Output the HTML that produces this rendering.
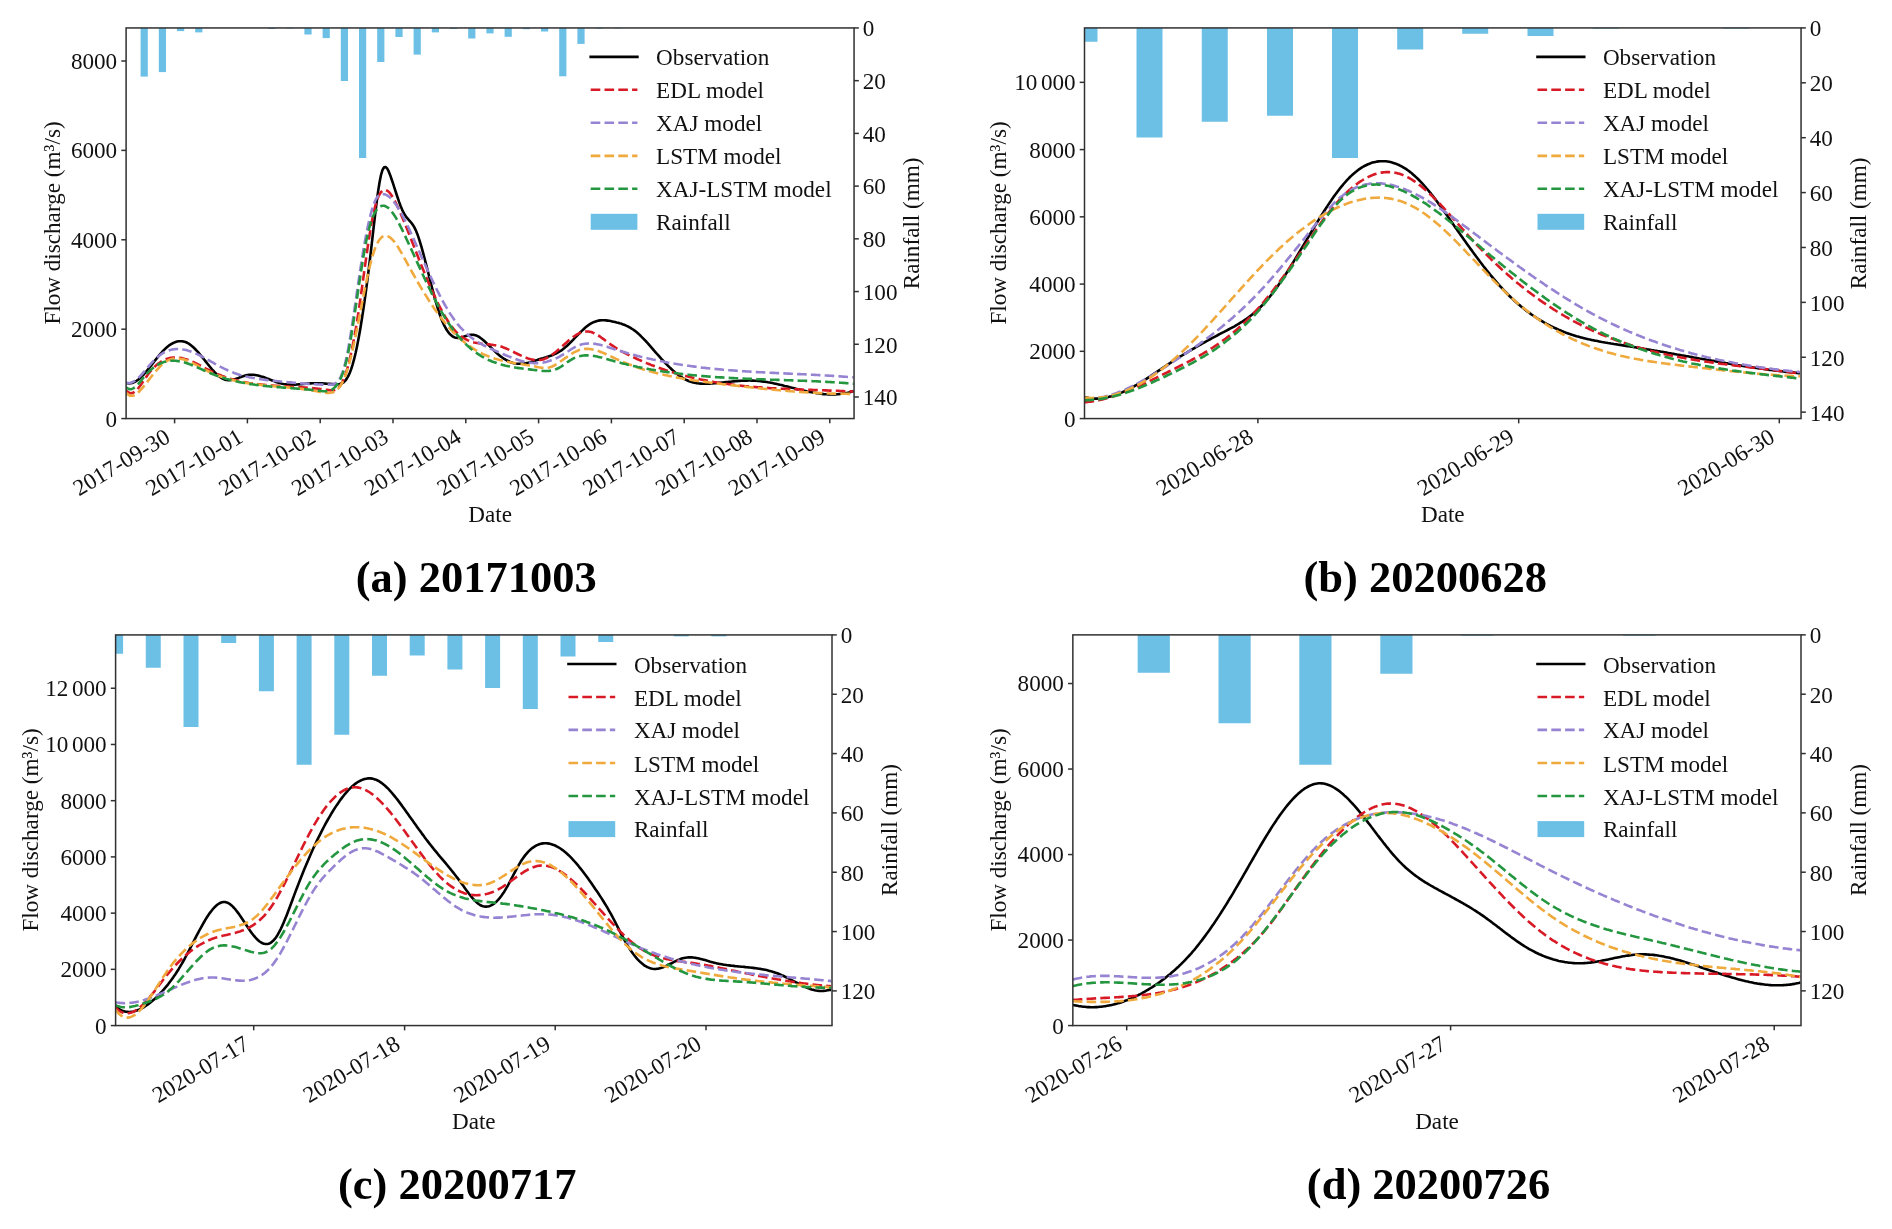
<!DOCTYPE html>
<html><head><meta charset="utf-8"><title>Flood event hydrographs</title>
<style>html,body{margin:0;padding:0;background:#fff;overflow:hidden}svg{display:block;will-change:transform;filter:blur(0.45px)}</style>
</head><body>
<svg width="1892" height="1229" viewBox="0 0 1892 1229" font-family='"Liberation Serif", serif' fill="#111">
<rect width="1892" height="1229" fill="#fff"/>
<clipPath id="cpa"><rect x="126.1" y="27.9" width="727.9" height="390.6"/></clipPath>
<g clip-path="url(#cpa)" fill="#6cc0e6">
<rect x="140.60" y="27.95" width="7.20" height="48.65"/>
<rect x="158.80" y="27.95" width="7.20" height="44.15"/>
<rect x="177.00" y="27.95" width="7.20" height="3.15"/>
<rect x="195.20" y="27.95" width="7.20" height="4.45"/>
<rect x="268.00" y="27.95" width="7.20" height="1.05"/>
<rect x="286.20" y="27.95" width="7.20" height="0.55"/>
<rect x="304.40" y="27.95" width="7.20" height="6.55"/>
<rect x="322.60" y="27.95" width="7.20" height="10.15"/>
<rect x="340.80" y="27.95" width="7.20" height="53.05"/>
<rect x="359.00" y="27.95" width="7.20" height="130.05"/>
<rect x="377.20" y="27.95" width="7.20" height="34.05"/>
<rect x="395.40" y="27.95" width="7.20" height="9.05"/>
<rect x="413.60" y="27.95" width="7.20" height="26.65"/>
<rect x="431.80" y="27.95" width="7.20" height="4.45"/>
<rect x="450.00" y="27.95" width="7.20" height="1.05"/>
<rect x="468.20" y="27.95" width="7.20" height="10.55"/>
<rect x="486.40" y="27.95" width="7.20" height="5.45"/>
<rect x="504.60" y="27.95" width="7.20" height="8.85"/>
<rect x="522.80" y="27.95" width="7.20" height="1.25"/>
<rect x="541.00" y="27.95" width="7.20" height="3.55"/>
<rect x="559.20" y="27.95" width="7.20" height="48.35"/>
<rect x="577.40" y="27.95" width="7.20" height="15.95"/>
<rect x="595.60" y="27.95" width="7.20" height="0.75"/>
<rect x="613.80" y="27.95" width="7.20" height="0.45"/>
</g>
<g clip-path="url(#cpa)" fill="none" stroke-width="2.60" stroke-linejoin="round">
<path d="M126.1 382.9 L127.6 383.2 L129.1 383.4 L130.6 383.3 L132.1 382.9 L133.6 382.4 L135.1 381.7 L136.6 380.8 L138.1 379.7 L139.6 378.4 L141.1 377.1 L142.6 375.6 L144.1 374.0 L145.6 372.3 L147.1 370.5 L148.6 368.7 L150.1 366.8 L151.6 364.9 L153.1 363.0 L154.6 361.0 L156.1 359.1 L157.6 357.3 L159.1 355.4 L160.6 353.7 L162.1 352.0 L163.6 350.4 L165.1 348.9 L166.6 347.5 L168.1 346.3 L169.6 345.1 L171.1 344.2 L172.6 343.3 L174.1 342.6 L175.6 342.0 L177.1 341.6 L178.6 341.3 L180.1 341.2 L181.6 341.3 L183.1 341.4 L184.6 341.8 L186.1 342.3 L187.6 343.0 L189.1 343.9 L190.6 345.0 L192.1 346.2 L193.6 347.5 L195.1 349.0 L196.6 350.6 L198.1 352.2 L199.6 354.0 L201.1 355.8 L202.6 357.6 L204.1 359.5 L205.6 361.4 L207.1 363.3 L208.6 365.2 L210.1 367.0 L211.6 368.8 L213.1 370.5 L214.6 372.1 L216.1 373.6 L217.6 375.0 L219.1 376.3 L220.6 377.4 L222.1 378.3 L223.6 379.1 L225.1 379.7 L226.6 380.0 L228.1 380.2 L229.6 380.2 L231.1 380.0 L232.6 379.8 L234.1 379.4 L235.6 378.9 L237.1 378.4 L238.6 377.9 L240.1 377.3 L241.6 376.7 L243.1 376.2 L244.6 375.7 L246.1 375.3 L247.6 375.0 L249.1 374.8 L250.6 374.7 L252.1 374.7 L253.6 374.8 L255.1 375.0 L256.6 375.2 L258.1 375.5 L259.6 375.9 L261.1 376.4 L262.6 376.8 L264.1 377.3 L265.6 377.9 L267.1 378.5 L268.6 379.0 L270.1 379.6 L271.6 380.2 L273.1 380.8 L274.6 381.4 L276.1 381.9 L277.6 382.4 L279.1 382.9 L280.6 383.3 L282.1 383.7 L283.6 384.0 L285.1 384.2 L286.6 384.4 L288.1 384.5 L289.6 384.6 L291.1 384.7 L292.6 384.7 L294.1 384.6 L295.6 384.6 L297.1 384.5 L298.6 384.4 L300.1 384.3 L301.6 384.2 L303.1 384.0 L304.6 383.9 L306.1 383.8 L307.6 383.6 L309.1 383.5 L310.6 383.4 L312.1 383.3 L313.6 383.3 L315.1 383.3 L316.6 383.3 L318.1 383.3 L319.6 383.3 L321.1 383.4 L322.6 383.4 L324.1 383.5 L325.6 383.6 L327.1 383.7 L328.6 383.8 L330.1 383.9 L331.6 384.0 L333.1 384.1 L334.6 384.2 L336.1 384.3 L337.6 384.3 L339.1 384.2 L340.6 383.8 L342.1 383.2 L343.6 382.3 L345.1 380.9 L346.6 378.9 L348.1 376.4 L349.6 373.3 L351.1 369.4 L352.6 364.7 L354.1 359.2 L355.6 353.0 L357.1 346.0 L358.6 338.3 L360.1 329.9 L361.6 320.8 L363.1 311.1 L364.6 300.8 L366.1 289.9 L367.6 278.4 L369.1 266.4 L370.6 253.9 L372.1 240.9 L373.6 227.7 L375.1 214.8 L376.6 202.5 L378.1 191.4 L379.6 182.0 L381.1 174.6 L382.6 169.7 L384.1 167.3 L385.6 167.0 L387.1 168.4 L388.6 171.2 L390.1 174.9 L391.6 179.2 L393.1 183.7 L394.6 188.3 L396.1 193.0 L397.6 197.5 L399.1 201.9 L400.6 206.0 L402.1 209.6 L403.6 212.7 L405.1 215.3 L406.6 217.4 L408.1 219.2 L409.6 220.8 L411.1 222.5 L412.6 224.5 L414.1 226.9 L415.6 229.8 L417.1 233.4 L418.6 237.6 L420.1 242.3 L421.6 247.4 L423.1 252.8 L424.6 258.5 L426.1 264.3 L427.6 270.3 L429.1 276.2 L430.6 282.2 L432.1 288.0 L433.6 293.7 L435.1 299.3 L436.6 304.5 L438.1 309.5 L439.6 314.0 L441.1 318.2 L442.6 321.9 L444.1 325.1 L445.6 328.0 L447.1 330.5 L448.6 332.6 L450.1 334.3 L451.6 335.6 L453.1 336.7 L454.6 337.4 L456.1 337.8 L457.6 337.9 L459.1 337.9 L460.6 337.6 L462.1 337.2 L463.6 336.7 L465.1 336.2 L466.6 335.7 L468.1 335.2 L469.6 334.9 L471.1 334.7 L472.6 334.7 L474.1 334.9 L475.6 335.3 L477.1 335.9 L478.6 336.7 L480.1 337.7 L481.6 338.8 L483.1 340.0 L484.6 341.3 L486.1 342.7 L487.6 344.1 L489.1 345.6 L490.6 347.1 L492.1 348.6 L493.6 350.1 L495.1 351.6 L496.6 353.0 L498.1 354.3 L499.6 355.6 L501.1 356.7 L502.6 357.8 L504.1 358.8 L505.6 359.7 L507.1 360.5 L508.6 361.2 L510.1 361.9 L511.6 362.4 L513.1 362.9 L514.6 363.2 L516.1 363.5 L517.6 363.7 L519.1 363.8 L520.6 363.8 L522.1 363.8 L523.6 363.6 L525.1 363.4 L526.6 363.1 L528.1 362.8 L529.6 362.4 L531.1 362.0 L532.6 361.5 L534.1 361.0 L535.6 360.5 L537.1 360.1 L538.6 359.6 L540.1 359.1 L541.6 358.6 L543.1 358.2 L544.6 357.7 L546.1 357.3 L547.6 356.8 L549.1 356.3 L550.6 355.8 L552.1 355.2 L553.6 354.6 L555.1 353.9 L556.6 353.2 L558.1 352.4 L559.6 351.5 L561.1 350.6 L562.6 349.5 L564.1 348.3 L565.6 347.0 L567.1 345.7 L568.6 344.3 L570.1 342.8 L571.6 341.3 L573.1 339.8 L574.6 338.2 L576.1 336.7 L577.6 335.1 L579.1 333.6 L580.6 332.0 L582.1 330.6 L583.6 329.2 L585.1 327.8 L586.6 326.6 L588.1 325.4 L589.6 324.3 L591.1 323.4 L592.6 322.6 L594.1 321.9 L595.6 321.4 L597.1 320.9 L598.6 320.6 L600.1 320.4 L601.6 320.3 L603.1 320.3 L604.6 320.3 L606.1 320.4 L607.6 320.6 L609.1 320.8 L610.6 321.1 L612.1 321.4 L613.6 321.7 L615.1 322.0 L616.6 322.4 L618.1 322.7 L619.6 323.2 L621.1 323.6 L622.6 324.2 L624.1 324.7 L625.6 325.4 L627.1 326.1 L628.6 326.8 L630.1 327.6 L631.6 328.6 L633.1 329.5 L634.6 330.6 L636.1 331.8 L637.6 333.0 L639.1 334.4 L640.6 335.8 L642.1 337.3 L643.6 338.8 L645.1 340.4 L646.6 342.0 L648.1 343.7 L649.6 345.4 L651.1 347.1 L652.6 348.8 L654.1 350.6 L655.6 352.3 L657.1 354.0 L658.6 355.7 L660.1 357.4 L661.6 359.1 L663.1 360.7 L664.6 362.3 L666.1 363.9 L667.6 365.4 L669.1 366.9 L670.6 368.3 L672.1 369.7 L673.6 371.1 L675.1 372.4 L676.6 373.6 L678.1 374.8 L679.6 375.9 L681.1 376.9 L682.6 377.9 L684.1 378.8 L685.6 379.6 L687.1 380.3 L688.6 381.0 L690.1 381.5 L691.6 382.0 L693.1 382.4 L694.6 382.8 L696.1 383.1 L697.6 383.3 L699.1 383.5 L700.6 383.6 L702.1 383.7 L703.6 383.7 L705.1 383.7 L706.6 383.7 L708.1 383.6 L709.6 383.6 L711.1 383.5 L712.6 383.4 L714.1 383.3 L715.6 383.2 L717.1 383.0 L718.6 382.9 L720.1 382.8 L721.6 382.6 L723.1 382.5 L724.6 382.3 L726.1 382.1 L727.6 382.0 L729.1 381.8 L730.6 381.7 L732.1 381.5 L733.6 381.4 L735.1 381.3 L736.6 381.1 L738.1 381.0 L739.6 380.9 L741.1 380.8 L742.6 380.7 L744.1 380.7 L745.6 380.6 L747.1 380.6 L748.6 380.5 L750.1 380.5 L751.6 380.6 L753.1 380.6 L754.6 380.7 L756.1 380.8 L757.6 380.9 L759.1 381.0 L760.6 381.2 L762.1 381.4 L763.6 381.6 L765.1 381.8 L766.6 382.0 L768.1 382.3 L769.6 382.5 L771.1 382.8 L772.6 383.1 L774.1 383.4 L775.6 383.7 L777.1 384.1 L778.6 384.4 L780.1 384.8 L781.6 385.1 L783.1 385.5 L784.6 385.9 L786.1 386.2 L787.6 386.6 L789.1 387.0 L790.6 387.4 L792.1 387.8 L793.6 388.1 L795.1 388.5 L796.6 388.9 L798.1 389.3 L799.6 389.6 L801.1 390.0 L802.6 390.4 L804.1 390.7 L805.6 391.0 L807.1 391.4 L808.6 391.7 L810.1 392.0 L811.6 392.3 L813.1 392.6 L814.6 392.8 L816.1 393.1 L817.6 393.3 L819.1 393.5 L820.6 393.7 L822.1 393.9 L823.6 394.1 L825.1 394.2 L826.6 394.3 L828.1 394.4 L829.6 394.4 L831.1 394.5 L832.6 394.5 L834.1 394.4 L835.6 394.4 L837.1 394.3 L838.6 394.2 L840.1 394.0 L841.6 393.8 L843.1 393.6 L844.6 393.4 L846.1 393.1 L847.6 392.8 L849.1 392.4 L850.6 392.0 L852.1 391.5 L853.6 391.1" stroke="#000000"/>
<path d="M126.1 390.5 L127.6 391.9 L129.1 392.8 L130.6 393.2 L132.1 393.1 L133.6 392.5 L135.1 391.5 L136.6 390.1 L138.1 388.4 L139.6 386.5 L141.1 384.5 L142.6 382.3 L144.1 380.1 L145.6 377.9 L147.1 375.7 L148.6 373.6 L150.1 371.7 L151.6 370.0 L153.1 368.3 L154.6 366.8 L156.1 365.4 L157.6 364.1 L159.1 363.0 L160.6 362.0 L162.1 361.0 L163.6 360.2 L165.1 359.5 L166.6 358.9 L168.1 358.5 L169.6 358.1 L171.1 357.8 L172.6 357.6 L174.1 357.5 L175.6 357.5 L177.1 357.5 L178.6 357.7 L180.1 357.9 L181.6 358.1 L183.1 358.5 L184.6 358.9 L186.1 359.3 L187.6 359.8 L189.1 360.4 L190.6 361.0 L192.1 361.6 L193.6 362.3 L195.1 363.0 L196.6 363.7 L198.1 364.5 L199.6 365.2 L201.1 366.0 L202.6 366.8 L204.1 367.6 L205.6 368.4 L207.1 369.1 L208.6 369.9 L210.1 370.7 L211.6 371.4 L213.1 372.1 L214.6 372.8 L216.1 373.5 L217.6 374.1 L219.1 374.7 L220.6 375.3 L222.1 375.9 L223.6 376.4 L225.1 377.0 L226.6 377.5 L228.1 378.0 L229.6 378.4 L231.1 378.9 L232.6 379.3 L234.1 379.7 L235.6 380.1 L237.1 380.5 L238.6 380.9 L240.1 381.2 L241.6 381.6 L243.1 381.9 L244.6 382.2 L246.1 382.4 L247.6 382.7 L249.1 383.0 L250.6 383.2 L252.1 383.4 L253.6 383.7 L255.1 383.9 L256.6 384.1 L258.1 384.3 L259.6 384.4 L261.1 384.6 L262.6 384.8 L264.1 384.9 L265.6 385.0 L267.1 385.2 L268.6 385.3 L270.1 385.4 L271.6 385.5 L273.1 385.6 L274.6 385.7 L276.1 385.8 L277.6 385.9 L279.1 386.0 L280.6 386.1 L282.1 386.2 L283.6 386.3 L285.1 386.4 L286.6 386.4 L288.1 386.5 L289.6 386.6 L291.1 386.7 L292.6 386.7 L294.1 386.8 L295.6 386.9 L297.1 387.0 L298.6 387.1 L300.1 387.2 L301.6 387.3 L303.1 387.4 L304.6 387.5 L306.1 387.6 L307.6 387.7 L309.1 387.8 L310.6 387.9 L312.1 388.1 L313.6 388.2 L315.1 388.4 L316.6 388.5 L318.1 388.7 L319.6 388.9 L321.1 389.0 L322.6 389.2 L324.1 389.4 L325.6 389.7 L327.1 389.9 L328.6 390.1 L330.1 390.3 L331.6 390.4 L333.1 390.4 L334.6 390.1 L336.1 389.4 L337.6 388.5 L339.1 387.0 L340.6 385.1 L342.1 382.6 L343.6 379.4 L345.1 375.6 L346.6 371.0 L348.1 365.8 L349.6 359.9 L351.1 353.3 L352.6 346.1 L354.1 338.3 L355.6 329.9 L357.1 320.9 L358.6 311.2 L360.1 301.1 L361.6 290.5 L363.1 279.7 L364.6 268.9 L366.1 258.2 L367.6 247.8 L369.1 237.9 L370.6 228.6 L372.1 220.2 L373.6 212.8 L375.1 206.5 L376.6 201.4 L378.1 197.3 L379.6 194.2 L381.1 192.0 L382.6 190.6 L384.1 189.9 L385.6 190.0 L387.1 190.6 L388.6 191.7 L390.1 193.3 L391.6 195.4 L393.1 197.8 L394.6 200.5 L396.1 203.5 L397.6 206.7 L399.1 210.0 L400.6 213.4 L402.1 216.9 L403.6 220.5 L405.1 224.1 L406.6 227.8 L408.1 231.6 L409.6 235.4 L411.1 239.2 L412.6 243.0 L414.1 246.9 L415.6 250.7 L417.1 254.5 L418.6 258.3 L420.1 262.1 L421.6 265.9 L423.1 269.6 L424.6 273.3 L426.1 276.9 L427.6 280.4 L429.1 284.0 L430.6 287.4 L432.1 290.8 L433.6 294.1 L435.1 297.3 L436.6 300.5 L438.1 303.6 L439.6 306.5 L441.1 309.4 L442.6 312.2 L444.1 314.8 L445.6 317.4 L447.1 319.8 L448.6 322.2 L450.1 324.4 L451.6 326.4 L453.1 328.3 L454.6 330.1 L456.1 331.8 L457.6 333.3 L459.1 334.6 L460.6 335.9 L462.1 337.0 L463.6 338.0 L465.1 338.9 L466.6 339.7 L468.1 340.4 L469.6 341.0 L471.1 341.5 L472.6 342.0 L474.1 342.4 L475.6 342.7 L477.1 343.0 L478.6 343.3 L480.1 343.5 L481.6 343.7 L483.1 343.8 L484.6 344.0 L486.1 344.1 L487.6 344.3 L489.1 344.4 L490.6 344.6 L492.1 344.7 L493.6 345.0 L495.1 345.2 L496.6 345.5 L498.1 345.8 L499.6 346.2 L501.1 346.6 L502.6 347.1 L504.1 347.7 L505.6 348.3 L507.1 348.9 L508.6 349.6 L510.1 350.3 L511.6 351.0 L513.1 351.8 L514.6 352.5 L516.1 353.3 L517.6 354.0 L519.1 354.7 L520.6 355.4 L522.1 356.1 L523.6 356.8 L525.1 357.4 L526.6 357.9 L528.1 358.5 L529.6 358.9 L531.1 359.3 L532.6 359.6 L534.1 359.9 L535.6 360.0 L537.1 360.1 L538.6 360.1 L540.1 360.0 L541.6 359.7 L543.1 359.4 L544.6 358.9 L546.1 358.3 L547.6 357.5 L549.1 356.7 L550.6 355.7 L552.1 354.7 L553.6 353.6 L555.1 352.4 L556.6 351.2 L558.1 349.9 L559.6 348.6 L561.1 347.3 L562.6 345.9 L564.1 344.6 L565.6 343.2 L567.1 341.9 L568.6 340.6 L570.1 339.4 L571.6 338.2 L573.1 337.1 L574.6 336.0 L576.1 335.0 L577.6 334.2 L579.1 333.4 L580.6 332.7 L582.1 332.2 L583.6 331.8 L585.1 331.6 L586.6 331.5 L588.1 331.5 L589.6 331.7 L591.1 332.1 L592.6 332.6 L594.1 333.2 L595.6 334.0 L597.1 334.8 L598.6 335.7 L600.1 336.7 L601.6 337.8 L603.1 338.8 L604.6 339.9 L606.1 341.1 L607.6 342.2 L609.1 343.3 L610.6 344.4 L612.1 345.4 L613.6 346.4 L615.1 347.4 L616.6 348.3 L618.1 349.2 L619.6 350.1 L621.1 351.0 L622.6 351.8 L624.1 352.6 L625.6 353.4 L627.1 354.2 L628.6 354.9 L630.1 355.7 L631.6 356.4 L633.1 357.1 L634.6 357.8 L636.1 358.5 L637.6 359.2 L639.1 359.9 L640.6 360.5 L642.1 361.2 L643.6 361.8 L645.1 362.4 L646.6 363.1 L648.1 363.7 L649.6 364.3 L651.1 364.9 L652.6 365.4 L654.1 366.0 L655.6 366.6 L657.1 367.1 L658.6 367.7 L660.1 368.2 L661.6 368.7 L663.1 369.2 L664.6 369.8 L666.1 370.3 L667.6 370.7 L669.1 371.2 L670.6 371.7 L672.1 372.2 L673.6 372.6 L675.1 373.1 L676.6 373.5 L678.1 373.9 L679.6 374.3 L681.1 374.8 L682.6 375.2 L684.1 375.6 L685.6 375.9 L687.1 376.3 L688.6 376.7 L690.1 377.1 L691.6 377.4 L693.1 377.8 L694.6 378.1 L696.1 378.5 L697.6 378.8 L699.1 379.1 L700.6 379.4 L702.1 379.7 L703.6 380.0 L705.1 380.3 L706.6 380.6 L708.1 380.9 L709.6 381.2 L711.1 381.5 L712.6 381.7 L714.1 382.0 L715.6 382.2 L717.1 382.5 L718.6 382.7 L720.1 383.0 L721.6 383.2 L723.1 383.4 L724.6 383.6 L726.1 383.8 L727.6 384.0 L729.1 384.3 L730.6 384.4 L732.1 384.6 L733.6 384.8 L735.1 385.0 L736.6 385.2 L738.1 385.4 L739.6 385.5 L741.1 385.7 L742.6 385.9 L744.1 386.0 L745.6 386.2 L747.1 386.3 L748.6 386.4 L750.1 386.6 L751.6 386.7 L753.1 386.8 L754.6 387.0 L756.1 387.1 L757.6 387.2 L759.1 387.3 L760.6 387.4 L762.1 387.6 L763.6 387.7 L765.1 387.8 L766.6 387.9 L768.1 388.0 L769.6 388.1 L771.1 388.2 L772.6 388.2 L774.1 388.3 L775.6 388.4 L777.1 388.5 L778.6 388.6 L780.1 388.7 L781.6 388.7 L783.1 388.8 L784.6 388.9 L786.1 388.9 L787.6 389.0 L789.1 389.1 L790.6 389.1 L792.1 389.2 L793.6 389.3 L795.1 389.3 L796.6 389.4 L798.1 389.4 L799.6 389.5 L801.1 389.6 L802.6 389.6 L804.1 389.7 L805.6 389.7 L807.1 389.8 L808.6 389.8 L810.1 389.9 L811.6 389.9 L813.1 390.0 L814.6 390.0 L816.1 390.1 L817.6 390.1 L819.1 390.2 L820.6 390.2 L822.1 390.3 L823.6 390.3 L825.1 390.4 L826.6 390.4 L828.1 390.5 L829.6 390.6 L831.1 390.6 L832.6 390.7 L834.1 390.7 L835.6 390.8 L837.1 390.8 L838.6 390.9 L840.1 391.0 L841.6 391.0 L843.1 391.1 L844.6 391.2 L846.1 391.2 L847.6 391.3 L849.1 391.4 L850.6 391.4 L852.1 391.5 L853.6 391.6" stroke="#d71a26" stroke-dasharray="9.6 4.2"/>
<path d="M126.1 382.8 L127.6 383.1 L129.1 383.1 L130.6 382.8 L132.1 382.3 L133.6 381.5 L135.1 380.6 L136.6 379.4 L138.1 378.1 L139.6 376.7 L141.1 375.1 L142.6 373.5 L144.1 371.7 L145.6 370.0 L147.1 368.2 L148.6 366.4 L150.1 364.6 L151.6 362.9 L153.1 361.3 L154.6 359.7 L156.1 358.3 L157.6 356.9 L159.1 355.7 L160.6 354.6 L162.1 353.6 L163.6 352.7 L165.1 351.9 L166.6 351.3 L168.1 350.7 L169.6 350.2 L171.1 349.8 L172.6 349.4 L174.1 349.2 L175.6 349.1 L177.1 349.0 L178.6 349.0 L180.1 349.1 L181.6 349.2 L183.1 349.5 L184.6 349.7 L186.1 350.1 L187.6 350.5 L189.1 350.9 L190.6 351.4 L192.1 352.0 L193.6 352.6 L195.1 353.2 L196.6 353.9 L198.1 354.6 L199.6 355.3 L201.1 356.1 L202.6 356.9 L204.1 357.7 L205.6 358.5 L207.1 359.3 L208.6 360.2 L210.1 361.0 L211.6 361.9 L213.1 362.7 L214.6 363.6 L216.1 364.4 L217.6 365.3 L219.1 366.1 L220.6 366.9 L222.1 367.6 L223.6 368.4 L225.1 369.1 L226.6 369.8 L228.1 370.5 L229.6 371.1 L231.1 371.7 L232.6 372.3 L234.1 372.9 L235.6 373.4 L237.1 373.9 L238.6 374.4 L240.1 374.9 L241.6 375.3 L243.1 375.7 L244.6 376.1 L246.1 376.5 L247.6 376.8 L249.1 377.2 L250.6 377.5 L252.1 377.8 L253.6 378.1 L255.1 378.4 L256.6 378.6 L258.1 378.9 L259.6 379.1 L261.1 379.3 L262.6 379.5 L264.1 379.7 L265.6 379.9 L267.1 380.1 L268.6 380.3 L270.1 380.4 L271.6 380.6 L273.1 380.7 L274.6 380.9 L276.1 381.0 L277.6 381.2 L279.1 381.3 L280.6 381.5 L282.1 381.6 L283.6 381.7 L285.1 381.9 L286.6 382.0 L288.1 382.2 L289.6 382.3 L291.1 382.4 L292.6 382.6 L294.1 382.7 L295.6 382.9 L297.1 383.0 L298.6 383.1 L300.1 383.3 L301.6 383.4 L303.1 383.5 L304.6 383.7 L306.1 383.8 L307.6 383.9 L309.1 384.0 L310.6 384.1 L312.1 384.2 L313.6 384.3 L315.1 384.3 L316.6 384.4 L318.1 384.5 L319.6 384.5 L321.1 384.6 L322.6 384.6 L324.1 384.6 L325.6 384.6 L327.1 384.6 L328.6 384.6 L330.1 384.6 L331.6 384.5 L333.1 384.3 L334.6 383.8 L336.1 383.0 L337.6 381.7 L339.1 379.8 L340.6 377.1 L342.1 373.6 L343.6 369.2 L345.1 363.7 L346.6 357.0 L348.1 349.4 L349.6 340.9 L351.1 331.7 L352.6 321.9 L354.1 311.8 L355.6 301.5 L357.1 291.0 L358.6 280.7 L360.1 270.7 L361.6 261.0 L363.1 251.8 L364.6 243.1 L366.1 235.0 L367.6 227.5 L369.1 220.6 L370.6 214.5 L372.1 209.1 L373.6 204.6 L375.1 200.9 L376.6 198.1 L378.1 196.1 L379.6 194.9 L381.1 194.2 L382.6 194.0 L384.1 194.2 L385.6 194.6 L387.1 195.4 L388.6 196.4 L390.1 197.6 L391.6 199.1 L393.1 200.8 L394.6 202.7 L396.1 204.8 L397.6 207.1 L399.1 209.5 L400.6 212.1 L402.1 214.8 L403.6 217.7 L405.1 220.6 L406.6 223.7 L408.1 226.8 L409.6 230.1 L411.1 233.3 L412.6 236.7 L414.1 240.0 L415.6 243.4 L417.1 246.7 L418.6 250.1 L420.1 253.5 L421.6 256.9 L423.1 260.2 L424.6 263.6 L426.1 266.9 L427.6 270.2 L429.1 273.4 L430.6 276.7 L432.1 279.9 L433.6 283.0 L435.1 286.1 L436.6 289.2 L438.1 292.2 L439.6 295.1 L441.1 298.0 L442.6 300.8 L444.1 303.5 L445.6 306.2 L447.1 308.7 L448.6 311.2 L450.1 313.6 L451.6 315.9 L453.1 318.1 L454.6 320.2 L456.1 322.2 L457.6 324.1 L459.1 325.9 L460.6 327.6 L462.1 329.2 L463.6 330.7 L465.1 332.2 L466.6 333.6 L468.1 334.9 L469.6 336.2 L471.1 337.4 L472.6 338.5 L474.1 339.6 L475.6 340.6 L477.1 341.6 L478.6 342.5 L480.1 343.4 L481.6 344.2 L483.1 345.0 L484.6 345.8 L486.1 346.5 L487.6 347.3 L489.1 348.0 L490.6 348.7 L492.1 349.3 L493.6 350.0 L495.1 350.6 L496.6 351.3 L498.1 351.9 L499.6 352.6 L501.1 353.2 L502.6 353.9 L504.1 354.5 L505.6 355.2 L507.1 355.8 L508.6 356.4 L510.1 357.0 L511.6 357.6 L513.1 358.2 L514.6 358.7 L516.1 359.2 L517.6 359.7 L519.1 360.2 L520.6 360.7 L522.1 361.1 L523.6 361.5 L525.1 361.8 L526.6 362.1 L528.1 362.4 L529.6 362.7 L531.1 362.8 L532.6 363.0 L534.1 363.1 L535.6 363.1 L537.1 363.1 L538.6 363.1 L540.1 363.0 L541.6 362.8 L543.1 362.6 L544.6 362.3 L546.1 362.0 L547.6 361.6 L549.1 361.1 L550.6 360.6 L552.1 360.1 L553.6 359.5 L555.1 358.8 L556.6 358.1 L558.1 357.4 L559.6 356.6 L561.1 355.7 L562.6 354.8 L564.1 353.9 L565.6 352.9 L567.1 351.9 L568.6 351.0 L570.1 350.0 L571.6 349.0 L573.1 348.1 L574.6 347.3 L576.1 346.5 L577.6 345.8 L579.1 345.2 L580.6 344.7 L582.1 344.3 L583.6 344.0 L585.1 343.7 L586.6 343.6 L588.1 343.5 L589.6 343.4 L591.1 343.5 L592.6 343.6 L594.1 343.7 L595.6 343.9 L597.1 344.2 L598.6 344.5 L600.1 344.8 L601.6 345.2 L603.1 345.6 L604.6 346.0 L606.1 346.4 L607.6 346.9 L609.1 347.4 L610.6 347.9 L612.1 348.4 L613.6 348.9 L615.1 349.4 L616.6 349.8 L618.1 350.3 L619.6 350.8 L621.1 351.2 L622.6 351.7 L624.1 352.1 L625.6 352.6 L627.1 353.0 L628.6 353.5 L630.1 353.9 L631.6 354.3 L633.1 354.7 L634.6 355.1 L636.1 355.5 L637.6 355.9 L639.1 356.3 L640.6 356.7 L642.1 357.0 L643.6 357.4 L645.1 357.7 L646.6 358.1 L648.1 358.4 L649.6 358.8 L651.1 359.1 L652.6 359.5 L654.1 359.8 L655.6 360.1 L657.1 360.4 L658.6 360.7 L660.1 361.0 L661.6 361.3 L663.1 361.6 L664.6 361.9 L666.1 362.2 L667.6 362.5 L669.1 362.7 L670.6 363.0 L672.1 363.3 L673.6 363.5 L675.1 363.8 L676.6 364.0 L678.1 364.3 L679.6 364.5 L681.1 364.7 L682.6 365.0 L684.1 365.2 L685.6 365.4 L687.1 365.6 L688.6 365.8 L690.1 366.0 L691.6 366.2 L693.1 366.4 L694.6 366.6 L696.1 366.8 L697.6 367.0 L699.1 367.2 L700.6 367.4 L702.1 367.6 L703.6 367.7 L705.1 367.9 L706.6 368.1 L708.1 368.2 L709.6 368.4 L711.1 368.5 L712.6 368.7 L714.1 368.8 L715.6 369.0 L717.1 369.1 L718.6 369.3 L720.1 369.4 L721.6 369.5 L723.1 369.7 L724.6 369.8 L726.1 369.9 L727.6 370.1 L729.1 370.2 L730.6 370.3 L732.1 370.4 L733.6 370.5 L735.1 370.6 L736.6 370.7 L738.1 370.9 L739.6 371.0 L741.1 371.1 L742.6 371.2 L744.1 371.3 L745.6 371.4 L747.1 371.5 L748.6 371.5 L750.1 371.6 L751.6 371.7 L753.1 371.8 L754.6 371.9 L756.1 372.0 L757.6 372.1 L759.1 372.2 L760.6 372.2 L762.1 372.3 L763.6 372.4 L765.1 372.5 L766.6 372.6 L768.1 372.6 L769.6 372.7 L771.1 372.8 L772.6 372.9 L774.1 372.9 L775.6 373.0 L777.1 373.1 L778.6 373.1 L780.1 373.2 L781.6 373.3 L783.1 373.4 L784.6 373.4 L786.1 373.5 L787.6 373.6 L789.1 373.6 L790.6 373.7 L792.1 373.8 L793.6 373.8 L795.1 373.9 L796.6 374.0 L798.1 374.1 L799.6 374.1 L801.1 374.2 L802.6 374.3 L804.1 374.3 L805.6 374.4 L807.1 374.5 L808.6 374.6 L810.1 374.6 L811.6 374.7 L813.1 374.8 L814.6 374.9 L816.1 375.0 L817.6 375.0 L819.1 375.1 L820.6 375.2 L822.1 375.3 L823.6 375.4 L825.1 375.5 L826.6 375.5 L828.1 375.6 L829.6 375.7 L831.1 375.8 L832.6 375.9 L834.1 376.0 L835.6 376.1 L837.1 376.2 L838.6 376.3 L840.1 376.4 L841.6 376.5 L843.1 376.6 L844.6 376.7 L846.1 376.8 L847.6 377.0 L849.1 377.1 L850.6 377.2 L852.1 377.3 L853.6 377.4" stroke="#9684d2" stroke-dasharray="9.6 4.2"/>
<path d="M126.1 392.8 L127.6 394.2 L129.1 395.2 L130.6 395.8 L132.1 395.8 L133.6 395.5 L135.1 394.8 L136.6 393.8 L138.1 392.5 L139.6 391.0 L141.1 389.4 L142.6 387.6 L144.1 385.8 L145.6 384.0 L147.1 382.1 L148.6 380.1 L150.1 378.2 L151.6 376.3 L153.1 374.4 L154.6 372.6 L156.1 370.8 L157.6 369.1 L159.1 367.5 L160.6 365.9 L162.1 364.5 L163.6 363.3 L165.1 362.1 L166.6 361.2 L168.1 360.4 L169.6 359.7 L171.1 359.2 L172.6 358.8 L174.1 358.6 L175.6 358.4 L177.1 358.4 L178.6 358.5 L180.1 358.7 L181.6 359.0 L183.1 359.3 L184.6 359.8 L186.1 360.3 L187.6 360.9 L189.1 361.5 L190.6 362.2 L192.1 362.9 L193.6 363.6 L195.1 364.4 L196.6 365.2 L198.1 366.0 L199.6 366.8 L201.1 367.7 L202.6 368.5 L204.1 369.3 L205.6 370.1 L207.1 370.8 L208.6 371.5 L210.1 372.2 L211.6 372.9 L213.1 373.5 L214.6 374.2 L216.1 374.8 L217.6 375.4 L219.1 375.9 L220.6 376.5 L222.1 377.0 L223.6 377.5 L225.1 378.0 L226.6 378.4 L228.1 378.9 L229.6 379.3 L231.1 379.7 L232.6 380.1 L234.1 380.4 L235.6 380.8 L237.1 381.1 L238.6 381.5 L240.1 381.8 L241.6 382.1 L243.1 382.3 L244.6 382.6 L246.1 382.9 L247.6 383.1 L249.1 383.4 L250.6 383.6 L252.1 383.8 L253.6 384.0 L255.1 384.2 L256.6 384.4 L258.1 384.6 L259.6 384.8 L261.1 384.9 L262.6 385.1 L264.1 385.2 L265.6 385.4 L267.1 385.5 L268.6 385.7 L270.1 385.8 L271.6 386.0 L273.1 386.1 L274.6 386.2 L276.1 386.4 L277.6 386.5 L279.1 386.6 L280.6 386.7 L282.1 386.9 L283.6 387.0 L285.1 387.1 L286.6 387.3 L288.1 387.4 L289.6 387.6 L291.1 387.7 L292.6 387.8 L294.1 388.0 L295.6 388.2 L297.1 388.3 L298.6 388.5 L300.1 388.7 L301.6 388.9 L303.1 389.1 L304.6 389.3 L306.1 389.5 L307.6 389.7 L309.1 390.0 L310.6 390.2 L312.1 390.5 L313.6 390.8 L315.1 391.0 L316.6 391.3 L318.1 391.6 L319.6 391.9 L321.1 392.2 L322.6 392.4 L324.1 392.6 L325.6 392.8 L327.1 392.9 L328.6 392.9 L330.1 392.8 L331.6 392.6 L333.1 392.2 L334.6 391.5 L336.1 390.5 L337.6 389.2 L339.1 387.5 L340.6 385.4 L342.1 382.8 L343.6 379.8 L345.1 376.2 L346.6 372.1 L348.1 367.4 L349.6 362.1 L351.1 356.2 L352.6 349.8 L354.1 343.0 L355.6 335.8 L357.1 328.3 L358.6 320.7 L360.1 313.0 L361.6 305.3 L363.1 297.6 L364.6 290.0 L366.1 282.7 L367.6 275.8 L369.1 269.1 L370.6 263.0 L372.1 257.4 L373.6 252.5 L375.1 248.3 L376.6 244.7 L378.1 241.8 L379.6 239.5 L381.1 237.8 L382.6 236.6 L384.1 236.0 L385.6 235.8 L387.1 236.0 L388.6 236.6 L390.1 237.5 L391.6 238.8 L393.1 240.3 L394.6 242.1 L396.1 244.2 L397.6 246.4 L399.1 248.8 L400.6 251.4 L402.1 254.0 L403.6 256.7 L405.1 259.4 L406.6 262.2 L408.1 264.9 L409.6 267.6 L411.1 270.3 L412.6 273.0 L414.1 275.7 L415.6 278.3 L417.1 280.9 L418.6 283.5 L420.1 286.1 L421.6 288.6 L423.1 291.1 L424.6 293.5 L426.1 295.9 L427.6 298.3 L429.1 300.7 L430.6 303.0 L432.1 305.3 L433.6 307.5 L435.1 309.7 L436.6 311.8 L438.1 313.9 L439.6 315.9 L441.1 317.9 L442.6 319.9 L444.1 321.7 L445.6 323.6 L447.1 325.4 L448.6 327.1 L450.1 328.8 L451.6 330.4 L453.1 332.0 L454.6 333.5 L456.1 335.0 L457.6 336.4 L459.1 337.8 L460.6 339.1 L462.1 340.4 L463.6 341.6 L465.1 342.8 L466.6 344.0 L468.1 345.1 L469.6 346.2 L471.1 347.2 L472.6 348.2 L474.1 349.1 L475.6 350.1 L477.1 350.9 L478.6 351.8 L480.1 352.6 L481.6 353.3 L483.1 354.1 L484.6 354.7 L486.1 355.4 L487.6 356.0 L489.1 356.6 L490.6 357.2 L492.1 357.7 L493.6 358.2 L495.1 358.7 L496.6 359.1 L498.1 359.6 L499.6 360.0 L501.1 360.3 L502.6 360.7 L504.1 361.0 L505.6 361.4 L507.1 361.7 L508.6 362.0 L510.1 362.2 L511.6 362.5 L513.1 362.8 L514.6 363.0 L516.1 363.3 L517.6 363.5 L519.1 363.8 L520.6 364.0 L522.1 364.2 L523.6 364.5 L525.1 364.7 L526.6 365.0 L528.1 365.2 L529.6 365.5 L531.1 365.8 L532.6 366.0 L534.1 366.3 L535.6 366.6 L537.1 367.0 L538.6 367.3 L540.1 367.5 L541.6 367.8 L543.1 367.9 L544.6 368.0 L546.1 368.0 L547.6 367.8 L549.1 367.5 L550.6 367.1 L552.1 366.5 L553.6 365.8 L555.1 365.0 L556.6 364.0 L558.1 363.1 L559.6 362.1 L561.1 361.0 L562.6 360.0 L564.1 358.9 L565.6 357.8 L567.1 356.8 L568.6 355.8 L570.1 354.8 L571.6 353.8 L573.1 352.9 L574.6 352.1 L576.1 351.4 L577.6 350.7 L579.1 350.1 L580.6 349.7 L582.1 349.3 L583.6 349.1 L585.1 348.9 L586.6 348.8 L588.1 348.9 L589.6 349.0 L591.1 349.2 L592.6 349.5 L594.1 349.8 L595.6 350.2 L597.1 350.6 L598.6 351.1 L600.1 351.7 L601.6 352.3 L603.1 352.9 L604.6 353.5 L606.1 354.2 L607.6 354.9 L609.1 355.6 L610.6 356.3 L612.1 357.0 L613.6 357.7 L615.1 358.4 L616.6 359.1 L618.1 359.8 L619.6 360.5 L621.1 361.1 L622.6 361.7 L624.1 362.4 L625.6 363.0 L627.1 363.6 L628.6 364.2 L630.1 364.7 L631.6 365.3 L633.1 365.8 L634.6 366.4 L636.1 366.9 L637.6 367.4 L639.1 367.9 L640.6 368.4 L642.1 368.9 L643.6 369.4 L645.1 369.8 L646.6 370.3 L648.1 370.7 L649.6 371.2 L651.1 371.6 L652.6 372.0 L654.1 372.4 L655.6 372.8 L657.1 373.2 L658.6 373.6 L660.1 373.9 L661.6 374.3 L663.1 374.6 L664.6 375.0 L666.1 375.3 L667.6 375.6 L669.1 376.0 L670.6 376.3 L672.1 376.6 L673.6 376.9 L675.1 377.2 L676.6 377.5 L678.1 377.8 L679.6 378.0 L681.1 378.3 L682.6 378.6 L684.1 378.8 L685.6 379.1 L687.1 379.3 L688.6 379.6 L690.1 379.8 L691.6 380.0 L693.1 380.3 L694.6 380.5 L696.1 380.7 L697.6 380.9 L699.1 381.1 L700.6 381.3 L702.1 381.5 L703.6 381.8 L705.1 381.9 L706.6 382.1 L708.1 382.3 L709.6 382.5 L711.1 382.7 L712.6 382.9 L714.1 383.1 L715.6 383.3 L717.1 383.5 L718.6 383.6 L720.1 383.8 L721.6 384.0 L723.1 384.2 L724.6 384.4 L726.1 384.5 L727.6 384.7 L729.1 384.9 L730.6 385.1 L732.1 385.2 L733.6 385.4 L735.1 385.6 L736.6 385.8 L738.1 385.9 L739.6 386.1 L741.1 386.3 L742.6 386.4 L744.1 386.6 L745.6 386.8 L747.1 387.0 L748.6 387.1 L750.1 387.3 L751.6 387.4 L753.1 387.6 L754.6 387.8 L756.1 387.9 L757.6 388.1 L759.1 388.3 L760.6 388.4 L762.1 388.6 L763.6 388.7 L765.1 388.9 L766.6 389.0 L768.1 389.2 L769.6 389.3 L771.1 389.5 L772.6 389.6 L774.1 389.8 L775.6 389.9 L777.1 390.0 L778.6 390.2 L780.1 390.3 L781.6 390.5 L783.1 390.6 L784.6 390.7 L786.1 390.8 L787.6 391.0 L789.1 391.1 L790.6 391.2 L792.1 391.3 L793.6 391.5 L795.1 391.6 L796.6 391.7 L798.1 391.8 L799.6 391.9 L801.1 392.0 L802.6 392.1 L804.1 392.2 L805.6 392.3 L807.1 392.4 L808.6 392.5 L810.1 392.6 L811.6 392.7 L813.1 392.8 L814.6 392.8 L816.1 392.9 L817.6 393.0 L819.1 393.1 L820.6 393.1 L822.1 393.2 L823.6 393.3 L825.1 393.3 L826.6 393.4 L828.1 393.5 L829.6 393.5 L831.1 393.6 L832.6 393.6 L834.1 393.6 L835.6 393.7 L837.1 393.7 L838.6 393.7 L840.1 393.8 L841.6 393.8 L843.1 393.8 L844.6 393.8 L846.1 393.8 L847.6 393.9 L849.1 393.9 L850.6 393.9 L852.1 393.9 L853.6 393.9" stroke="#efa93c" stroke-dasharray="9.6 4.2"/>
<path d="M126.1 387.4 L127.6 388.4 L129.1 389.1 L130.6 389.2 L132.1 388.9 L133.6 388.1 L135.1 387.1 L136.6 385.7 L138.1 384.1 L139.6 382.4 L141.1 380.6 L142.6 378.7 L144.1 376.9 L145.6 375.1 L147.1 373.4 L148.6 371.9 L150.1 370.5 L151.6 369.1 L153.1 367.9 L154.6 366.8 L156.1 365.8 L157.6 364.8 L159.1 364.0 L160.6 363.3 L162.1 362.7 L163.6 362.1 L165.1 361.7 L166.6 361.3 L168.1 361.0 L169.6 360.8 L171.1 360.7 L172.6 360.7 L174.1 360.7 L175.6 360.8 L177.1 360.9 L178.6 361.2 L180.1 361.4 L181.6 361.7 L183.1 362.1 L184.6 362.5 L186.1 363.0 L187.6 363.5 L189.1 364.0 L190.6 364.6 L192.1 365.2 L193.6 365.8 L195.1 366.4 L196.6 367.1 L198.1 367.8 L199.6 368.4 L201.1 369.1 L202.6 369.8 L204.1 370.5 L205.6 371.1 L207.1 371.8 L208.6 372.5 L210.1 373.1 L211.6 373.7 L213.1 374.3 L214.6 374.9 L216.1 375.5 L217.6 376.0 L219.1 376.5 L220.6 377.0 L222.1 377.5 L223.6 378.0 L225.1 378.4 L226.6 378.9 L228.1 379.3 L229.6 379.7 L231.1 380.1 L232.6 380.5 L234.1 380.9 L235.6 381.2 L237.1 381.6 L238.6 381.9 L240.1 382.2 L241.6 382.5 L243.1 382.8 L244.6 383.1 L246.1 383.4 L247.6 383.6 L249.1 383.9 L250.6 384.1 L252.1 384.3 L253.6 384.5 L255.1 384.8 L256.6 385.0 L258.1 385.1 L259.6 385.3 L261.1 385.5 L262.6 385.7 L264.1 385.9 L265.6 386.0 L267.1 386.2 L268.6 386.3 L270.1 386.5 L271.6 386.6 L273.1 386.7 L274.6 386.9 L276.1 387.0 L277.6 387.1 L279.1 387.2 L280.6 387.3 L282.1 387.5 L283.6 387.6 L285.1 387.7 L286.6 387.8 L288.1 387.9 L289.6 388.0 L291.1 388.1 L292.6 388.3 L294.1 388.4 L295.6 388.5 L297.1 388.6 L298.6 388.7 L300.1 388.8 L301.6 389.0 L303.1 389.1 L304.6 389.2 L306.1 389.4 L307.6 389.5 L309.1 389.6 L310.6 389.8 L312.1 389.9 L313.6 390.1 L315.1 390.3 L316.6 390.4 L318.1 390.6 L319.6 390.8 L321.1 391.0 L322.6 391.2 L324.1 391.3 L325.6 391.3 L327.1 391.2 L328.6 390.9 L330.1 390.5 L331.6 389.8 L333.1 388.8 L334.6 387.6 L336.1 385.9 L337.6 383.9 L339.1 381.5 L340.6 378.6 L342.1 375.1 L343.6 370.9 L345.1 365.9 L346.6 360.1 L348.1 353.2 L349.6 345.4 L351.1 336.8 L352.6 327.5 L354.1 317.8 L355.6 307.8 L357.1 297.7 L358.6 287.5 L360.1 277.5 L361.6 267.8 L363.1 258.5 L364.6 249.7 L366.1 241.7 L367.6 234.6 L369.1 228.4 L370.6 223.2 L372.1 218.8 L373.6 215.1 L375.1 212.2 L376.6 209.9 L378.1 208.1 L379.6 206.9 L381.1 206.1 L382.6 205.7 L384.1 205.8 L385.6 206.3 L387.1 207.1 L388.6 208.2 L390.1 209.7 L391.6 211.5 L393.1 213.5 L394.6 215.7 L396.1 218.2 L397.6 220.8 L399.1 223.6 L400.6 226.6 L402.1 229.6 L403.6 232.8 L405.1 235.9 L406.6 239.2 L408.1 242.4 L409.6 245.7 L411.1 248.9 L412.6 252.2 L414.1 255.5 L415.6 258.8 L417.1 262.1 L418.6 265.4 L420.1 268.7 L421.6 272.0 L423.1 275.2 L424.6 278.5 L426.1 281.7 L427.6 284.8 L429.1 288.0 L430.6 291.0 L432.1 294.1 L433.6 297.1 L435.1 300.0 L436.6 302.9 L438.1 305.7 L439.6 308.4 L441.1 311.1 L442.6 313.7 L444.1 316.2 L445.6 318.6 L447.1 321.0 L448.6 323.2 L450.1 325.4 L451.6 327.5 L453.1 329.6 L454.6 331.6 L456.1 333.5 L457.6 335.3 L459.1 337.0 L460.6 338.7 L462.1 340.4 L463.6 341.9 L465.1 343.4 L466.6 344.9 L468.1 346.3 L469.6 347.6 L471.1 348.9 L472.6 350.1 L474.1 351.2 L475.6 352.3 L477.1 353.4 L478.6 354.4 L480.1 355.4 L481.6 356.3 L483.1 357.1 L484.6 358.0 L486.1 358.7 L487.6 359.5 L489.1 360.2 L490.6 360.8 L492.1 361.5 L493.6 362.1 L495.1 362.6 L496.6 363.1 L498.1 363.6 L499.6 364.1 L501.1 364.5 L502.6 364.9 L504.1 365.3 L505.6 365.7 L507.1 366.0 L508.6 366.3 L510.1 366.6 L511.6 366.9 L513.1 367.2 L514.6 367.4 L516.1 367.7 L517.6 367.9 L519.1 368.1 L520.6 368.3 L522.1 368.5 L523.6 368.7 L525.1 368.9 L526.6 369.1 L528.1 369.2 L529.6 369.4 L531.1 369.6 L532.6 369.8 L534.1 370.0 L535.6 370.1 L537.1 370.3 L538.6 370.5 L540.1 370.7 L541.6 370.8 L543.1 371.0 L544.6 371.0 L546.1 371.0 L547.6 371.0 L549.1 370.9 L550.6 370.7 L552.1 370.4 L553.6 370.1 L555.1 369.6 L556.6 369.0 L558.1 368.3 L559.6 367.5 L561.1 366.6 L562.6 365.6 L564.1 364.5 L565.6 363.5 L567.1 362.4 L568.6 361.4 L570.1 360.4 L571.6 359.5 L573.1 358.7 L574.6 357.9 L576.1 357.3 L577.6 356.8 L579.1 356.3 L580.6 356.0 L582.1 355.7 L583.6 355.5 L585.1 355.4 L586.6 355.4 L588.1 355.4 L589.6 355.5 L591.1 355.6 L592.6 355.8 L594.1 356.0 L595.6 356.3 L597.1 356.6 L598.6 356.9 L600.1 357.3 L601.6 357.6 L603.1 358.1 L604.6 358.5 L606.1 358.9 L607.6 359.3 L609.1 359.8 L610.6 360.2 L612.1 360.6 L613.6 361.0 L615.1 361.5 L616.6 361.9 L618.1 362.3 L619.6 362.6 L621.1 363.0 L622.6 363.4 L624.1 363.8 L625.6 364.1 L627.1 364.5 L628.6 364.9 L630.1 365.2 L631.6 365.6 L633.1 365.9 L634.6 366.2 L636.1 366.5 L637.6 366.9 L639.1 367.2 L640.6 367.5 L642.1 367.8 L643.6 368.1 L645.1 368.4 L646.6 368.7 L648.1 368.9 L649.6 369.2 L651.1 369.5 L652.6 369.7 L654.1 370.0 L655.6 370.3 L657.1 370.5 L658.6 370.8 L660.1 371.0 L661.6 371.2 L663.1 371.5 L664.6 371.7 L666.1 371.9 L667.6 372.1 L669.1 372.3 L670.6 372.5 L672.1 372.8 L673.6 373.0 L675.1 373.1 L676.6 373.3 L678.1 373.5 L679.6 373.7 L681.1 373.9 L682.6 374.1 L684.1 374.2 L685.6 374.4 L687.1 374.6 L688.6 374.7 L690.1 374.9 L691.6 375.0 L693.1 375.2 L694.6 375.3 L696.1 375.5 L697.6 375.6 L699.1 375.8 L700.6 375.9 L702.1 376.0 L703.6 376.1 L705.1 376.3 L706.6 376.4 L708.1 376.5 L709.6 376.6 L711.1 376.7 L712.6 376.8 L714.1 377.0 L715.6 377.1 L717.1 377.2 L718.6 377.3 L720.1 377.4 L721.6 377.4 L723.1 377.5 L724.6 377.6 L726.1 377.7 L727.6 377.8 L729.1 377.9 L730.6 378.0 L732.1 378.1 L733.6 378.1 L735.1 378.2 L736.6 378.3 L738.1 378.4 L739.6 378.4 L741.1 378.5 L742.6 378.6 L744.1 378.6 L745.6 378.7 L747.1 378.8 L748.6 378.8 L750.1 378.9 L751.6 378.9 L753.1 379.0 L754.6 379.1 L756.1 379.1 L757.6 379.2 L759.1 379.2 L760.6 379.3 L762.1 379.3 L763.6 379.4 L765.1 379.5 L766.6 379.5 L768.1 379.6 L769.6 379.6 L771.1 379.7 L772.6 379.7 L774.1 379.8 L775.6 379.8 L777.1 379.9 L778.6 379.9 L780.1 380.0 L781.6 380.0 L783.1 380.1 L784.6 380.1 L786.1 380.2 L787.6 380.2 L789.1 380.3 L790.6 380.3 L792.1 380.4 L793.6 380.4 L795.1 380.5 L796.6 380.5 L798.1 380.6 L799.6 380.7 L801.1 380.7 L802.6 380.8 L804.1 380.8 L805.6 380.9 L807.1 380.9 L808.6 381.0 L810.1 381.1 L811.6 381.1 L813.1 381.2 L814.6 381.3 L816.1 381.3 L817.6 381.4 L819.1 381.5 L820.6 381.6 L822.1 381.6 L823.6 381.7 L825.1 381.8 L826.6 381.9 L828.1 382.0 L829.6 382.0 L831.1 382.1 L832.6 382.2 L834.1 382.3 L835.6 382.4 L837.1 382.5 L838.6 382.6 L840.1 382.7 L841.6 382.8 L843.1 382.9 L844.6 383.0 L846.1 383.1 L847.6 383.2 L849.1 383.3 L850.6 383.5 L852.1 383.6 L853.6 383.7" stroke="#23963f" stroke-dasharray="9.6 4.2"/>
</g>
<g stroke="#303030" stroke-width="1.5" fill="none">
<rect x="126.10" y="27.95" width="727.95" height="390.62"/>
<path d="M126.10 418.57H121.30"/>
<path d="M126.10 329.18H121.30"/>
<path d="M126.10 239.78H121.30"/>
<path d="M126.10 150.38H121.30"/>
<path d="M126.10 60.99H121.30"/>
<path d="M854.05 27.95H858.85"/>
<path d="M854.05 80.67H858.85"/>
<path d="M854.05 133.39H858.85"/>
<path d="M854.05 186.11H858.85"/>
<path d="M854.05 238.83H858.85"/>
<path d="M854.05 291.55H858.85"/>
<path d="M854.05 344.27H858.85"/>
<path d="M854.05 396.99H858.85"/>
<path d="M174.60 418.57V423.37"/>
<path d="M247.40 418.57V423.37"/>
<path d="M320.20 418.57V423.37"/>
<path d="M393.00 418.57V423.37"/>
<path d="M465.80 418.57V423.37"/>
<path d="M538.60 418.57V423.37"/>
<path d="M611.40 418.57V423.37"/>
<path d="M684.20 418.57V423.37"/>
<path d="M757.00 418.57V423.37"/>
<path d="M829.80 418.57V423.37"/>
</g>
<text x="117.2" y="426.5" font-size="23.15" text-anchor="end" font-weight="normal" >0</text>
<text x="117.2" y="337.1" font-size="23.15" text-anchor="end" font-weight="normal" >2000</text>
<text x="117.2" y="247.7" font-size="23.15" text-anchor="end" font-weight="normal" >4000</text>
<text x="117.2" y="158.3" font-size="23.15" text-anchor="end" font-weight="normal" >6000</text>
<text x="117.2" y="68.9" font-size="23.15" text-anchor="end" font-weight="normal" >8000</text>
<text x="862.8" y="36.2" font-size="23.15" text-anchor="start" font-weight="normal" >0</text>
<text x="862.8" y="89.0" font-size="23.15" text-anchor="start" font-weight="normal" >20</text>
<text x="862.8" y="141.7" font-size="23.15" text-anchor="start" font-weight="normal" >40</text>
<text x="862.8" y="194.4" font-size="23.15" text-anchor="start" font-weight="normal" >60</text>
<text x="862.8" y="247.1" font-size="23.15" text-anchor="start" font-weight="normal" >80</text>
<text x="862.8" y="299.9" font-size="23.15" text-anchor="start" font-weight="normal" >100</text>
<text x="862.8" y="352.6" font-size="23.15" text-anchor="start" font-weight="normal" >120</text>
<text x="862.8" y="405.3" font-size="23.15" text-anchor="start" font-weight="normal" >140</text>
<text transform="translate(171.6 441.0) rotate(-31)" font-size="23.15" text-anchor="end">2017-09-30</text>
<text transform="translate(244.4 441.0) rotate(-31)" font-size="23.15" text-anchor="end">2017-10-01</text>
<text transform="translate(317.2 441.0) rotate(-31)" font-size="23.15" text-anchor="end">2017-10-02</text>
<text transform="translate(390.0 441.0) rotate(-31)" font-size="23.15" text-anchor="end">2017-10-03</text>
<text transform="translate(462.8 441.0) rotate(-31)" font-size="23.15" text-anchor="end">2017-10-04</text>
<text transform="translate(535.6 441.0) rotate(-31)" font-size="23.15" text-anchor="end">2017-10-05</text>
<text transform="translate(608.4 441.0) rotate(-31)" font-size="23.15" text-anchor="end">2017-10-06</text>
<text transform="translate(681.2 441.0) rotate(-31)" font-size="23.15" text-anchor="end">2017-10-07</text>
<text transform="translate(754.0 441.0) rotate(-31)" font-size="23.15" text-anchor="end">2017-10-08</text>
<text transform="translate(826.8 441.0) rotate(-31)" font-size="23.15" text-anchor="end">2017-10-09</text>
<text transform="translate(60.3 223.0) rotate(-90)" font-size="23.15" text-anchor="middle">Flow discharge (m³/s)</text>
<text transform="translate(919.3 223.4) rotate(-90)" font-size="23.15" text-anchor="middle">Rainfall (mm)</text>
<text x="490.1" y="522.2" font-size="23.15" text-anchor="middle" font-weight="normal" >Date</text>
<text x="476.3" y="592.3" font-size="44.50" text-anchor="middle" font-weight="bold" fill="#000">(a) 20171003</text>
<path d="M590.7 56.9H637.4" stroke="#000000" stroke-width="2.60" fill="none" stroke-linecap="square"/>
<text x="656.1" y="65.4" font-size="23.15" text-anchor="start" font-weight="normal" >Observation</text>
<path d="M590.7 89.7H637.4" stroke="#d71a26" stroke-width="2.60" fill="none" stroke-dasharray="9.6 4.2"/>
<text x="656.1" y="98.2" font-size="23.15" text-anchor="start" font-weight="normal" >EDL model</text>
<path d="M590.7 122.8H637.4" stroke="#9684d2" stroke-width="2.60" fill="none" stroke-dasharray="9.6 4.2"/>
<text x="656.1" y="131.3" font-size="23.15" text-anchor="start" font-weight="normal" >XAJ model</text>
<path d="M590.7 155.9H637.4" stroke="#efa93c" stroke-width="2.60" fill="none" stroke-dasharray="9.6 4.2"/>
<text x="656.1" y="164.4" font-size="23.15" text-anchor="start" font-weight="normal" >LSTM model</text>
<path d="M590.7 188.8H637.4" stroke="#23963f" stroke-width="2.60" fill="none" stroke-dasharray="9.6 4.2"/>
<text x="656.1" y="197.3" font-size="23.15" text-anchor="start" font-weight="normal" >XAJ-LSTM model</text>
<rect x="590.7" y="213.8" width="46.7" height="16.0" fill="#6cc0e6"/>
<text x="656.1" y="230.1" font-size="23.15" text-anchor="start" font-weight="normal" >Rainfall</text>
<clipPath id="cpb"><rect x="1084.5" y="27.9" width="716.5" height="390.6"/></clipPath>
<g clip-path="url(#cpb)" fill="#6cc0e6">
<rect x="1071.50" y="27.92" width="26.00" height="13.83"/>
<rect x="1136.50" y="27.92" width="26.00" height="109.58"/>
<rect x="1201.75" y="27.92" width="26.00" height="93.83"/>
<rect x="1267.00" y="27.92" width="26.00" height="87.83"/>
<rect x="1332.00" y="27.92" width="26.00" height="130.08"/>
<rect x="1397.20" y="27.92" width="26.00" height="21.58"/>
<rect x="1462.20" y="27.92" width="26.00" height="5.83"/>
<rect x="1527.50" y="27.92" width="26.00" height="8.08"/>
<rect x="1592.70" y="27.92" width="26.00" height="0.78"/>
<rect x="1722.90" y="27.92" width="26.00" height="0.78"/>
</g>
<g clip-path="url(#cpb)" fill="none" stroke-width="2.60" stroke-linejoin="round">
<path d="M1084.5 397.2 L1086.0 397.5 L1087.5 397.8 L1089.0 398.1 L1090.5 398.3 L1092.0 398.4 L1093.5 398.5 L1095.0 398.6 L1096.5 398.6 L1098.0 398.5 L1099.5 398.4 L1101.0 398.3 L1102.5 398.1 L1104.0 397.9 L1105.5 397.6 L1107.0 397.3 L1108.5 397.0 L1110.0 396.6 L1111.5 396.2 L1113.0 395.7 L1114.5 395.3 L1116.0 394.7 L1117.5 394.2 L1119.0 393.6 L1120.5 393.0 L1122.0 392.4 L1123.5 391.7 L1125.0 391.0 L1126.5 390.3 L1128.0 389.5 L1129.5 388.8 L1131.0 388.0 L1132.5 387.2 L1134.0 386.3 L1135.5 385.5 L1137.0 384.6 L1138.5 383.7 L1140.0 382.8 L1141.5 381.9 L1143.0 381.0 L1144.5 380.0 L1146.0 379.1 L1147.5 378.1 L1149.0 377.1 L1150.5 376.2 L1152.0 375.2 L1153.5 374.2 L1155.0 373.2 L1156.5 372.2 L1158.0 371.2 L1159.5 370.2 L1161.0 369.1 L1162.5 368.1 L1164.0 367.1 L1165.5 366.1 L1167.0 365.1 L1168.5 364.1 L1170.0 363.2 L1171.5 362.2 L1173.0 361.2 L1174.5 360.2 L1176.0 359.3 L1177.5 358.3 L1179.0 357.4 L1180.5 356.4 L1182.0 355.5 L1183.5 354.6 L1185.0 353.7 L1186.5 352.8 L1188.0 351.8 L1189.5 350.9 L1191.0 350.1 L1192.5 349.2 L1194.0 348.3 L1195.5 347.4 L1197.0 346.5 L1198.5 345.7 L1200.0 344.8 L1201.5 344.0 L1203.0 343.1 L1204.5 342.3 L1206.0 341.5 L1207.5 340.6 L1209.0 339.8 L1210.5 339.0 L1212.0 338.2 L1213.5 337.4 L1215.0 336.6 L1216.5 335.8 L1218.0 335.0 L1219.5 334.2 L1221.0 333.4 L1222.5 332.6 L1224.0 331.9 L1225.5 331.1 L1227.0 330.3 L1228.5 329.5 L1230.0 328.7 L1231.5 327.9 L1233.0 327.1 L1234.5 326.3 L1236.0 325.4 L1237.5 324.5 L1239.0 323.6 L1240.5 322.7 L1242.0 321.8 L1243.5 320.8 L1245.0 319.8 L1246.5 318.8 L1248.0 317.7 L1249.5 316.6 L1251.0 315.4 L1252.5 314.2 L1254.0 313.0 L1255.5 311.7 L1257.0 310.4 L1258.5 309.0 L1260.0 307.5 L1261.5 306.0 L1263.0 304.5 L1264.5 302.9 L1266.0 301.2 L1267.5 299.5 L1269.0 297.7 L1270.5 295.8 L1272.0 293.9 L1273.5 291.9 L1275.0 289.9 L1276.5 287.8 L1278.0 285.7 L1279.5 283.6 L1281.0 281.4 L1282.5 279.1 L1284.0 276.9 L1285.5 274.6 L1287.0 272.2 L1288.5 269.9 L1290.0 267.5 L1291.5 265.0 L1293.0 262.6 L1294.5 260.1 L1296.0 257.7 L1297.5 255.2 L1299.0 252.7 L1300.5 250.2 L1302.0 247.6 L1303.5 245.1 L1305.0 242.6 L1306.5 240.1 L1308.0 237.5 L1309.5 235.0 L1311.0 232.5 L1312.5 230.0 L1314.0 227.5 L1315.5 225.0 L1317.0 222.5 L1318.5 220.1 L1320.0 217.6 L1321.5 215.2 L1323.0 212.9 L1324.5 210.5 L1326.0 208.2 L1327.5 205.9 L1329.0 203.6 L1330.5 201.4 L1332.0 199.2 L1333.5 197.1 L1335.0 195.0 L1336.5 193.0 L1338.0 191.0 L1339.5 189.0 L1341.0 187.1 L1342.5 185.3 L1344.0 183.5 L1345.5 181.8 L1347.0 180.2 L1348.5 178.6 L1350.0 177.0 L1351.5 175.6 L1353.0 174.2 L1354.5 172.9 L1356.0 171.7 L1357.5 170.5 L1359.0 169.4 L1360.5 168.4 L1362.0 167.4 L1363.5 166.5 L1365.0 165.7 L1366.5 165.0 L1368.0 164.3 L1369.5 163.7 L1371.0 163.1 L1372.5 162.6 L1374.0 162.2 L1375.5 161.9 L1377.0 161.6 L1378.5 161.4 L1380.0 161.3 L1381.5 161.2 L1383.0 161.2 L1384.5 161.2 L1386.0 161.3 L1387.5 161.5 L1389.0 161.8 L1390.5 162.1 L1392.0 162.4 L1393.5 162.9 L1395.0 163.4 L1396.5 164.0 L1398.0 164.6 L1399.5 165.3 L1401.0 166.1 L1402.5 166.9 L1404.0 167.8 L1405.5 168.7 L1407.0 169.7 L1408.5 170.8 L1410.0 171.9 L1411.5 173.1 L1413.0 174.4 L1414.5 175.7 L1416.0 177.1 L1417.5 178.5 L1419.0 180.0 L1420.5 181.6 L1422.0 183.2 L1423.5 184.8 L1425.0 186.5 L1426.5 188.3 L1428.0 190.0 L1429.5 191.9 L1431.0 193.7 L1432.5 195.6 L1434.0 197.6 L1435.5 199.5 L1437.0 201.5 L1438.5 203.6 L1440.0 205.6 L1441.5 207.7 L1443.0 209.8 L1444.5 211.9 L1446.0 214.0 L1447.5 216.1 L1449.0 218.3 L1450.5 220.4 L1452.0 222.6 L1453.5 224.7 L1455.0 226.9 L1456.5 229.0 L1458.0 231.2 L1459.5 233.3 L1461.0 235.4 L1462.5 237.6 L1464.0 239.7 L1465.5 241.8 L1467.0 243.9 L1468.5 246.0 L1470.0 248.1 L1471.5 250.1 L1473.0 252.2 L1474.5 254.2 L1476.0 256.3 L1477.5 258.3 L1479.0 260.3 L1480.5 262.3 L1482.0 264.2 L1483.5 266.2 L1485.0 268.1 L1486.5 270.0 L1488.0 271.9 L1489.5 273.7 L1491.0 275.6 L1492.5 277.4 L1494.0 279.2 L1495.5 280.9 L1497.0 282.7 L1498.5 284.4 L1500.0 286.1 L1501.5 287.7 L1503.0 289.3 L1504.5 290.9 L1506.0 292.5 L1507.5 294.0 L1509.0 295.5 L1510.5 297.0 L1512.0 298.4 L1513.5 299.8 L1515.0 301.2 L1516.5 302.5 L1518.0 303.9 L1519.5 305.1 L1521.0 306.4 L1522.5 307.6 L1524.0 308.8 L1525.5 310.0 L1527.0 311.2 L1528.5 312.3 L1530.0 313.4 L1531.5 314.5 L1533.0 315.5 L1534.5 316.5 L1536.0 317.5 L1537.5 318.5 L1539.0 319.4 L1540.5 320.3 L1542.0 321.2 L1543.5 322.1 L1545.0 323.0 L1546.5 323.8 L1548.0 324.6 L1549.5 325.4 L1551.0 326.2 L1552.5 326.9 L1554.0 327.6 L1555.5 328.3 L1557.0 329.0 L1558.5 329.7 L1560.0 330.3 L1561.5 330.9 L1563.0 331.5 L1564.5 332.1 L1566.0 332.7 L1567.5 333.2 L1569.0 333.8 L1570.5 334.3 L1572.0 334.8 L1573.5 335.2 L1575.0 335.7 L1576.5 336.2 L1578.0 336.6 L1579.5 337.0 L1581.0 337.4 L1582.5 337.8 L1584.0 338.2 L1585.5 338.6 L1587.0 338.9 L1588.5 339.3 L1590.0 339.6 L1591.5 339.9 L1593.0 340.2 L1594.5 340.6 L1596.0 340.8 L1597.5 341.1 L1599.0 341.4 L1600.5 341.7 L1602.0 342.0 L1603.5 342.2 L1605.0 342.5 L1606.5 342.7 L1608.0 343.0 L1609.5 343.2 L1611.0 343.5 L1612.5 343.7 L1614.0 344.0 L1615.5 344.2 L1617.0 344.4 L1618.5 344.7 L1620.0 344.9 L1621.5 345.1 L1623.0 345.4 L1624.5 345.6 L1626.0 345.9 L1627.5 346.1 L1629.0 346.3 L1630.5 346.6 L1632.0 346.8 L1633.5 347.1 L1635.0 347.3 L1636.5 347.6 L1638.0 347.8 L1639.5 348.0 L1641.0 348.3 L1642.5 348.5 L1644.0 348.8 L1645.5 349.0 L1647.0 349.3 L1648.5 349.5 L1650.0 349.8 L1651.5 350.1 L1653.0 350.3 L1654.5 350.6 L1656.0 350.8 L1657.5 351.1 L1659.0 351.3 L1660.5 351.6 L1662.0 351.8 L1663.5 352.1 L1665.0 352.4 L1666.5 352.6 L1668.0 352.9 L1669.5 353.2 L1671.0 353.4 L1672.5 353.7 L1674.0 353.9 L1675.5 354.2 L1677.0 354.5 L1678.5 354.7 L1680.0 355.0 L1681.5 355.3 L1683.0 355.5 L1684.5 355.8 L1686.0 356.1 L1687.5 356.3 L1689.0 356.6 L1690.5 356.9 L1692.0 357.1 L1693.5 357.4 L1695.0 357.7 L1696.5 357.9 L1698.0 358.2 L1699.5 358.5 L1701.0 358.7 L1702.5 359.0 L1704.0 359.2 L1705.5 359.5 L1707.0 359.8 L1708.5 360.0 L1710.0 360.3 L1711.5 360.6 L1713.0 360.8 L1714.5 361.1 L1716.0 361.4 L1717.5 361.6 L1719.0 361.9 L1720.5 362.1 L1722.0 362.4 L1723.5 362.7 L1725.0 362.9 L1726.5 363.2 L1728.0 363.4 L1729.5 363.7 L1731.0 363.9 L1732.5 364.2 L1734.0 364.4 L1735.5 364.7 L1737.0 364.9 L1738.5 365.2 L1740.0 365.4 L1741.5 365.7 L1743.0 365.9 L1744.5 366.1 L1746.0 366.4 L1747.5 366.6 L1749.0 366.8 L1750.5 367.1 L1752.0 367.3 L1753.5 367.5 L1755.0 367.7 L1756.5 368.0 L1758.0 368.2 L1759.5 368.4 L1761.0 368.6 L1762.5 368.8 L1764.0 369.0 L1765.5 369.2 L1767.0 369.4 L1768.5 369.7 L1770.0 369.9 L1771.5 370.0 L1773.0 370.2 L1774.5 370.4 L1776.0 370.6 L1777.5 370.8 L1779.0 371.0 L1780.5 371.2 L1782.0 371.3 L1783.5 371.5 L1785.0 371.7 L1786.5 371.9 L1788.0 372.0 L1789.5 372.2 L1791.0 372.3 L1792.5 372.5 L1794.0 372.6 L1795.5 372.8 L1797.0 372.9 L1798.5 373.1 L1800.0 373.2" stroke="#000000"/>
<path d="M1084.5 402.2 L1086.0 402.1 L1087.5 401.9 L1089.0 401.8 L1090.5 401.6 L1092.0 401.4 L1093.5 401.2 L1095.0 400.9 L1096.5 400.7 L1098.0 400.4 L1099.5 400.1 L1101.0 399.7 L1102.5 399.4 L1104.0 399.0 L1105.5 398.6 L1107.0 398.2 L1108.5 397.8 L1110.0 397.4 L1111.5 396.9 L1113.0 396.4 L1114.5 395.9 L1116.0 395.4 L1117.5 394.9 L1119.0 394.4 L1120.5 393.8 L1122.0 393.3 L1123.5 392.7 L1125.0 392.1 L1126.5 391.5 L1128.0 390.9 L1129.5 390.3 L1131.0 389.6 L1132.5 389.0 L1134.0 388.3 L1135.5 387.6 L1137.0 387.0 L1138.5 386.3 L1140.0 385.6 L1141.5 384.9 L1143.0 384.2 L1144.5 383.5 L1146.0 382.8 L1147.5 382.1 L1149.0 381.3 L1150.5 380.6 L1152.0 379.9 L1153.5 379.1 L1155.0 378.4 L1156.5 377.7 L1158.0 376.9 L1159.5 376.2 L1161.0 375.4 L1162.5 374.7 L1164.0 373.9 L1165.5 373.2 L1167.0 372.5 L1168.5 371.7 L1170.0 371.0 L1171.5 370.2 L1173.0 369.5 L1174.5 368.8 L1176.0 368.0 L1177.5 367.3 L1179.0 366.5 L1180.5 365.7 L1182.0 365.0 L1183.5 364.2 L1185.0 363.5 L1186.5 362.7 L1188.0 361.9 L1189.5 361.1 L1191.0 360.3 L1192.5 359.5 L1194.0 358.7 L1195.5 357.9 L1197.0 357.0 L1198.5 356.2 L1200.0 355.3 L1201.5 354.5 L1203.0 353.6 L1204.5 352.7 L1206.0 351.8 L1207.5 350.9 L1209.0 350.0 L1210.5 349.0 L1212.0 348.0 L1213.5 347.1 L1215.0 346.1 L1216.5 345.1 L1218.0 344.1 L1219.5 343.0 L1221.0 342.0 L1222.5 340.9 L1224.0 339.8 L1225.5 338.7 L1227.0 337.5 L1228.5 336.4 L1230.0 335.2 L1231.5 334.0 L1233.0 332.8 L1234.5 331.5 L1236.0 330.2 L1237.5 328.9 L1239.0 327.6 L1240.5 326.3 L1242.0 324.9 L1243.5 323.5 L1245.0 322.1 L1246.5 320.6 L1248.0 319.1 L1249.5 317.6 L1251.0 316.1 L1252.5 314.5 L1254.0 312.9 L1255.5 311.3 L1257.0 309.7 L1258.5 308.0 L1260.0 306.3 L1261.5 304.5 L1263.0 302.8 L1264.5 301.0 L1266.0 299.2 L1267.5 297.4 L1269.0 295.5 L1270.5 293.6 L1272.0 291.7 L1273.5 289.8 L1275.0 287.9 L1276.5 285.9 L1278.0 283.9 L1279.5 281.9 L1281.0 279.9 L1282.5 277.9 L1284.0 275.8 L1285.5 273.7 L1287.0 271.7 L1288.5 269.6 L1290.0 267.5 L1291.5 265.3 L1293.0 263.2 L1294.5 261.1 L1296.0 258.9 L1297.5 256.7 L1299.0 254.6 L1300.5 252.4 L1302.0 250.2 L1303.5 248.0 L1305.0 245.8 L1306.5 243.6 L1308.0 241.4 L1309.5 239.2 L1311.0 237.0 L1312.5 234.9 L1314.0 232.7 L1315.5 230.5 L1317.0 228.4 L1318.5 226.3 L1320.0 224.2 L1321.5 222.1 L1323.0 220.1 L1324.5 218.0 L1326.0 216.1 L1327.5 214.1 L1329.0 212.2 L1330.5 210.3 L1332.0 208.4 L1333.5 206.6 L1335.0 204.9 L1336.5 203.1 L1338.0 201.5 L1339.5 199.8 L1341.0 198.2 L1342.5 196.6 L1344.0 195.1 L1345.5 193.7 L1347.0 192.2 L1348.5 190.8 L1350.0 189.5 L1351.5 188.2 L1353.0 187.0 L1354.5 185.7 L1356.0 184.6 L1357.5 183.5 L1359.0 182.4 L1360.5 181.4 L1362.0 180.5 L1363.5 179.5 L1365.0 178.7 L1366.5 177.9 L1368.0 177.1 L1369.5 176.4 L1371.0 175.7 L1372.5 175.1 L1374.0 174.6 L1375.5 174.1 L1377.0 173.6 L1378.5 173.2 L1380.0 172.9 L1381.5 172.6 L1383.0 172.4 L1384.5 172.2 L1386.0 172.1 L1387.5 172.1 L1389.0 172.1 L1390.5 172.2 L1392.0 172.3 L1393.5 172.5 L1395.0 172.7 L1396.5 173.0 L1398.0 173.4 L1399.5 173.8 L1401.0 174.3 L1402.5 174.9 L1404.0 175.5 L1405.5 176.1 L1407.0 176.9 L1408.5 177.7 L1410.0 178.5 L1411.5 179.4 L1413.0 180.3 L1414.5 181.3 L1416.0 182.3 L1417.5 183.4 L1419.0 184.6 L1420.5 185.7 L1422.0 186.9 L1423.5 188.2 L1425.0 189.5 L1426.5 190.8 L1428.0 192.1 L1429.5 193.5 L1431.0 195.0 L1432.5 196.4 L1434.0 197.9 L1435.5 199.4 L1437.0 200.9 L1438.5 202.5 L1440.0 204.0 L1441.5 205.6 L1443.0 207.2 L1444.5 208.9 L1446.0 210.5 L1447.5 212.1 L1449.0 213.8 L1450.5 215.5 L1452.0 217.2 L1453.5 218.9 L1455.0 220.6 L1456.5 222.2 L1458.0 223.9 L1459.5 225.6 L1461.0 227.3 L1462.5 229.0 L1464.0 230.7 L1465.5 232.4 L1467.0 234.1 L1468.5 235.8 L1470.0 237.4 L1471.5 239.1 L1473.0 240.7 L1474.5 242.3 L1476.0 243.9 L1477.5 245.5 L1479.0 247.1 L1480.5 248.6 L1482.0 250.2 L1483.5 251.7 L1485.0 253.2 L1486.5 254.7 L1488.0 256.2 L1489.5 257.7 L1491.0 259.2 L1492.5 260.6 L1494.0 262.1 L1495.5 263.5 L1497.0 264.9 L1498.5 266.3 L1500.0 267.7 L1501.5 269.1 L1503.0 270.5 L1504.5 271.8 L1506.0 273.1 L1507.5 274.5 L1509.0 275.8 L1510.5 277.1 L1512.0 278.4 L1513.5 279.7 L1515.0 280.9 L1516.5 282.2 L1518.0 283.4 L1519.5 284.6 L1521.0 285.9 L1522.5 287.1 L1524.0 288.3 L1525.5 289.4 L1527.0 290.6 L1528.5 291.8 L1530.0 292.9 L1531.5 294.0 L1533.0 295.1 L1534.5 296.3 L1536.0 297.4 L1537.5 298.4 L1539.0 299.5 L1540.5 300.6 L1542.0 301.6 L1543.5 302.7 L1545.0 303.7 L1546.5 304.7 L1548.0 305.7 L1549.5 306.7 L1551.0 307.7 L1552.5 308.6 L1554.0 309.6 L1555.5 310.5 L1557.0 311.5 L1558.5 312.4 L1560.0 313.3 L1561.5 314.2 L1563.0 315.1 L1564.5 316.0 L1566.0 316.9 L1567.5 317.7 L1569.0 318.6 L1570.5 319.4 L1572.0 320.2 L1573.5 321.1 L1575.0 321.9 L1576.5 322.7 L1578.0 323.4 L1579.5 324.2 L1581.0 325.0 L1582.5 325.7 L1584.0 326.5 L1585.5 327.2 L1587.0 327.9 L1588.5 328.7 L1590.0 329.4 L1591.5 330.1 L1593.0 330.7 L1594.5 331.4 L1596.0 332.1 L1597.5 332.7 L1599.0 333.4 L1600.5 334.0 L1602.0 334.7 L1603.5 335.3 L1605.0 335.9 L1606.5 336.5 L1608.0 337.1 L1609.5 337.7 L1611.0 338.3 L1612.5 338.8 L1614.0 339.4 L1615.5 340.0 L1617.0 340.5 L1618.5 341.0 L1620.0 341.6 L1621.5 342.1 L1623.0 342.6 L1624.5 343.1 L1626.0 343.6 L1627.5 344.1 L1629.0 344.6 L1630.5 345.1 L1632.0 345.5 L1633.5 346.0 L1635.0 346.5 L1636.5 346.9 L1638.0 347.3 L1639.5 347.8 L1641.0 348.2 L1642.5 348.6 L1644.0 349.0 L1645.5 349.5 L1647.0 349.9 L1648.5 350.3 L1650.0 350.6 L1651.5 351.0 L1653.0 351.4 L1654.5 351.8 L1656.0 352.1 L1657.5 352.5 L1659.0 352.9 L1660.5 353.2 L1662.0 353.6 L1663.5 353.9 L1665.0 354.2 L1666.5 354.6 L1668.0 354.9 L1669.5 355.2 L1671.0 355.5 L1672.5 355.8 L1674.0 356.1 L1675.5 356.4 L1677.0 356.7 L1678.5 357.0 L1680.0 357.3 L1681.5 357.6 L1683.0 357.8 L1684.5 358.1 L1686.0 358.4 L1687.5 358.7 L1689.0 358.9 L1690.5 359.2 L1692.0 359.4 L1693.5 359.7 L1695.0 359.9 L1696.5 360.2 L1698.0 360.4 L1699.5 360.6 L1701.0 360.9 L1702.5 361.1 L1704.0 361.3 L1705.5 361.6 L1707.0 361.8 L1708.5 362.0 L1710.0 362.2 L1711.5 362.4 L1713.0 362.6 L1714.5 362.8 L1716.0 363.0 L1717.5 363.3 L1719.0 363.5 L1720.5 363.7 L1722.0 363.9 L1723.5 364.0 L1725.0 364.2 L1726.5 364.4 L1728.0 364.6 L1729.5 364.8 L1731.0 365.0 L1732.5 365.2 L1734.0 365.4 L1735.5 365.6 L1737.0 365.7 L1738.5 365.9 L1740.0 366.1 L1741.5 366.3 L1743.0 366.5 L1744.5 366.6 L1746.0 366.8 L1747.5 367.0 L1749.0 367.2 L1750.5 367.4 L1752.0 367.5 L1753.5 367.7 L1755.0 367.9 L1756.5 368.1 L1758.0 368.2 L1759.5 368.4 L1761.0 368.6 L1762.5 368.8 L1764.0 369.0 L1765.5 369.1 L1767.0 369.3 L1768.5 369.5 L1770.0 369.7 L1771.5 369.9 L1773.0 370.0 L1774.5 370.2 L1776.0 370.4 L1777.5 370.6 L1779.0 370.8 L1780.5 371.0 L1782.0 371.2 L1783.5 371.4 L1785.0 371.6 L1786.5 371.8 L1788.0 372.0 L1789.5 372.2 L1791.0 372.4 L1792.5 372.6 L1794.0 372.8 L1795.5 373.0 L1797.0 373.2 L1798.5 373.4 L1800.0 373.6" stroke="#d71a26" stroke-dasharray="9.6 4.2"/>
<path d="M1084.5 398.6 L1086.0 398.7 L1087.5 398.7 L1089.0 398.6 L1090.5 398.6 L1092.0 398.5 L1093.5 398.4 L1095.0 398.2 L1096.5 398.0 L1098.0 397.8 L1099.5 397.6 L1101.0 397.3 L1102.5 397.0 L1104.0 396.7 L1105.5 396.3 L1107.0 395.9 L1108.5 395.5 L1110.0 395.1 L1111.5 394.6 L1113.0 394.2 L1114.5 393.7 L1116.0 393.2 L1117.5 392.6 L1119.0 392.0 L1120.5 391.5 L1122.0 390.8 L1123.5 390.2 L1125.0 389.6 L1126.5 388.9 L1128.0 388.2 L1129.5 387.5 L1131.0 386.8 L1132.5 386.1 L1134.0 385.3 L1135.5 384.6 L1137.0 383.8 L1138.5 383.0 L1140.0 382.2 L1141.5 381.3 L1143.0 380.5 L1144.5 379.7 L1146.0 378.8 L1147.5 377.9 L1149.0 377.0 L1150.5 376.2 L1152.0 375.3 L1153.5 374.3 L1155.0 373.4 L1156.5 372.5 L1158.0 371.6 L1159.5 370.6 L1161.0 369.7 L1162.5 368.7 L1164.0 367.8 L1165.5 366.8 L1167.0 365.8 L1168.5 364.9 L1170.0 363.9 L1171.5 362.9 L1173.0 361.9 L1174.5 360.9 L1176.0 359.9 L1177.5 359.0 L1179.0 358.0 L1180.5 357.0 L1182.0 356.0 L1183.5 355.0 L1185.0 353.9 L1186.5 352.9 L1188.0 351.9 L1189.5 350.9 L1191.0 349.8 L1192.5 348.8 L1194.0 347.7 L1195.5 346.7 L1197.0 345.6 L1198.5 344.6 L1200.0 343.5 L1201.5 342.4 L1203.0 341.3 L1204.5 340.2 L1206.0 339.1 L1207.5 338.0 L1209.0 336.9 L1210.5 335.7 L1212.0 334.6 L1213.5 333.4 L1215.0 332.3 L1216.5 331.1 L1218.0 329.9 L1219.5 328.7 L1221.0 327.5 L1222.5 326.3 L1224.0 325.0 L1225.5 323.8 L1227.0 322.5 L1228.5 321.2 L1230.0 320.0 L1231.5 318.7 L1233.0 317.4 L1234.5 316.0 L1236.0 314.7 L1237.5 313.3 L1239.0 312.0 L1240.5 310.6 L1242.0 309.2 L1243.5 307.8 L1245.0 306.4 L1246.5 304.9 L1248.0 303.5 L1249.5 302.0 L1251.0 300.5 L1252.5 299.0 L1254.0 297.5 L1255.5 295.9 L1257.0 294.4 L1258.5 292.8 L1260.0 291.2 L1261.5 289.6 L1263.0 288.0 L1264.5 286.3 L1266.0 284.6 L1267.5 283.0 L1269.0 281.3 L1270.5 279.6 L1272.0 277.9 L1273.5 276.1 L1275.0 274.4 L1276.5 272.6 L1278.0 270.9 L1279.5 269.1 L1281.0 267.3 L1282.5 265.5 L1284.0 263.7 L1285.5 261.9 L1287.0 260.0 L1288.5 258.2 L1290.0 256.4 L1291.5 254.5 L1293.0 252.7 L1294.5 250.8 L1296.0 248.9 L1297.5 247.1 L1299.0 245.2 L1300.5 243.3 L1302.0 241.4 L1303.5 239.6 L1305.0 237.7 L1306.5 235.8 L1308.0 233.9 L1309.5 232.0 L1311.0 230.1 L1312.5 228.2 L1314.0 226.3 L1315.5 224.5 L1317.0 222.6 L1318.5 220.7 L1320.0 218.9 L1321.5 217.1 L1323.0 215.3 L1324.5 213.5 L1326.0 211.8 L1327.5 210.1 L1329.0 208.5 L1330.5 206.8 L1332.0 205.3 L1333.5 203.7 L1335.0 202.2 L1336.5 200.8 L1338.0 199.4 L1339.5 198.1 L1341.0 196.8 L1342.5 195.7 L1344.0 194.5 L1345.5 193.4 L1347.0 192.4 L1348.5 191.5 L1350.0 190.6 L1351.5 189.7 L1353.0 188.9 L1354.5 188.2 L1356.0 187.5 L1357.5 186.9 L1359.0 186.3 L1360.5 185.8 L1362.0 185.4 L1363.5 184.9 L1365.0 184.6 L1366.5 184.2 L1368.0 184.0 L1369.5 183.7 L1371.0 183.5 L1372.5 183.4 L1374.0 183.3 L1375.5 183.2 L1377.0 183.2 L1378.5 183.3 L1380.0 183.3 L1381.5 183.4 L1383.0 183.6 L1384.5 183.7 L1386.0 183.9 L1387.5 184.2 L1389.0 184.5 L1390.5 184.8 L1392.0 185.1 L1393.5 185.5 L1395.0 185.9 L1396.5 186.4 L1398.0 186.8 L1399.5 187.3 L1401.0 187.8 L1402.5 188.4 L1404.0 188.9 L1405.5 189.5 L1407.0 190.2 L1408.5 190.8 L1410.0 191.5 L1411.5 192.1 L1413.0 192.8 L1414.5 193.6 L1416.0 194.3 L1417.5 195.1 L1419.0 195.9 L1420.5 196.7 L1422.0 197.5 L1423.5 198.3 L1425.0 199.2 L1426.5 200.0 L1428.0 200.9 L1429.5 201.8 L1431.0 202.7 L1432.5 203.7 L1434.0 204.6 L1435.5 205.6 L1437.0 206.5 L1438.5 207.5 L1440.0 208.5 L1441.5 209.5 L1443.0 210.6 L1444.5 211.6 L1446.0 212.6 L1447.5 213.7 L1449.0 214.7 L1450.5 215.8 L1452.0 216.9 L1453.5 217.9 L1455.0 219.0 L1456.5 220.1 L1458.0 221.2 L1459.5 222.3 L1461.0 223.4 L1462.5 224.6 L1464.0 225.7 L1465.5 226.8 L1467.0 227.9 L1468.5 229.0 L1470.0 230.2 L1471.5 231.3 L1473.0 232.4 L1474.5 233.6 L1476.0 234.7 L1477.5 235.8 L1479.0 237.0 L1480.5 238.1 L1482.0 239.2 L1483.5 240.4 L1485.0 241.5 L1486.5 242.6 L1488.0 243.7 L1489.5 244.9 L1491.0 246.0 L1492.5 247.1 L1494.0 248.2 L1495.5 249.3 L1497.0 250.5 L1498.5 251.6 L1500.0 252.7 L1501.5 253.8 L1503.0 254.9 L1504.5 256.0 L1506.0 257.1 L1507.5 258.2 L1509.0 259.3 L1510.5 260.4 L1512.0 261.5 L1513.5 262.6 L1515.0 263.7 L1516.5 264.8 L1518.0 265.9 L1519.5 267.0 L1521.0 268.0 L1522.5 269.1 L1524.0 270.2 L1525.5 271.2 L1527.0 272.3 L1528.5 273.4 L1530.0 274.4 L1531.5 275.5 L1533.0 276.5 L1534.5 277.6 L1536.0 278.6 L1537.5 279.6 L1539.0 280.7 L1540.5 281.7 L1542.0 282.7 L1543.5 283.7 L1545.0 284.8 L1546.5 285.8 L1548.0 286.8 L1549.5 287.8 L1551.0 288.8 L1552.5 289.7 L1554.0 290.7 L1555.5 291.7 L1557.0 292.7 L1558.5 293.6 L1560.0 294.6 L1561.5 295.6 L1563.0 296.5 L1564.5 297.5 L1566.0 298.4 L1567.5 299.3 L1569.0 300.2 L1570.5 301.2 L1572.0 302.1 L1573.5 303.0 L1575.0 303.9 L1576.5 304.8 L1578.0 305.7 L1579.5 306.5 L1581.0 307.4 L1582.5 308.3 L1584.0 309.1 L1585.5 310.0 L1587.0 310.8 L1588.5 311.7 L1590.0 312.5 L1591.5 313.3 L1593.0 314.1 L1594.5 314.9 L1596.0 315.7 L1597.5 316.5 L1599.0 317.3 L1600.5 318.1 L1602.0 318.9 L1603.5 319.6 L1605.0 320.4 L1606.5 321.1 L1608.0 321.9 L1609.5 322.6 L1611.0 323.3 L1612.5 324.1 L1614.0 324.8 L1615.5 325.5 L1617.0 326.2 L1618.5 326.9 L1620.0 327.6 L1621.5 328.3 L1623.0 328.9 L1624.5 329.6 L1626.0 330.3 L1627.5 330.9 L1629.0 331.6 L1630.5 332.2 L1632.0 332.8 L1633.5 333.5 L1635.0 334.1 L1636.5 334.7 L1638.0 335.3 L1639.5 335.9 L1641.0 336.5 L1642.5 337.1 L1644.0 337.7 L1645.5 338.3 L1647.0 338.8 L1648.5 339.4 L1650.0 340.0 L1651.5 340.5 L1653.0 341.1 L1654.5 341.6 L1656.0 342.1 L1657.5 342.7 L1659.0 343.2 L1660.5 343.7 L1662.0 344.2 L1663.5 344.7 L1665.0 345.2 L1666.5 345.7 L1668.0 346.2 L1669.5 346.7 L1671.0 347.2 L1672.5 347.7 L1674.0 348.1 L1675.5 348.6 L1677.0 349.1 L1678.5 349.5 L1680.0 350.0 L1681.5 350.4 L1683.0 350.8 L1684.5 351.3 L1686.0 351.7 L1687.5 352.1 L1689.0 352.5 L1690.5 353.0 L1692.0 353.4 L1693.5 353.8 L1695.0 354.2 L1696.5 354.6 L1698.0 354.9 L1699.5 355.3 L1701.0 355.7 L1702.5 356.1 L1704.0 356.5 L1705.5 356.8 L1707.0 357.2 L1708.5 357.5 L1710.0 357.9 L1711.5 358.2 L1713.0 358.6 L1714.5 358.9 L1716.0 359.2 L1717.5 359.6 L1719.0 359.9 L1720.5 360.2 L1722.0 360.5 L1723.5 360.8 L1725.0 361.1 L1726.5 361.5 L1728.0 361.8 L1729.5 362.0 L1731.0 362.3 L1732.5 362.6 L1734.0 362.9 L1735.5 363.2 L1737.0 363.5 L1738.5 363.7 L1740.0 364.0 L1741.5 364.3 L1743.0 364.5 L1744.5 364.8 L1746.0 365.0 L1747.5 365.3 L1749.0 365.5 L1750.5 365.8 L1752.0 366.0 L1753.5 366.3 L1755.0 366.5 L1756.5 366.7 L1758.0 366.9 L1759.5 367.2 L1761.0 367.4 L1762.5 367.6 L1764.0 367.8 L1765.5 368.0 L1767.0 368.2 L1768.5 368.4 L1770.0 368.6 L1771.5 368.8 L1773.0 369.0 L1774.5 369.2 L1776.0 369.4 L1777.5 369.6 L1779.0 369.8 L1780.5 369.9 L1782.0 370.1 L1783.5 370.3 L1785.0 370.5 L1786.5 370.6 L1788.0 370.8 L1789.5 371.0 L1791.0 371.1 L1792.5 371.3 L1794.0 371.4 L1795.5 371.6 L1797.0 371.7 L1798.5 371.9 L1800.0 372.0" stroke="#9684d2" stroke-dasharray="9.6 4.2"/>
<path d="M1084.5 397.6 L1086.0 397.8 L1087.5 397.9 L1089.0 397.9 L1090.5 398.0 L1092.0 398.0 L1093.5 397.9 L1095.0 397.9 L1096.5 397.8 L1098.0 397.7 L1099.5 397.6 L1101.0 397.4 L1102.5 397.2 L1104.0 397.0 L1105.5 396.7 L1107.0 396.5 L1108.5 396.2 L1110.0 395.8 L1111.5 395.5 L1113.0 395.1 L1114.5 394.7 L1116.0 394.2 L1117.5 393.8 L1119.0 393.3 L1120.5 392.8 L1122.0 392.2 L1123.5 391.7 L1125.0 391.1 L1126.5 390.4 L1128.0 389.8 L1129.5 389.1 L1131.0 388.4 L1132.5 387.7 L1134.0 387.0 L1135.5 386.2 L1137.0 385.5 L1138.5 384.6 L1140.0 383.8 L1141.5 383.0 L1143.0 382.1 L1144.5 381.2 L1146.0 380.3 L1147.5 379.3 L1149.0 378.3 L1150.5 377.4 L1152.0 376.4 L1153.5 375.3 L1155.0 374.3 L1156.5 373.2 L1158.0 372.1 L1159.5 371.0 L1161.0 369.9 L1162.5 368.7 L1164.0 367.5 L1165.5 366.3 L1167.0 365.1 L1168.5 363.9 L1170.0 362.6 L1171.5 361.4 L1173.0 360.1 L1174.5 358.8 L1176.0 357.4 L1177.5 356.1 L1179.0 354.7 L1180.5 353.3 L1182.0 351.9 L1183.5 350.5 L1185.0 349.1 L1186.5 347.6 L1188.0 346.2 L1189.5 344.7 L1191.0 343.2 L1192.5 341.7 L1194.0 340.2 L1195.5 338.6 L1197.0 337.1 L1198.5 335.5 L1200.0 333.9 L1201.5 332.4 L1203.0 330.8 L1204.5 329.2 L1206.0 327.5 L1207.5 325.9 L1209.0 324.3 L1210.5 322.7 L1212.0 321.0 L1213.5 319.4 L1215.0 317.7 L1216.5 316.0 L1218.0 314.4 L1219.5 312.7 L1221.0 311.0 L1222.5 309.3 L1224.0 307.7 L1225.5 306.0 L1227.0 304.3 L1228.5 302.6 L1230.0 300.9 L1231.5 299.2 L1233.0 297.5 L1234.5 295.8 L1236.0 294.2 L1237.5 292.5 L1239.0 290.8 L1240.5 289.1 L1242.0 287.4 L1243.5 285.8 L1245.0 284.1 L1246.5 282.4 L1248.0 280.8 L1249.5 279.2 L1251.0 277.5 L1252.5 275.9 L1254.0 274.3 L1255.5 272.6 L1257.0 271.0 L1258.5 269.4 L1260.0 267.9 L1261.5 266.3 L1263.0 264.7 L1264.5 263.2 L1266.0 261.6 L1267.5 260.1 L1269.0 258.6 L1270.5 257.1 L1272.0 255.6 L1273.5 254.2 L1275.0 252.7 L1276.5 251.3 L1278.0 249.8 L1279.5 248.4 L1281.0 247.0 L1282.5 245.7 L1284.0 244.3 L1285.5 243.0 L1287.0 241.6 L1288.5 240.3 L1290.0 239.0 L1291.5 237.8 L1293.0 236.5 L1294.5 235.3 L1296.0 234.0 L1297.5 232.8 L1299.0 231.6 L1300.5 230.5 L1302.0 229.3 L1303.5 228.2 L1305.0 227.0 L1306.5 225.9 L1308.0 224.9 L1309.5 223.8 L1311.0 222.7 L1312.5 221.7 L1314.0 220.7 L1315.5 219.7 L1317.0 218.7 L1318.5 217.8 L1320.0 216.9 L1321.5 216.0 L1323.0 215.1 L1324.5 214.2 L1326.0 213.3 L1327.5 212.5 L1329.0 211.7 L1330.5 210.9 L1332.0 210.1 L1333.5 209.4 L1335.0 208.7 L1336.5 208.0 L1338.0 207.3 L1339.5 206.6 L1341.0 206.0 L1342.5 205.4 L1344.0 204.8 L1345.5 204.2 L1347.0 203.6 L1348.5 203.1 L1350.0 202.6 L1351.5 202.1 L1353.0 201.7 L1354.5 201.2 L1356.0 200.8 L1357.5 200.4 L1359.0 200.1 L1360.5 199.7 L1362.0 199.4 L1363.5 199.1 L1365.0 198.8 L1366.5 198.6 L1368.0 198.4 L1369.5 198.2 L1371.0 198.0 L1372.5 197.9 L1374.0 197.8 L1375.5 197.7 L1377.0 197.7 L1378.5 197.6 L1380.0 197.6 L1381.5 197.7 L1383.0 197.8 L1384.5 197.9 L1386.0 198.0 L1387.5 198.2 L1389.0 198.4 L1390.5 198.6 L1392.0 198.9 L1393.5 199.2 L1395.0 199.6 L1396.5 199.9 L1398.0 200.4 L1399.5 200.8 L1401.0 201.3 L1402.5 201.8 L1404.0 202.4 L1405.5 203.0 L1407.0 203.6 L1408.5 204.3 L1410.0 205.0 L1411.5 205.8 L1413.0 206.6 L1414.5 207.4 L1416.0 208.2 L1417.5 209.1 L1419.0 210.0 L1420.5 211.0 L1422.0 212.0 L1423.5 213.0 L1425.0 214.0 L1426.5 215.1 L1428.0 216.2 L1429.5 217.4 L1431.0 218.5 L1432.5 219.7 L1434.0 220.9 L1435.5 222.2 L1437.0 223.5 L1438.5 224.8 L1440.0 226.1 L1441.5 227.4 L1443.0 228.8 L1444.5 230.2 L1446.0 231.6 L1447.5 233.0 L1449.0 234.5 L1450.5 235.9 L1452.0 237.4 L1453.5 238.9 L1455.0 240.4 L1456.5 241.9 L1458.0 243.4 L1459.5 245.0 L1461.0 246.5 L1462.5 248.1 L1464.0 249.6 L1465.5 251.2 L1467.0 252.8 L1468.5 254.4 L1470.0 255.9 L1471.5 257.5 L1473.0 259.1 L1474.5 260.7 L1476.0 262.2 L1477.5 263.8 L1479.0 265.4 L1480.5 267.0 L1482.0 268.5 L1483.5 270.1 L1485.0 271.7 L1486.5 273.2 L1488.0 274.8 L1489.5 276.3 L1491.0 277.9 L1492.5 279.4 L1494.0 280.9 L1495.5 282.4 L1497.0 283.9 L1498.5 285.4 L1500.0 286.9 L1501.5 288.3 L1503.0 289.8 L1504.5 291.2 L1506.0 292.7 L1507.5 294.1 L1509.0 295.5 L1510.5 296.8 L1512.0 298.2 L1513.5 299.5 L1515.0 300.9 L1516.5 302.2 L1518.0 303.5 L1519.5 304.7 L1521.0 306.0 L1522.5 307.2 L1524.0 308.4 L1525.5 309.6 L1527.0 310.8 L1528.5 312.0 L1530.0 313.1 L1531.5 314.3 L1533.0 315.4 L1534.5 316.5 L1536.0 317.6 L1537.5 318.6 L1539.0 319.7 L1540.5 320.7 L1542.0 321.7 L1543.5 322.7 L1545.0 323.7 L1546.5 324.7 L1548.0 325.6 L1549.5 326.6 L1551.0 327.5 L1552.5 328.4 L1554.0 329.3 L1555.5 330.2 L1557.0 331.0 L1558.5 331.9 L1560.0 332.7 L1561.5 333.5 L1563.0 334.3 L1564.5 335.1 L1566.0 335.9 L1567.5 336.7 L1569.0 337.4 L1570.5 338.1 L1572.0 338.9 L1573.5 339.6 L1575.0 340.2 L1576.5 340.9 L1578.0 341.6 L1579.5 342.2 L1581.0 342.9 L1582.5 343.5 L1584.0 344.1 L1585.5 344.7 L1587.0 345.3 L1588.5 345.9 L1590.0 346.4 L1591.5 347.0 L1593.0 347.5 L1594.5 348.1 L1596.0 348.6 L1597.5 349.1 L1599.0 349.6 L1600.5 350.1 L1602.0 350.6 L1603.5 351.0 L1605.0 351.5 L1606.5 351.9 L1608.0 352.4 L1609.5 352.8 L1611.0 353.2 L1612.5 353.6 L1614.0 354.0 L1615.5 354.4 L1617.0 354.8 L1618.5 355.2 L1620.0 355.5 L1621.5 355.9 L1623.0 356.2 L1624.5 356.6 L1626.0 356.9 L1627.5 357.2 L1629.0 357.6 L1630.5 357.9 L1632.0 358.2 L1633.5 358.5 L1635.0 358.8 L1636.5 359.0 L1638.0 359.3 L1639.5 359.6 L1641.0 359.9 L1642.5 360.1 L1644.0 360.4 L1645.5 360.6 L1647.0 360.9 L1648.5 361.1 L1650.0 361.4 L1651.5 361.6 L1653.0 361.8 L1654.5 362.0 L1656.0 362.3 L1657.5 362.5 L1659.0 362.7 L1660.5 362.9 L1662.0 363.1 L1663.5 363.3 L1665.0 363.5 L1666.5 363.7 L1668.0 363.9 L1669.5 364.1 L1671.0 364.3 L1672.5 364.5 L1674.0 364.7 L1675.5 364.8 L1677.0 365.0 L1678.5 365.2 L1680.0 365.4 L1681.5 365.6 L1683.0 365.7 L1684.5 365.9 L1686.0 366.1 L1687.5 366.3 L1689.0 366.4 L1690.5 366.6 L1692.0 366.8 L1693.5 367.0 L1695.0 367.1 L1696.5 367.3 L1698.0 367.5 L1699.5 367.7 L1701.0 367.8 L1702.5 368.0 L1704.0 368.2 L1705.5 368.3 L1707.0 368.5 L1708.5 368.7 L1710.0 368.9 L1711.5 369.0 L1713.0 369.2 L1714.5 369.4 L1716.0 369.5 L1717.5 369.7 L1719.0 369.9 L1720.5 370.0 L1722.0 370.2 L1723.5 370.4 L1725.0 370.5 L1726.5 370.7 L1728.0 370.8 L1729.5 371.0 L1731.0 371.2 L1732.5 371.3 L1734.0 371.5 L1735.5 371.6 L1737.0 371.8 L1738.5 371.9 L1740.0 372.1 L1741.5 372.2 L1743.0 372.4 L1744.5 372.5 L1746.0 372.6 L1747.5 372.8 L1749.0 372.9 L1750.5 373.1 L1752.0 373.2 L1753.5 373.3 L1755.0 373.5 L1756.5 373.6 L1758.0 373.7 L1759.5 373.8 L1761.0 374.0 L1762.5 374.1 L1764.0 374.2 L1765.5 374.3 L1767.0 374.4 L1768.5 374.6 L1770.0 374.7 L1771.5 374.8 L1773.0 374.9 L1774.5 375.0 L1776.0 375.1 L1777.5 375.2 L1779.0 375.3 L1780.5 375.4 L1782.0 375.5 L1783.5 375.5 L1785.0 375.6 L1786.5 375.7 L1788.0 375.8 L1789.5 375.9 L1791.0 375.9 L1792.5 376.0 L1794.0 376.1 L1795.5 376.1 L1797.0 376.2 L1798.5 376.3 L1800.0 376.3" stroke="#efa93c" stroke-dasharray="9.6 4.2"/>
<path d="M1084.5 400.2 L1086.0 400.2 L1087.5 400.1 L1089.0 400.1 L1090.5 400.0 L1092.0 399.9 L1093.5 399.8 L1095.0 399.6 L1096.5 399.5 L1098.0 399.3 L1099.5 399.1 L1101.0 398.9 L1102.5 398.6 L1104.0 398.4 L1105.5 398.1 L1107.0 397.8 L1108.5 397.5 L1110.0 397.2 L1111.5 396.8 L1113.0 396.5 L1114.5 396.1 L1116.0 395.7 L1117.5 395.3 L1119.0 394.9 L1120.5 394.4 L1122.0 394.0 L1123.5 393.5 L1125.0 393.0 L1126.5 392.5 L1128.0 392.0 L1129.5 391.5 L1131.0 391.0 L1132.5 390.4 L1134.0 389.9 L1135.5 389.3 L1137.0 388.7 L1138.5 388.2 L1140.0 387.6 L1141.5 387.0 L1143.0 386.3 L1144.5 385.7 L1146.0 385.1 L1147.5 384.4 L1149.0 383.8 L1150.5 383.1 L1152.0 382.5 L1153.5 381.8 L1155.0 381.1 L1156.5 380.4 L1158.0 379.8 L1159.5 379.1 L1161.0 378.4 L1162.5 377.7 L1164.0 377.0 L1165.5 376.3 L1167.0 375.5 L1168.5 374.8 L1170.0 374.1 L1171.5 373.4 L1173.0 372.7 L1174.5 371.9 L1176.0 371.2 L1177.5 370.5 L1179.0 369.7 L1180.5 369.0 L1182.0 368.2 L1183.5 367.5 L1185.0 366.7 L1186.5 365.9 L1188.0 365.2 L1189.5 364.4 L1191.0 363.6 L1192.5 362.8 L1194.0 362.0 L1195.5 361.1 L1197.0 360.3 L1198.5 359.5 L1200.0 358.6 L1201.5 357.7 L1203.0 356.8 L1204.5 356.0 L1206.0 355.0 L1207.5 354.1 L1209.0 353.2 L1210.5 352.2 L1212.0 351.3 L1213.5 350.3 L1215.0 349.3 L1216.5 348.3 L1218.0 347.2 L1219.5 346.2 L1221.0 345.1 L1222.5 344.0 L1224.0 342.9 L1225.5 341.8 L1227.0 340.6 L1228.5 339.4 L1230.0 338.2 L1231.5 337.0 L1233.0 335.8 L1234.5 334.5 L1236.0 333.2 L1237.5 331.9 L1239.0 330.6 L1240.5 329.2 L1242.0 327.8 L1243.5 326.4 L1245.0 325.0 L1246.5 323.5 L1248.0 322.0 L1249.5 320.5 L1251.0 319.0 L1252.5 317.4 L1254.0 315.8 L1255.5 314.2 L1257.0 312.5 L1258.5 310.8 L1260.0 309.1 L1261.5 307.3 L1263.0 305.5 L1264.5 303.7 L1266.0 301.9 L1267.5 300.0 L1269.0 298.1 L1270.5 296.2 L1272.0 294.3 L1273.5 292.3 L1275.0 290.3 L1276.5 288.3 L1278.0 286.3 L1279.5 284.3 L1281.0 282.2 L1282.5 280.1 L1284.0 278.0 L1285.5 275.9 L1287.0 273.8 L1288.5 271.7 L1290.0 269.5 L1291.5 267.4 L1293.0 265.2 L1294.5 263.0 L1296.0 260.9 L1297.5 258.7 L1299.0 256.5 L1300.5 254.3 L1302.0 252.0 L1303.5 249.8 L1305.0 247.6 L1306.5 245.4 L1308.0 243.2 L1309.5 241.0 L1311.0 238.7 L1312.5 236.5 L1314.0 234.3 L1315.5 232.1 L1317.0 229.9 L1318.5 227.8 L1320.0 225.6 L1321.5 223.5 L1323.0 221.4 L1324.5 219.4 L1326.0 217.3 L1327.5 215.4 L1329.0 213.4 L1330.5 211.5 L1332.0 209.7 L1333.5 207.9 L1335.0 206.2 L1336.5 204.5 L1338.0 202.9 L1339.5 201.4 L1341.0 199.9 L1342.5 198.5 L1344.0 197.2 L1345.5 196.0 L1347.0 194.8 L1348.5 193.7 L1350.0 192.7 L1351.5 191.7 L1353.0 190.8 L1354.5 190.0 L1356.0 189.2 L1357.5 188.5 L1359.0 187.9 L1360.5 187.3 L1362.0 186.8 L1363.5 186.3 L1365.0 185.9 L1366.5 185.5 L1368.0 185.2 L1369.5 185.0 L1371.0 184.8 L1372.5 184.6 L1374.0 184.6 L1375.5 184.5 L1377.0 184.5 L1378.5 184.6 L1380.0 184.7 L1381.5 184.8 L1383.0 185.0 L1384.5 185.2 L1386.0 185.5 L1387.5 185.8 L1389.0 186.1 L1390.5 186.5 L1392.0 186.9 L1393.5 187.4 L1395.0 187.9 L1396.5 188.4 L1398.0 188.9 L1399.5 189.5 L1401.0 190.1 L1402.5 190.8 L1404.0 191.4 L1405.5 192.1 L1407.0 192.9 L1408.5 193.6 L1410.0 194.4 L1411.5 195.2 L1413.0 196.0 L1414.5 196.8 L1416.0 197.7 L1417.5 198.6 L1419.0 199.5 L1420.5 200.4 L1422.0 201.3 L1423.5 202.3 L1425.0 203.2 L1426.5 204.2 L1428.0 205.3 L1429.5 206.3 L1431.0 207.3 L1432.5 208.4 L1434.0 209.5 L1435.5 210.6 L1437.0 211.7 L1438.5 212.8 L1440.0 213.9 L1441.5 215.0 L1443.0 216.2 L1444.5 217.4 L1446.0 218.5 L1447.5 219.7 L1449.0 220.9 L1450.5 222.1 L1452.0 223.3 L1453.5 224.5 L1455.0 225.8 L1456.5 227.0 L1458.0 228.2 L1459.5 229.5 L1461.0 230.7 L1462.5 232.0 L1464.0 233.2 L1465.5 234.5 L1467.0 235.7 L1468.5 237.0 L1470.0 238.3 L1471.5 239.5 L1473.0 240.8 L1474.5 242.1 L1476.0 243.3 L1477.5 244.6 L1479.0 245.8 L1480.5 247.1 L1482.0 248.4 L1483.5 249.6 L1485.0 250.9 L1486.5 252.1 L1488.0 253.4 L1489.5 254.6 L1491.0 255.9 L1492.5 257.1 L1494.0 258.3 L1495.5 259.6 L1497.0 260.8 L1498.5 262.0 L1500.0 263.3 L1501.5 264.5 L1503.0 265.7 L1504.5 266.9 L1506.0 268.1 L1507.5 269.3 L1509.0 270.5 L1510.5 271.7 L1512.0 272.9 L1513.5 274.1 L1515.0 275.3 L1516.5 276.5 L1518.0 277.7 L1519.5 278.9 L1521.0 280.0 L1522.5 281.2 L1524.0 282.4 L1525.5 283.5 L1527.0 284.7 L1528.5 285.8 L1530.0 286.9 L1531.5 288.1 L1533.0 289.2 L1534.5 290.3 L1536.0 291.4 L1537.5 292.5 L1539.0 293.7 L1540.5 294.7 L1542.0 295.8 L1543.5 296.9 L1545.0 298.0 L1546.5 299.1 L1548.0 300.1 L1549.5 301.2 L1551.0 302.2 L1552.5 303.3 L1554.0 304.3 L1555.5 305.3 L1557.0 306.4 L1558.5 307.4 L1560.0 308.4 L1561.5 309.4 L1563.0 310.4 L1564.5 311.4 L1566.0 312.3 L1567.5 313.3 L1569.0 314.2 L1570.5 315.2 L1572.0 316.1 L1573.5 317.1 L1575.0 318.0 L1576.5 318.9 L1578.0 319.8 L1579.5 320.7 L1581.0 321.6 L1582.5 322.4 L1584.0 323.3 L1585.5 324.2 L1587.0 325.0 L1588.5 325.8 L1590.0 326.7 L1591.5 327.5 L1593.0 328.3 L1594.5 329.1 L1596.0 329.9 L1597.5 330.7 L1599.0 331.4 L1600.5 332.2 L1602.0 332.9 L1603.5 333.7 L1605.0 334.4 L1606.5 335.1 L1608.0 335.8 L1609.5 336.5 L1611.0 337.2 L1612.5 337.9 L1614.0 338.6 L1615.5 339.2 L1617.0 339.9 L1618.5 340.5 L1620.0 341.2 L1621.5 341.8 L1623.0 342.4 L1624.5 343.0 L1626.0 343.7 L1627.5 344.3 L1629.0 344.8 L1630.5 345.4 L1632.0 346.0 L1633.5 346.6 L1635.0 347.1 L1636.5 347.7 L1638.0 348.2 L1639.5 348.8 L1641.0 349.3 L1642.5 349.8 L1644.0 350.3 L1645.5 350.8 L1647.0 351.3 L1648.5 351.8 L1650.0 352.3 L1651.5 352.8 L1653.0 353.3 L1654.5 353.7 L1656.0 354.2 L1657.5 354.6 L1659.0 355.1 L1660.5 355.5 L1662.0 355.9 L1663.5 356.4 L1665.0 356.8 L1666.5 357.2 L1668.0 357.6 L1669.5 358.0 L1671.0 358.4 L1672.5 358.8 L1674.0 359.2 L1675.5 359.6 L1677.0 359.9 L1678.5 360.3 L1680.0 360.7 L1681.5 361.0 L1683.0 361.4 L1684.5 361.7 L1686.0 362.0 L1687.5 362.4 L1689.0 362.7 L1690.5 363.0 L1692.0 363.4 L1693.5 363.7 L1695.0 364.0 L1696.5 364.3 L1698.0 364.6 L1699.5 364.9 L1701.0 365.2 L1702.5 365.5 L1704.0 365.8 L1705.5 366.0 L1707.0 366.3 L1708.5 366.6 L1710.0 366.9 L1711.5 367.1 L1713.0 367.4 L1714.5 367.6 L1716.0 367.9 L1717.5 368.1 L1719.0 368.4 L1720.5 368.6 L1722.0 368.9 L1723.5 369.1 L1725.0 369.3 L1726.5 369.6 L1728.0 369.8 L1729.5 370.0 L1731.0 370.2 L1732.5 370.5 L1734.0 370.7 L1735.5 370.9 L1737.0 371.1 L1738.5 371.3 L1740.0 371.5 L1741.5 371.7 L1743.0 371.9 L1744.5 372.1 L1746.0 372.3 L1747.5 372.5 L1749.0 372.7 L1750.5 372.9 L1752.0 373.1 L1753.5 373.3 L1755.0 373.4 L1756.5 373.6 L1758.0 373.8 L1759.5 374.0 L1761.0 374.2 L1762.5 374.4 L1764.0 374.5 L1765.5 374.7 L1767.0 374.9 L1768.5 375.1 L1770.0 375.2 L1771.5 375.4 L1773.0 375.6 L1774.5 375.7 L1776.0 375.9 L1777.5 376.1 L1779.0 376.3 L1780.5 376.4 L1782.0 376.6 L1783.5 376.8 L1785.0 376.9 L1786.5 377.1 L1788.0 377.3 L1789.5 377.4 L1791.0 377.6 L1792.5 377.8 L1794.0 377.9 L1795.5 378.1 L1797.0 378.3 L1798.5 378.5 L1800.0 378.6" stroke="#23963f" stroke-dasharray="9.6 4.2"/>
</g>
<g stroke="#303030" stroke-width="1.5" fill="none">
<rect x="1084.50" y="27.92" width="716.55" height="390.65"/>
<path d="M1084.50 418.57H1079.70"/>
<path d="M1084.50 351.32H1079.70"/>
<path d="M1084.50 284.08H1079.70"/>
<path d="M1084.50 216.83H1079.70"/>
<path d="M1084.50 149.59H1079.70"/>
<path d="M1084.50 82.34H1079.70"/>
<path d="M1801.05 27.92H1805.85"/>
<path d="M1801.05 82.81H1805.85"/>
<path d="M1801.05 137.70H1805.85"/>
<path d="M1801.05 192.59H1805.85"/>
<path d="M1801.05 247.48H1805.85"/>
<path d="M1801.05 302.37H1805.85"/>
<path d="M1801.05 357.26H1805.85"/>
<path d="M1801.05 412.15H1805.85"/>
<path d="M1257.90 418.57V423.37"/>
<path d="M1518.70 418.57V423.37"/>
<path d="M1779.30 418.57V423.37"/>
</g>
<text x="1075.6" y="426.5" font-size="23.15" text-anchor="end" font-weight="normal" >0</text>
<text x="1075.6" y="359.2" font-size="23.15" text-anchor="end" font-weight="normal" >2000</text>
<text x="1075.6" y="292.0" font-size="23.15" text-anchor="end" font-weight="normal" >4000</text>
<text x="1075.6" y="224.7" font-size="23.15" text-anchor="end" font-weight="normal" >6000</text>
<text x="1075.6" y="157.5" font-size="23.15" text-anchor="end" font-weight="normal" >8000</text>
<text x="1075.6" y="90.2" font-size="23.15" text-anchor="end" font-weight="normal" >10<tspan dx="3.6">000</tspan></text>
<text x="1809.8" y="36.2" font-size="23.15" text-anchor="start" font-weight="normal" >0</text>
<text x="1809.8" y="91.1" font-size="23.15" text-anchor="start" font-weight="normal" >20</text>
<text x="1809.8" y="146.0" font-size="23.15" text-anchor="start" font-weight="normal" >40</text>
<text x="1809.8" y="200.9" font-size="23.15" text-anchor="start" font-weight="normal" >60</text>
<text x="1809.8" y="255.8" font-size="23.15" text-anchor="start" font-weight="normal" >80</text>
<text x="1809.8" y="310.7" font-size="23.15" text-anchor="start" font-weight="normal" >100</text>
<text x="1809.8" y="365.6" font-size="23.15" text-anchor="start" font-weight="normal" >120</text>
<text x="1809.8" y="420.5" font-size="23.15" text-anchor="start" font-weight="normal" >140</text>
<text transform="translate(1254.9 441.0) rotate(-31)" font-size="23.15" text-anchor="end">2020-06-28</text>
<text transform="translate(1515.7 441.0) rotate(-31)" font-size="23.15" text-anchor="end">2020-06-29</text>
<text transform="translate(1776.3 441.0) rotate(-31)" font-size="23.15" text-anchor="end">2020-06-30</text>
<text transform="translate(1006.3 223.0) rotate(-90)" font-size="23.15" text-anchor="middle">Flow discharge (m³/s)</text>
<text transform="translate(1865.5 223.4) rotate(-90)" font-size="23.15" text-anchor="middle">Rainfall (mm)</text>
<text x="1442.8" y="522.2" font-size="23.15" text-anchor="middle" font-weight="normal" >Date</text>
<text x="1425.2" y="592.3" font-size="44.50" text-anchor="middle" font-weight="bold" fill="#000">(b) 20200628</text>
<path d="M1537.5 56.9H1584.2" stroke="#000000" stroke-width="2.60" fill="none" stroke-linecap="square"/>
<text x="1602.9" y="65.4" font-size="23.15" text-anchor="start" font-weight="normal" >Observation</text>
<path d="M1537.5 89.7H1584.2" stroke="#d71a26" stroke-width="2.60" fill="none" stroke-dasharray="9.6 4.2"/>
<text x="1602.9" y="98.2" font-size="23.15" text-anchor="start" font-weight="normal" >EDL model</text>
<path d="M1537.5 122.8H1584.2" stroke="#9684d2" stroke-width="2.60" fill="none" stroke-dasharray="9.6 4.2"/>
<text x="1602.9" y="131.3" font-size="23.15" text-anchor="start" font-weight="normal" >XAJ model</text>
<path d="M1537.5 155.9H1584.2" stroke="#efa93c" stroke-width="2.60" fill="none" stroke-dasharray="9.6 4.2"/>
<text x="1602.9" y="164.4" font-size="23.15" text-anchor="start" font-weight="normal" >LSTM model</text>
<path d="M1537.5 188.8H1584.2" stroke="#23963f" stroke-width="2.60" fill="none" stroke-dasharray="9.6 4.2"/>
<text x="1602.9" y="197.3" font-size="23.15" text-anchor="start" font-weight="normal" >XAJ-LSTM model</text>
<rect x="1537.5" y="213.8" width="46.7" height="16.0" fill="#6cc0e6"/>
<text x="1602.9" y="230.1" font-size="23.15" text-anchor="start" font-weight="normal" >Rainfall</text>
<clipPath id="cpc"><rect x="115.6" y="634.9" width="716.4" height="390.6"/></clipPath>
<g clip-path="url(#cpc)" fill="#6cc0e6">
<rect x="108.10" y="634.92" width="15.00" height="18.83"/>
<rect x="145.75" y="634.92" width="15.00" height="32.83"/>
<rect x="183.50" y="634.92" width="15.00" height="92.08"/>
<rect x="221.20" y="634.92" width="15.00" height="8.08"/>
<rect x="258.90" y="634.92" width="15.00" height="56.33"/>
<rect x="296.60" y="634.92" width="15.00" height="129.83"/>
<rect x="334.30" y="634.92" width="15.00" height="99.83"/>
<rect x="372.00" y="634.92" width="15.00" height="40.83"/>
<rect x="409.70" y="634.92" width="15.00" height="20.58"/>
<rect x="447.40" y="634.92" width="15.00" height="34.58"/>
<rect x="485.10" y="634.92" width="15.00" height="53.08"/>
<rect x="522.80" y="634.92" width="15.00" height="74.08"/>
<rect x="560.50" y="634.92" width="15.00" height="21.58"/>
<rect x="598.25" y="634.92" width="15.00" height="7.08"/>
<rect x="673.70" y="634.92" width="15.00" height="1.48"/>
<rect x="711.40" y="634.92" width="15.00" height="1.48"/>
</g>
<g clip-path="url(#cpc)" fill="none" stroke-width="2.60" stroke-linejoin="round">
<path d="M115.6 1006.4 L117.1 1007.6 L118.6 1008.7 L120.1 1009.6 L121.6 1010.4 L123.1 1011.0 L124.6 1011.4 L126.1 1011.8 L127.6 1011.9 L129.1 1012.0 L130.6 1011.9 L132.1 1011.7 L133.6 1011.4 L135.1 1011.0 L136.6 1010.6 L138.1 1010.0 L139.6 1009.4 L141.1 1008.6 L142.6 1007.8 L144.1 1007.0 L145.6 1006.0 L147.1 1005.0 L148.6 1003.9 L150.1 1002.8 L151.6 1001.6 L153.1 1000.3 L154.6 999.0 L156.1 997.6 L157.6 996.1 L159.1 994.6 L160.6 993.0 L162.1 991.4 L163.6 989.7 L165.1 987.9 L166.6 986.1 L168.1 984.3 L169.6 982.3 L171.1 980.3 L172.6 978.2 L174.1 976.1 L175.6 973.9 L177.1 971.5 L178.6 969.2 L180.1 966.7 L181.6 964.2 L183.1 961.5 L184.6 958.8 L186.1 956.0 L187.6 953.2 L189.1 950.3 L190.6 947.4 L192.1 944.5 L193.6 941.5 L195.1 938.6 L196.6 935.7 L198.1 932.8 L199.6 930.0 L201.1 927.3 L202.6 924.6 L204.1 922.0 L205.6 919.4 L207.1 917.0 L208.6 914.8 L210.1 912.6 L211.6 910.7 L213.1 908.8 L214.6 907.2 L216.1 905.8 L217.6 904.5 L219.1 903.5 L220.6 902.8 L222.1 902.3 L223.6 902.0 L225.1 902.0 L226.6 902.4 L228.1 903.0 L229.6 903.9 L231.1 905.0 L232.6 906.4 L234.1 908.0 L235.6 909.7 L237.1 911.6 L238.6 913.6 L240.1 915.7 L241.6 917.9 L243.1 920.2 L244.6 922.5 L246.1 924.8 L247.6 927.0 L249.1 929.3 L250.6 931.4 L252.1 933.5 L253.6 935.4 L255.1 937.2 L256.6 938.8 L258.1 940.2 L259.6 941.5 L261.1 942.5 L262.6 943.2 L264.1 943.8 L265.6 944.0 L267.1 944.0 L268.6 943.7 L270.1 943.1 L271.6 942.1 L273.1 940.8 L274.6 939.2 L276.1 937.2 L277.6 934.9 L279.1 932.2 L280.6 929.3 L282.1 926.1 L283.6 922.7 L285.1 919.1 L286.6 915.4 L288.1 911.5 L289.6 907.5 L291.1 903.5 L292.6 899.5 L294.1 895.4 L295.6 891.4 L297.1 887.5 L298.6 883.6 L300.1 879.7 L301.6 875.9 L303.1 872.2 L304.6 868.6 L306.1 864.9 L307.6 861.4 L309.1 857.9 L310.6 854.5 L312.1 851.1 L313.6 847.8 L315.1 844.6 L316.6 841.4 L318.1 838.3 L319.6 835.3 L321.1 832.3 L322.6 829.3 L324.1 826.5 L325.6 823.7 L327.1 821.0 L328.6 818.3 L330.1 815.8 L331.6 813.2 L333.1 810.8 L334.6 808.4 L336.1 806.1 L337.6 803.9 L339.1 801.7 L340.6 799.6 L342.1 797.6 L343.6 795.7 L345.1 793.8 L346.6 792.1 L348.1 790.4 L349.6 788.9 L351.1 787.4 L352.6 786.0 L354.1 784.8 L355.6 783.6 L357.1 782.5 L358.6 781.6 L360.1 780.8 L361.6 780.1 L363.1 779.5 L364.6 779.0 L366.1 778.7 L367.6 778.4 L369.1 778.4 L370.6 778.4 L372.1 778.6 L373.6 778.9 L375.1 779.4 L376.6 780.0 L378.1 780.7 L379.6 781.6 L381.1 782.6 L382.6 783.7 L384.1 784.9 L385.6 786.3 L387.1 787.7 L388.6 789.2 L390.1 790.8 L391.6 792.5 L393.1 794.3 L394.6 796.1 L396.1 798.0 L397.6 799.9 L399.1 801.9 L400.6 803.9 L402.1 805.9 L403.6 808.0 L405.1 810.1 L406.6 812.2 L408.1 814.3 L409.6 816.4 L411.1 818.5 L412.6 820.6 L414.1 822.7 L415.6 824.8 L417.1 826.9 L418.6 829.0 L420.1 831.0 L421.6 833.1 L423.1 835.1 L424.6 837.2 L426.1 839.2 L427.6 841.1 L429.1 843.1 L430.6 845.0 L432.1 846.9 L433.6 848.8 L435.1 850.6 L436.6 852.4 L438.1 854.3 L439.6 856.1 L441.1 857.8 L442.6 859.6 L444.1 861.4 L445.6 863.2 L447.1 865.0 L448.6 866.8 L450.1 868.7 L451.6 870.5 L453.1 872.4 L454.6 874.3 L456.1 876.2 L457.6 878.1 L459.1 880.1 L460.6 882.2 L462.1 884.2 L463.6 886.3 L465.1 888.4 L466.6 890.5 L468.1 892.5 L469.6 894.5 L471.1 896.4 L472.6 898.2 L474.1 899.9 L475.6 901.4 L477.1 902.8 L478.6 904.0 L480.1 905.0 L481.6 905.7 L483.1 906.3 L484.6 906.6 L486.1 906.6 L487.6 906.5 L489.1 906.2 L490.6 905.6 L492.1 904.9 L493.6 903.9 L495.1 902.7 L496.6 901.4 L498.1 899.8 L499.6 898.1 L501.1 896.2 L502.6 894.1 L504.1 891.9 L505.6 889.4 L507.1 886.8 L508.6 884.1 L510.1 881.3 L511.6 878.4 L513.1 875.5 L514.6 872.6 L516.1 869.8 L517.6 867.0 L519.1 864.3 L520.6 861.8 L522.1 859.5 L523.6 857.4 L525.1 855.4 L526.6 853.6 L528.1 851.9 L529.6 850.4 L531.1 849.0 L532.6 847.8 L534.1 846.8 L535.6 845.9 L537.1 845.1 L538.6 844.5 L540.1 844.0 L541.6 843.6 L543.1 843.4 L544.6 843.3 L546.1 843.3 L547.6 843.4 L549.1 843.6 L550.6 843.9 L552.1 844.4 L553.6 844.9 L555.1 845.5 L556.6 846.3 L558.1 847.1 L559.6 848.0 L561.1 849.0 L562.6 850.1 L564.1 851.3 L565.6 852.5 L567.1 853.8 L568.6 855.2 L570.1 856.7 L571.6 858.2 L573.1 859.8 L574.6 861.5 L576.1 863.2 L577.6 864.9 L579.1 866.8 L580.6 868.6 L582.1 870.5 L583.6 872.5 L585.1 874.5 L586.6 876.5 L588.1 878.6 L589.6 880.7 L591.1 882.8 L592.6 885.0 L594.1 887.2 L595.6 889.4 L597.1 891.6 L598.6 893.8 L600.1 896.1 L601.6 898.4 L603.1 900.8 L604.6 903.2 L606.1 905.7 L607.6 908.2 L609.1 910.8 L610.6 913.4 L612.1 916.2 L613.6 919.0 L615.1 921.9 L616.6 924.8 L618.1 927.8 L619.6 930.8 L621.1 933.8 L622.6 936.6 L624.1 939.4 L625.6 942.1 L627.1 944.7 L628.6 947.1 L630.1 949.5 L631.6 951.7 L633.1 953.8 L634.6 955.7 L636.1 957.6 L637.6 959.3 L639.1 960.8 L640.6 962.3 L642.1 963.6 L643.6 964.8 L645.1 965.8 L646.6 966.7 L648.1 967.4 L649.6 968.0 L651.1 968.5 L652.6 968.8 L654.1 969.0 L655.6 969.0 L657.1 968.8 L658.6 968.6 L660.1 968.2 L661.6 967.8 L663.1 967.2 L664.6 966.6 L666.1 966.0 L667.6 965.3 L669.1 964.5 L670.6 963.7 L672.1 963.0 L673.6 962.2 L675.1 961.4 L676.6 960.7 L678.1 960.0 L679.6 959.4 L681.1 958.8 L682.6 958.3 L684.1 958.0 L685.6 957.7 L687.1 957.5 L688.6 957.4 L690.1 957.3 L691.6 957.4 L693.1 957.5 L694.6 957.7 L696.1 957.9 L697.6 958.2 L699.1 958.5 L700.6 958.9 L702.1 959.3 L703.6 959.7 L705.1 960.1 L706.6 960.6 L708.1 961.0 L709.6 961.5 L711.1 961.9 L712.6 962.3 L714.1 962.7 L715.6 963.1 L717.1 963.4 L718.6 963.7 L720.1 964.0 L721.6 964.3 L723.1 964.6 L724.6 964.8 L726.1 965.0 L727.6 965.2 L729.1 965.4 L730.6 965.6 L732.1 965.8 L733.6 965.9 L735.1 966.1 L736.6 966.2 L738.1 966.4 L739.6 966.5 L741.1 966.7 L742.6 966.8 L744.1 966.9 L745.6 967.1 L747.1 967.2 L748.6 967.4 L750.1 967.5 L751.6 967.7 L753.1 967.9 L754.6 968.1 L756.1 968.3 L757.6 968.5 L759.1 968.7 L760.6 968.9 L762.1 969.2 L763.6 969.5 L765.1 969.8 L766.6 970.1 L768.1 970.5 L769.6 970.9 L771.1 971.3 L772.6 971.7 L774.1 972.2 L775.6 972.7 L777.1 973.2 L778.6 973.8 L780.1 974.4 L781.6 975.1 L783.1 975.7 L784.6 976.5 L786.1 977.2 L787.6 977.9 L789.1 978.7 L790.6 979.5 L792.1 980.3 L793.6 981.1 L795.1 981.9 L796.6 982.7 L798.1 983.5 L799.6 984.3 L801.1 985.0 L802.6 985.7 L804.1 986.4 L805.6 987.1 L807.1 987.7 L808.6 988.3 L810.1 988.9 L811.6 989.4 L813.1 989.8 L814.6 990.2 L816.1 990.5 L817.6 990.7 L819.1 990.9 L820.6 991.0 L822.1 991.0 L823.6 990.9 L825.1 990.8 L826.6 990.5 L828.1 990.1 L829.6 989.9 L831.1 989.9" stroke="#000000"/>
<path d="M115.6 1007.6 L117.1 1009.1 L118.6 1010.3 L120.1 1011.3 L121.6 1012.1 L123.1 1012.7 L124.6 1013.1 L126.1 1013.3 L127.6 1013.3 L129.1 1013.1 L130.6 1012.8 L132.1 1012.3 L133.6 1011.6 L135.1 1010.8 L136.6 1009.9 L138.1 1008.8 L139.6 1007.6 L141.1 1006.3 L142.6 1004.9 L144.1 1003.4 L145.6 1001.9 L147.1 1000.2 L148.6 998.5 L150.1 996.7 L151.6 994.9 L153.1 993.0 L154.6 991.1 L156.1 989.1 L157.6 987.2 L159.1 985.2 L160.6 983.3 L162.1 981.3 L163.6 979.3 L165.1 977.4 L166.6 975.5 L168.1 973.7 L169.6 971.9 L171.1 970.1 L172.6 968.4 L174.1 966.7 L175.6 965.1 L177.1 963.5 L178.6 962.0 L180.1 960.5 L181.6 959.0 L183.1 957.6 L184.6 956.3 L186.1 954.9 L187.6 953.7 L189.1 952.4 L190.6 951.2 L192.1 950.1 L193.6 949.0 L195.1 947.9 L196.6 946.9 L198.1 945.9 L199.6 945.0 L201.1 944.1 L202.6 943.3 L204.1 942.5 L205.6 941.7 L207.1 941.0 L208.6 940.3 L210.1 939.7 L211.6 939.1 L213.1 938.6 L214.6 938.0 L216.1 937.6 L217.6 937.1 L219.1 936.7 L220.6 936.3 L222.1 935.9 L223.6 935.6 L225.1 935.2 L226.6 934.9 L228.1 934.6 L229.6 934.2 L231.1 933.9 L232.6 933.5 L234.1 933.1 L235.6 932.7 L237.1 932.3 L238.6 931.8 L240.1 931.4 L241.6 930.8 L243.1 930.3 L244.6 929.7 L246.1 929.0 L247.6 928.3 L249.1 927.6 L250.6 926.7 L252.1 925.8 L253.6 924.9 L255.1 923.8 L256.6 922.7 L258.1 921.5 L259.6 920.2 L261.1 918.8 L262.6 917.4 L264.1 915.8 L265.6 914.1 L267.1 912.3 L268.6 910.4 L270.1 908.4 L271.6 906.2 L273.1 904.0 L274.6 901.6 L276.1 899.1 L277.6 896.6 L279.1 893.9 L280.6 891.2 L282.1 888.4 L283.6 885.6 L285.1 882.6 L286.6 879.7 L288.1 876.7 L289.6 873.6 L291.1 870.6 L292.6 867.5 L294.1 864.4 L295.6 861.2 L297.1 858.1 L298.6 855.0 L300.1 851.9 L301.6 848.9 L303.1 845.8 L304.6 842.8 L306.1 839.9 L307.6 837.0 L309.1 834.1 L310.6 831.3 L312.1 828.6 L313.6 825.9 L315.1 823.4 L316.6 820.9 L318.1 818.4 L319.6 816.1 L321.1 813.8 L322.6 811.7 L324.1 809.6 L325.6 807.5 L327.1 805.6 L328.6 803.8 L330.1 802.0 L331.6 800.3 L333.1 798.8 L334.6 797.3 L336.1 795.9 L337.6 794.6 L339.1 793.4 L340.6 792.3 L342.1 791.3 L343.6 790.5 L345.1 789.7 L346.6 789.0 L348.1 788.4 L349.6 788.0 L351.1 787.6 L352.6 787.4 L354.1 787.3 L355.6 787.3 L357.1 787.4 L358.6 787.6 L360.1 787.9 L361.6 788.4 L363.1 788.9 L364.6 789.6 L366.1 790.3 L367.6 791.1 L369.1 792.0 L370.6 793.0 L372.1 794.1 L373.6 795.3 L375.1 796.5 L376.6 797.8 L378.1 799.2 L379.6 800.6 L381.1 802.1 L382.6 803.7 L384.1 805.3 L385.6 806.9 L387.1 808.6 L388.6 810.4 L390.1 812.2 L391.6 814.0 L393.1 815.9 L394.6 817.8 L396.1 819.7 L397.6 821.7 L399.1 823.7 L400.6 825.7 L402.1 827.7 L403.6 829.8 L405.1 831.8 L406.6 833.9 L408.1 836.0 L409.6 838.1 L411.1 840.1 L412.6 842.2 L414.1 844.3 L415.6 846.4 L417.1 848.4 L418.6 850.5 L420.1 852.5 L421.6 854.5 L423.1 856.5 L424.6 858.5 L426.1 860.4 L427.6 862.4 L429.1 864.2 L430.6 866.1 L432.1 867.9 L433.6 869.7 L435.1 871.4 L436.6 873.1 L438.1 874.7 L439.6 876.3 L441.1 877.8 L442.6 879.2 L444.1 880.6 L445.6 882.0 L447.1 883.2 L448.6 884.4 L450.1 885.6 L451.6 886.6 L453.1 887.6 L454.6 888.6 L456.1 889.5 L457.6 890.3 L459.1 891.0 L460.6 891.7 L462.1 892.3 L463.6 892.9 L465.1 893.4 L466.6 893.8 L468.1 894.2 L469.6 894.5 L471.1 894.8 L472.6 895.0 L474.1 895.1 L475.6 895.2 L477.1 895.2 L478.6 895.1 L480.1 895.0 L481.6 894.9 L483.1 894.7 L484.6 894.4 L486.1 894.1 L487.6 893.7 L489.1 893.2 L490.6 892.8 L492.1 892.2 L493.6 891.6 L495.1 890.9 L496.6 890.2 L498.1 889.5 L499.6 888.7 L501.1 887.8 L502.6 886.9 L504.1 885.9 L505.6 884.9 L507.1 883.9 L508.6 882.8 L510.1 881.7 L511.6 880.6 L513.1 879.5 L514.6 878.4 L516.1 877.3 L517.6 876.3 L519.1 875.2 L520.6 874.1 L522.1 873.1 L523.6 872.2 L525.1 871.2 L526.6 870.3 L528.1 869.5 L529.6 868.7 L531.1 868.0 L532.6 867.4 L534.1 866.9 L535.6 866.4 L537.1 866.0 L538.6 865.7 L540.1 865.6 L541.6 865.5 L543.1 865.5 L544.6 865.6 L546.1 865.8 L547.6 866.0 L549.1 866.4 L550.6 866.8 L552.1 867.3 L553.6 867.9 L555.1 868.6 L556.6 869.3 L558.1 870.1 L559.6 871.0 L561.1 871.9 L562.6 872.9 L564.1 873.9 L565.6 875.0 L567.1 876.1 L568.6 877.3 L570.1 878.6 L571.6 879.9 L573.1 881.2 L574.6 882.6 L576.1 884.0 L577.6 885.4 L579.1 886.9 L580.6 888.4 L582.1 890.0 L583.6 891.5 L585.1 893.1 L586.6 894.7 L588.1 896.4 L589.6 898.0 L591.1 899.7 L592.6 901.3 L594.1 903.0 L595.6 904.7 L597.1 906.4 L598.6 908.1 L600.1 909.8 L601.6 911.4 L603.1 913.1 L604.6 914.8 L606.1 916.5 L607.6 918.1 L609.1 919.8 L610.6 921.4 L612.1 923.1 L613.6 924.7 L615.1 926.2 L616.6 927.8 L618.1 929.4 L619.6 930.9 L621.1 932.4 L622.6 933.8 L624.1 935.3 L625.6 936.7 L627.1 938.1 L628.6 939.4 L630.1 940.7 L631.6 942.0 L633.1 943.2 L634.6 944.3 L636.1 945.5 L637.6 946.6 L639.1 947.6 L640.6 948.6 L642.1 949.5 L643.6 950.4 L645.1 951.2 L646.6 952.0 L648.1 952.8 L649.6 953.5 L651.1 954.1 L652.6 954.8 L654.1 955.4 L655.6 955.9 L657.1 956.4 L658.6 956.9 L660.1 957.4 L661.6 957.8 L663.1 958.2 L664.6 958.6 L666.1 958.9 L667.6 959.3 L669.1 959.6 L670.6 959.8 L672.1 960.1 L673.6 960.4 L675.1 960.6 L676.6 960.9 L678.1 961.1 L679.6 961.3 L681.1 961.5 L682.6 961.7 L684.1 961.9 L685.6 962.1 L687.1 962.3 L688.6 962.5 L690.1 962.7 L691.6 962.9 L693.1 963.1 L694.6 963.3 L696.1 963.5 L697.6 963.8 L699.1 964.0 L700.6 964.2 L702.1 964.5 L703.6 964.8 L705.1 965.0 L706.6 965.3 L708.1 965.6 L709.6 965.8 L711.1 966.1 L712.6 966.4 L714.1 966.7 L715.6 967.0 L717.1 967.3 L718.6 967.6 L720.1 967.9 L721.6 968.2 L723.1 968.5 L724.6 968.8 L726.1 969.1 L727.6 969.4 L729.1 969.8 L730.6 970.1 L732.1 970.4 L733.6 970.7 L735.1 971.0 L736.6 971.3 L738.1 971.7 L739.6 972.0 L741.1 972.3 L742.6 972.6 L744.1 972.9 L745.6 973.2 L747.1 973.5 L748.6 973.8 L750.1 974.1 L751.6 974.4 L753.1 974.7 L754.6 975.0 L756.1 975.3 L757.6 975.6 L759.1 975.9 L760.6 976.2 L762.1 976.5 L763.6 976.8 L765.1 977.1 L766.6 977.4 L768.1 977.6 L769.6 977.9 L771.1 978.2 L772.6 978.5 L774.1 978.7 L775.6 979.0 L777.1 979.3 L778.6 979.5 L780.1 979.8 L781.6 980.1 L783.1 980.3 L784.6 980.6 L786.1 980.8 L787.6 981.0 L789.1 981.3 L790.6 981.5 L792.1 981.7 L793.6 982.0 L795.1 982.2 L796.6 982.4 L798.1 982.6 L799.6 982.8 L801.1 983.1 L802.6 983.3 L804.1 983.5 L805.6 983.6 L807.1 983.8 L808.6 984.0 L810.1 984.2 L811.6 984.4 L813.1 984.5 L814.6 984.7 L816.1 984.9 L817.6 985.0 L819.1 985.2 L820.6 985.3 L822.1 985.5 L823.6 985.6 L825.1 985.7 L826.6 985.8 L828.1 986.0 L829.6 986.1 L831.1 986.2" stroke="#d71a26" stroke-dasharray="9.6 4.2"/>
<path d="M115.6 1002.2 L117.1 1002.5 L118.6 1002.7 L120.1 1002.9 L121.6 1003.0 L123.1 1003.1 L124.6 1003.2 L126.1 1003.1 L127.6 1003.1 L129.1 1003.0 L130.6 1002.8 L132.1 1002.7 L133.6 1002.4 L135.1 1002.2 L136.6 1001.9 L138.1 1001.6 L139.6 1001.2 L141.1 1000.8 L142.6 1000.4 L144.1 1000.0 L145.6 999.5 L147.1 999.0 L148.6 998.5 L150.1 998.0 L151.6 997.4 L153.1 996.8 L154.6 996.3 L156.1 995.6 L157.6 995.0 L159.1 994.4 L160.6 993.8 L162.1 993.1 L163.6 992.5 L165.1 991.8 L166.6 991.2 L168.1 990.5 L169.6 989.8 L171.1 989.2 L172.6 988.5 L174.1 987.9 L175.6 987.2 L177.1 986.6 L178.6 985.9 L180.1 985.3 L181.6 984.7 L183.1 984.1 L184.6 983.5 L186.1 983.0 L187.6 982.4 L189.1 981.9 L190.6 981.4 L192.1 980.9 L193.6 980.4 L195.1 980.0 L196.6 979.6 L198.1 979.2 L199.6 978.9 L201.1 978.6 L202.6 978.3 L204.1 978.1 L205.6 977.9 L207.1 977.7 L208.6 977.6 L210.1 977.5 L211.6 977.5 L213.1 977.5 L214.6 977.5 L216.1 977.6 L217.6 977.7 L219.1 977.9 L220.6 978.1 L222.1 978.3 L223.6 978.5 L225.1 978.7 L226.6 979.0 L228.1 979.2 L229.6 979.4 L231.1 979.7 L232.6 979.9 L234.1 980.1 L235.6 980.3 L237.1 980.4 L238.6 980.6 L240.1 980.6 L241.6 980.7 L243.1 980.7 L244.6 980.6 L246.1 980.5 L247.6 980.4 L249.1 980.2 L250.6 979.9 L252.1 979.5 L253.6 979.1 L255.1 978.5 L256.6 977.9 L258.1 977.2 L259.6 976.4 L261.1 975.5 L262.6 974.5 L264.1 973.4 L265.6 972.2 L267.1 970.8 L268.6 969.3 L270.1 967.7 L271.6 966.0 L273.1 964.1 L274.6 962.1 L276.1 959.9 L277.6 957.7 L279.1 955.3 L280.6 952.8 L282.1 950.2 L283.6 947.5 L285.1 944.7 L286.6 941.9 L288.1 939.0 L289.6 936.0 L291.1 933.1 L292.6 930.1 L294.1 927.0 L295.6 924.0 L297.1 921.0 L298.6 917.9 L300.1 914.9 L301.6 911.9 L303.1 909.0 L304.6 906.1 L306.1 903.3 L307.6 900.5 L309.1 897.9 L310.6 895.3 L312.1 892.8 L313.6 890.4 L315.1 888.1 L316.6 886.0 L318.1 883.9 L319.6 881.9 L321.1 880.0 L322.6 878.2 L324.1 876.5 L325.6 874.8 L327.1 873.2 L328.6 871.7 L330.1 870.1 L331.6 868.7 L333.1 867.2 L334.6 865.7 L336.1 864.3 L337.6 862.9 L339.1 861.5 L340.6 860.1 L342.1 858.8 L343.6 857.5 L345.1 856.3 L346.6 855.2 L348.1 854.1 L349.6 853.1 L351.1 852.2 L352.6 851.3 L354.1 850.6 L355.6 849.9 L357.1 849.4 L358.6 848.9 L360.1 848.6 L361.6 848.4 L363.1 848.2 L364.6 848.2 L366.1 848.3 L367.6 848.5 L369.1 848.8 L370.6 849.1 L372.1 849.5 L373.6 850.0 L375.1 850.6 L376.6 851.2 L378.1 851.8 L379.6 852.5 L381.1 853.3 L382.6 854.1 L384.1 854.9 L385.6 855.7 L387.1 856.6 L388.6 857.4 L390.1 858.3 L391.6 859.2 L393.1 860.1 L394.6 860.9 L396.1 861.8 L397.6 862.7 L399.1 863.6 L400.6 864.5 L402.1 865.4 L403.6 866.3 L405.1 867.3 L406.6 868.2 L408.1 869.2 L409.6 870.2 L411.1 871.2 L412.6 872.2 L414.1 873.2 L415.6 874.3 L417.1 875.4 L418.6 876.5 L420.1 877.7 L421.6 878.8 L423.1 880.0 L424.6 881.2 L426.1 882.5 L427.6 883.7 L429.1 885.0 L430.6 886.3 L432.1 887.6 L433.6 888.9 L435.1 890.1 L436.6 891.4 L438.1 892.7 L439.6 894.0 L441.1 895.3 L442.6 896.5 L444.1 897.8 L445.6 899.0 L447.1 900.2 L448.6 901.4 L450.1 902.5 L451.6 903.6 L453.1 904.7 L454.6 905.8 L456.1 906.8 L457.6 907.7 L459.1 908.6 L460.6 909.5 L462.1 910.3 L463.6 911.1 L465.1 911.8 L466.6 912.4 L468.1 913.1 L469.6 913.6 L471.1 914.1 L472.6 914.6 L474.1 915.1 L475.6 915.5 L477.1 915.8 L478.6 916.2 L480.1 916.4 L481.6 916.7 L483.1 916.9 L484.6 917.1 L486.1 917.3 L487.6 917.4 L489.1 917.5 L490.6 917.6 L492.1 917.6 L493.6 917.7 L495.1 917.7 L496.6 917.6 L498.1 917.6 L499.6 917.6 L501.1 917.5 L502.6 917.4 L504.1 917.3 L505.6 917.2 L507.1 917.1 L508.6 916.9 L510.1 916.8 L511.6 916.6 L513.1 916.5 L514.6 916.3 L516.1 916.1 L517.6 916.0 L519.1 915.8 L520.6 915.6 L522.1 915.5 L523.6 915.3 L525.1 915.2 L526.6 915.0 L528.1 914.9 L529.6 914.7 L531.1 914.6 L532.6 914.5 L534.1 914.4 L535.6 914.3 L537.1 914.3 L538.6 914.2 L540.1 914.2 L541.6 914.2 L543.1 914.2 L544.6 914.2 L546.1 914.3 L547.6 914.4 L549.1 914.5 L550.6 914.6 L552.1 914.8 L553.6 915.0 L555.1 915.2 L556.6 915.4 L558.1 915.7 L559.6 915.9 L561.1 916.2 L562.6 916.6 L564.1 916.9 L565.6 917.3 L567.1 917.6 L568.6 918.0 L570.1 918.5 L571.6 918.9 L573.1 919.3 L574.6 919.8 L576.1 920.3 L577.6 920.8 L579.1 921.3 L580.6 921.8 L582.1 922.4 L583.6 922.9 L585.1 923.5 L586.6 924.1 L588.1 924.7 L589.6 925.3 L591.1 925.9 L592.6 926.5 L594.1 927.2 L595.6 927.8 L597.1 928.4 L598.6 929.1 L600.1 929.8 L601.6 930.4 L603.1 931.1 L604.6 931.8 L606.1 932.5 L607.6 933.1 L609.1 933.8 L610.6 934.5 L612.1 935.2 L613.6 935.9 L615.1 936.6 L616.6 937.3 L618.1 938.0 L619.6 938.7 L621.1 939.4 L622.6 940.1 L624.1 940.7 L625.6 941.4 L627.1 942.1 L628.6 942.8 L630.1 943.5 L631.6 944.1 L633.1 944.8 L634.6 945.4 L636.1 946.1 L637.6 946.7 L639.1 947.3 L640.6 948.0 L642.1 948.6 L643.6 949.2 L645.1 949.8 L646.6 950.3 L648.1 950.9 L649.6 951.5 L651.1 952.0 L652.6 952.6 L654.1 953.1 L655.6 953.6 L657.1 954.2 L658.6 954.7 L660.1 955.2 L661.6 955.7 L663.1 956.1 L664.6 956.6 L666.1 957.1 L667.6 957.6 L669.1 958.0 L670.6 958.5 L672.1 958.9 L673.6 959.3 L675.1 959.7 L676.6 960.2 L678.1 960.6 L679.6 961.0 L681.1 961.4 L682.6 961.8 L684.1 962.1 L685.6 962.5 L687.1 962.9 L688.6 963.2 L690.1 963.6 L691.6 963.9 L693.1 964.3 L694.6 964.6 L696.1 965.0 L697.6 965.3 L699.1 965.6 L700.6 965.9 L702.1 966.2 L703.6 966.5 L705.1 966.8 L706.6 967.1 L708.1 967.4 L709.6 967.7 L711.1 967.9 L712.6 968.2 L714.1 968.5 L715.6 968.7 L717.1 969.0 L718.6 969.2 L720.1 969.5 L721.6 969.7 L723.1 969.9 L724.6 970.2 L726.1 970.4 L727.6 970.6 L729.1 970.8 L730.6 971.1 L732.1 971.3 L733.6 971.5 L735.1 971.7 L736.6 971.9 L738.1 972.1 L739.6 972.3 L741.1 972.4 L742.6 972.6 L744.1 972.8 L745.6 973.0 L747.1 973.2 L748.6 973.3 L750.1 973.5 L751.6 973.7 L753.1 973.8 L754.6 974.0 L756.1 974.2 L757.6 974.3 L759.1 974.5 L760.6 974.6 L762.1 974.8 L763.6 974.9 L765.1 975.1 L766.6 975.2 L768.1 975.4 L769.6 975.5 L771.1 975.6 L772.6 975.8 L774.1 975.9 L775.6 976.1 L777.1 976.2 L778.6 976.3 L780.1 976.5 L781.6 976.6 L783.1 976.7 L784.6 976.9 L786.1 977.0 L787.6 977.1 L789.1 977.2 L790.6 977.4 L792.1 977.5 L793.6 977.6 L795.1 977.8 L796.6 977.9 L798.1 978.0 L799.6 978.1 L801.1 978.3 L802.6 978.4 L804.1 978.5 L805.6 978.7 L807.1 978.8 L808.6 978.9 L810.1 979.1 L811.6 979.2 L813.1 979.3 L814.6 979.5 L816.1 979.6 L817.6 979.7 L819.1 979.9 L820.6 980.0 L822.1 980.2 L823.6 980.3 L825.1 980.5 L826.6 980.6 L828.1 980.8 L829.6 980.9 L831.1 981.1" stroke="#9684d2" stroke-dasharray="9.6 4.2"/>
<path d="M115.6 1009.9 L117.1 1011.8 L118.6 1013.5 L120.1 1014.8 L121.6 1015.9 L123.1 1016.7 L124.6 1017.3 L126.1 1017.5 L127.6 1017.6 L129.1 1017.4 L130.6 1017.0 L132.1 1016.4 L133.6 1015.6 L135.1 1014.6 L136.6 1013.5 L138.1 1012.2 L139.6 1010.7 L141.1 1009.1 L142.6 1007.4 L144.1 1005.6 L145.6 1003.6 L147.1 1001.6 L148.6 999.5 L150.1 997.3 L151.6 995.1 L153.1 992.8 L154.6 990.5 L156.1 988.1 L157.6 985.7 L159.1 983.4 L160.6 981.0 L162.1 978.7 L163.6 976.4 L165.1 974.2 L166.6 972.0 L168.1 969.8 L169.6 967.7 L171.1 965.7 L172.6 963.8 L174.1 961.9 L175.6 960.1 L177.1 958.3 L178.6 956.6 L180.1 955.0 L181.6 953.4 L183.1 951.8 L184.6 950.3 L186.1 948.9 L187.6 947.6 L189.1 946.2 L190.6 945.0 L192.1 943.8 L193.6 942.6 L195.1 941.5 L196.6 940.4 L198.1 939.4 L199.6 938.4 L201.1 937.5 L202.6 936.7 L204.1 935.8 L205.6 935.0 L207.1 934.3 L208.6 933.6 L210.1 933.0 L211.6 932.4 L213.1 931.8 L214.6 931.3 L216.1 930.8 L217.6 930.3 L219.1 929.9 L220.6 929.6 L222.1 929.2 L223.6 928.9 L225.1 928.6 L226.6 928.3 L228.1 928.0 L229.6 927.8 L231.1 927.5 L232.6 927.2 L234.1 926.9 L235.6 926.5 L237.1 926.2 L238.6 925.8 L240.1 925.3 L241.6 924.8 L243.1 924.3 L244.6 923.7 L246.1 923.0 L247.6 922.3 L249.1 921.5 L250.6 920.6 L252.1 919.6 L253.6 918.5 L255.1 917.3 L256.6 916.0 L258.1 914.6 L259.6 913.1 L261.1 911.5 L262.6 909.8 L264.1 908.0 L265.6 906.2 L267.1 904.3 L268.6 902.3 L270.1 900.3 L271.6 898.3 L273.1 896.3 L274.6 894.2 L276.1 892.1 L277.6 890.0 L279.1 887.9 L280.6 885.9 L282.1 883.8 L283.6 881.8 L285.1 879.7 L286.6 877.7 L288.1 875.7 L289.6 873.7 L291.1 871.7 L292.6 869.8 L294.1 867.9 L295.6 866.0 L297.1 864.1 L298.6 862.3 L300.1 860.5 L301.6 858.7 L303.1 857.0 L304.6 855.3 L306.1 853.6 L307.6 852.0 L309.1 850.5 L310.6 848.9 L312.1 847.5 L313.6 846.1 L315.1 844.7 L316.6 843.4 L318.1 842.1 L319.6 840.9 L321.1 839.8 L322.6 838.7 L324.1 837.6 L325.6 836.6 L327.1 835.7 L328.6 834.8 L330.1 834.0 L331.6 833.2 L333.1 832.5 L334.6 831.8 L336.1 831.1 L337.6 830.6 L339.1 830.0 L340.6 829.5 L342.1 829.1 L343.6 828.7 L345.1 828.4 L346.6 828.1 L348.1 827.8 L349.6 827.6 L351.1 827.4 L352.6 827.3 L354.1 827.2 L355.6 827.2 L357.1 827.2 L358.6 827.2 L360.1 827.3 L361.6 827.4 L363.1 827.6 L364.6 827.8 L366.1 828.1 L367.6 828.3 L369.1 828.7 L370.6 829.0 L372.1 829.4 L373.6 829.8 L375.1 830.3 L376.6 830.8 L378.1 831.3 L379.6 831.9 L381.1 832.5 L382.6 833.1 L384.1 833.8 L385.6 834.5 L387.1 835.2 L388.6 835.9 L390.1 836.7 L391.6 837.5 L393.1 838.4 L394.6 839.3 L396.1 840.2 L397.6 841.1 L399.1 842.0 L400.6 843.0 L402.1 844.0 L403.6 845.0 L405.1 846.0 L406.6 847.0 L408.1 848.0 L409.6 849.1 L411.1 850.2 L412.6 851.2 L414.1 852.3 L415.6 853.4 L417.1 854.5 L418.6 855.6 L420.1 856.7 L421.6 857.8 L423.1 858.9 L424.6 860.0 L426.1 861.1 L427.6 862.1 L429.1 863.2 L430.6 864.3 L432.1 865.3 L433.6 866.4 L435.1 867.4 L436.6 868.4 L438.1 869.4 L439.6 870.4 L441.1 871.4 L442.6 872.4 L444.1 873.3 L445.6 874.2 L447.1 875.1 L448.6 875.9 L450.1 876.7 L451.6 877.5 L453.1 878.3 L454.6 879.1 L456.1 879.8 L457.6 880.4 L459.1 881.1 L460.6 881.6 L462.1 882.2 L463.6 882.7 L465.1 883.2 L466.6 883.6 L468.1 884.0 L469.6 884.3 L471.1 884.6 L472.6 884.8 L474.1 885.0 L475.6 885.1 L477.1 885.2 L478.6 885.2 L480.1 885.1 L481.6 885.0 L483.1 884.8 L484.6 884.6 L486.1 884.3 L487.6 883.9 L489.1 883.4 L490.6 882.9 L492.1 882.3 L493.6 881.6 L495.1 880.9 L496.6 880.1 L498.1 879.3 L499.6 878.4 L501.1 877.5 L502.6 876.5 L504.1 875.6 L505.6 874.6 L507.1 873.6 L508.6 872.6 L510.1 871.6 L511.6 870.6 L513.1 869.6 L514.6 868.7 L516.1 867.7 L517.6 866.9 L519.1 866.0 L520.6 865.2 L522.1 864.4 L523.6 863.7 L525.1 863.1 L526.6 862.6 L528.1 862.1 L529.6 861.7 L531.1 861.4 L532.6 861.2 L534.1 861.0 L535.6 861.0 L537.1 861.1 L538.6 861.2 L540.1 861.5 L541.6 861.8 L543.1 862.2 L544.6 862.6 L546.1 863.2 L547.6 863.8 L549.1 864.5 L550.6 865.2 L552.1 866.1 L553.6 867.0 L555.1 867.9 L556.6 868.9 L558.1 870.0 L559.6 871.1 L561.1 872.3 L562.6 873.6 L564.1 874.9 L565.6 876.2 L567.1 877.6 L568.6 879.0 L570.1 880.5 L571.6 882.0 L573.1 883.5 L574.6 885.1 L576.1 886.8 L577.6 888.4 L579.1 890.1 L580.6 891.8 L582.1 893.5 L583.6 895.3 L585.1 897.1 L586.6 898.9 L588.1 900.7 L589.6 902.5 L591.1 904.3 L592.6 906.2 L594.1 908.0 L595.6 909.9 L597.1 911.8 L598.6 913.6 L600.1 915.5 L601.6 917.4 L603.1 919.2 L604.6 921.1 L606.1 922.9 L607.6 924.7 L609.1 926.5 L610.6 928.3 L612.1 930.1 L613.6 931.8 L615.1 933.5 L616.6 935.2 L618.1 936.8 L619.6 938.5 L621.1 940.0 L622.6 941.6 L624.1 943.1 L625.6 944.6 L627.1 946.0 L628.6 947.3 L630.1 948.7 L631.6 949.9 L633.1 951.1 L634.6 952.3 L636.1 953.4 L637.6 954.4 L639.1 955.4 L640.6 956.4 L642.1 957.3 L643.6 958.1 L645.1 958.9 L646.6 959.7 L648.1 960.4 L649.6 961.1 L651.1 961.7 L652.6 962.4 L654.1 962.9 L655.6 963.5 L657.1 964.0 L658.6 964.5 L660.1 964.9 L661.6 965.4 L663.1 965.8 L664.6 966.2 L666.1 966.5 L667.6 966.9 L669.1 967.2 L670.6 967.5 L672.1 967.8 L673.6 968.1 L675.1 968.4 L676.6 968.6 L678.1 968.9 L679.6 969.1 L681.1 969.4 L682.6 969.6 L684.1 969.9 L685.6 970.1 L687.1 970.4 L688.6 970.6 L690.1 970.9 L691.6 971.1 L693.1 971.4 L694.6 971.6 L696.1 971.9 L697.6 972.1 L699.1 972.4 L700.6 972.6 L702.1 972.9 L703.6 973.1 L705.1 973.4 L706.6 973.6 L708.1 973.9 L709.6 974.1 L711.1 974.4 L712.6 974.6 L714.1 974.9 L715.6 975.1 L717.1 975.4 L718.6 975.6 L720.1 975.9 L721.6 976.1 L723.1 976.3 L724.6 976.6 L726.1 976.8 L727.6 977.0 L729.1 977.3 L730.6 977.5 L732.1 977.7 L733.6 977.9 L735.1 978.1 L736.6 978.4 L738.1 978.6 L739.6 978.8 L741.1 979.0 L742.6 979.2 L744.1 979.4 L745.6 979.6 L747.1 979.7 L748.6 979.9 L750.1 980.1 L751.6 980.3 L753.1 980.5 L754.6 980.7 L756.1 980.8 L757.6 981.0 L759.1 981.2 L760.6 981.3 L762.1 981.5 L763.6 981.7 L765.1 981.8 L766.6 982.0 L768.1 982.1 L769.6 982.3 L771.1 982.4 L772.6 982.6 L774.1 982.7 L775.6 982.9 L777.1 983.0 L778.6 983.2 L780.1 983.3 L781.6 983.4 L783.1 983.6 L784.6 983.7 L786.1 983.8 L787.6 984.0 L789.1 984.1 L790.6 984.2 L792.1 984.4 L793.6 984.5 L795.1 984.6 L796.6 984.7 L798.1 984.9 L799.6 985.0 L801.1 985.1 L802.6 985.2 L804.1 985.3 L805.6 985.4 L807.1 985.6 L808.6 985.7 L810.1 985.8 L811.6 985.9 L813.1 986.0 L814.6 986.1 L816.1 986.2 L817.6 986.3 L819.1 986.4 L820.6 986.6 L822.1 986.7 L823.6 986.8 L825.1 986.9 L826.6 987.0 L828.1 987.1 L829.6 987.2 L831.1 987.3" stroke="#efa93c" stroke-dasharray="9.6 4.2"/>
<path d="M115.6 1005.3 L117.1 1005.9 L118.6 1006.3 L120.1 1006.7 L121.6 1007.0 L123.1 1007.2 L124.6 1007.3 L126.1 1007.3 L127.6 1007.2 L129.1 1007.1 L130.6 1006.9 L132.1 1006.6 L133.6 1006.3 L135.1 1006.0 L136.6 1005.6 L138.1 1005.2 L139.6 1004.7 L141.1 1004.2 L142.6 1003.7 L144.1 1003.2 L145.6 1002.7 L147.1 1002.2 L148.6 1001.7 L150.1 1001.1 L151.6 1000.6 L153.1 1000.0 L154.6 999.3 L156.1 998.7 L157.6 998.0 L159.1 997.2 L160.6 996.4 L162.1 995.5 L163.6 994.6 L165.1 993.6 L166.6 992.5 L168.1 991.4 L169.6 990.1 L171.1 988.8 L172.6 987.4 L174.1 985.9 L175.6 984.4 L177.1 982.9 L178.6 981.3 L180.1 979.6 L181.6 977.9 L183.1 976.2 L184.6 974.5 L186.1 972.8 L187.6 971.1 L189.1 969.4 L190.6 967.6 L192.1 966.0 L193.6 964.3 L195.1 962.6 L196.6 961.0 L198.1 959.5 L199.6 958.0 L201.1 956.5 L202.6 955.1 L204.1 953.8 L205.6 952.6 L207.1 951.4 L208.6 950.4 L210.1 949.4 L211.6 948.6 L213.1 947.8 L214.6 947.2 L216.1 946.6 L217.6 946.2 L219.1 945.9 L220.6 945.6 L222.1 945.5 L223.6 945.4 L225.1 945.4 L226.6 945.5 L228.1 945.6 L229.6 945.8 L231.1 946.1 L232.6 946.4 L234.1 946.7 L235.6 947.1 L237.1 947.5 L238.6 947.9 L240.1 948.4 L241.6 948.8 L243.1 949.3 L244.6 949.8 L246.1 950.3 L247.6 950.7 L249.1 951.2 L250.6 951.7 L252.1 952.1 L253.6 952.4 L255.1 952.8 L256.6 953.0 L258.1 953.2 L259.6 953.2 L261.1 953.2 L262.6 953.0 L264.1 952.7 L265.6 952.2 L267.1 951.5 L268.6 950.7 L270.1 949.6 L271.6 948.4 L273.1 946.9 L274.6 945.3 L276.1 943.4 L277.6 941.4 L279.1 939.3 L280.6 937.0 L282.1 934.5 L283.6 932.0 L285.1 929.4 L286.6 926.6 L288.1 923.8 L289.6 921.0 L291.1 918.0 L292.6 915.1 L294.1 912.1 L295.6 909.1 L297.1 906.1 L298.6 903.1 L300.1 900.2 L301.6 897.3 L303.1 894.4 L304.6 891.6 L306.1 888.9 L307.6 886.2 L309.1 883.7 L310.6 881.3 L312.1 879.0 L313.6 876.8 L315.1 874.7 L316.6 872.8 L318.1 870.9 L319.6 869.1 L321.1 867.4 L322.6 865.8 L324.1 864.2 L325.6 862.7 L327.1 861.2 L328.6 859.8 L330.1 858.5 L331.6 857.1 L333.1 855.9 L334.6 854.6 L336.1 853.4 L337.6 852.2 L339.1 851.0 L340.6 849.9 L342.1 848.8 L343.6 847.7 L345.1 846.7 L346.6 845.7 L348.1 844.8 L349.6 843.9 L351.1 843.1 L352.6 842.4 L354.1 841.7 L355.6 841.1 L357.1 840.6 L358.6 840.2 L360.1 839.8 L361.6 839.5 L363.1 839.3 L364.6 839.2 L366.1 839.1 L367.6 839.1 L369.1 839.2 L370.6 839.4 L372.1 839.6 L373.6 839.9 L375.1 840.2 L376.6 840.6 L378.1 841.1 L379.6 841.6 L381.1 842.2 L382.6 842.9 L384.1 843.6 L385.6 844.3 L387.1 845.1 L388.6 846.0 L390.1 846.9 L391.6 847.8 L393.1 848.8 L394.6 849.8 L396.1 850.9 L397.6 852.0 L399.1 853.1 L400.6 854.3 L402.1 855.5 L403.6 856.7 L405.1 857.9 L406.6 859.2 L408.1 860.4 L409.6 861.7 L411.1 863.0 L412.6 864.3 L414.1 865.6 L415.6 867.0 L417.1 868.3 L418.6 869.6 L420.1 870.9 L421.6 872.2 L423.1 873.5 L424.6 874.8 L426.1 876.1 L427.6 877.4 L429.1 878.6 L430.6 879.9 L432.1 881.1 L433.6 882.3 L435.1 883.4 L436.6 884.5 L438.1 885.6 L439.6 886.7 L441.1 887.7 L442.6 888.7 L444.1 889.6 L445.6 890.5 L447.1 891.3 L448.6 892.1 L450.1 892.9 L451.6 893.6 L453.1 894.3 L454.6 894.9 L456.1 895.5 L457.6 896.1 L459.1 896.6 L460.6 897.1 L462.1 897.5 L463.6 898.0 L465.1 898.4 L466.6 898.7 L468.1 899.1 L469.6 899.4 L471.1 899.7 L472.6 900.0 L474.1 900.2 L475.6 900.5 L477.1 900.7 L478.6 900.9 L480.1 901.1 L481.6 901.3 L483.1 901.5 L484.6 901.6 L486.1 901.8 L487.6 902.0 L489.1 902.1 L490.6 902.3 L492.1 902.4 L493.6 902.6 L495.1 902.7 L496.6 902.9 L498.1 903.0 L499.6 903.2 L501.1 903.4 L502.6 903.6 L504.1 903.7 L505.6 903.9 L507.1 904.1 L508.6 904.3 L510.1 904.5 L511.6 904.8 L513.1 905.0 L514.6 905.2 L516.1 905.4 L517.6 905.7 L519.1 905.9 L520.6 906.1 L522.1 906.4 L523.6 906.6 L525.1 906.9 L526.6 907.2 L528.1 907.4 L529.6 907.7 L531.1 908.0 L532.6 908.2 L534.1 908.5 L535.6 908.8 L537.1 909.1 L538.6 909.4 L540.1 909.7 L541.6 910.0 L543.1 910.3 L544.6 910.6 L546.1 910.9 L547.6 911.2 L549.1 911.5 L550.6 911.8 L552.1 912.2 L553.6 912.5 L555.1 912.9 L556.6 913.2 L558.1 913.6 L559.6 913.9 L561.1 914.3 L562.6 914.7 L564.1 915.0 L565.6 915.4 L567.1 915.8 L568.6 916.2 L570.1 916.7 L571.6 917.1 L573.1 917.5 L574.6 918.0 L576.1 918.4 L577.6 918.9 L579.1 919.4 L580.6 919.8 L582.1 920.3 L583.6 920.8 L585.1 921.3 L586.6 921.9 L588.1 922.4 L589.6 923.0 L591.1 923.5 L592.6 924.1 L594.1 924.7 L595.6 925.3 L597.1 925.9 L598.6 926.5 L600.1 927.2 L601.6 927.8 L603.1 928.5 L604.6 929.1 L606.1 929.8 L607.6 930.5 L609.1 931.2 L610.6 931.9 L612.1 932.7 L613.6 933.4 L615.1 934.2 L616.6 934.9 L618.1 935.7 L619.6 936.5 L621.1 937.3 L622.6 938.1 L624.1 938.9 L625.6 939.7 L627.1 940.5 L628.6 941.3 L630.1 942.2 L631.6 943.0 L633.1 943.9 L634.6 944.7 L636.1 945.6 L637.6 946.5 L639.1 947.4 L640.6 948.3 L642.1 949.2 L643.6 950.1 L645.1 951.0 L646.6 951.9 L648.1 952.8 L649.6 953.7 L651.1 954.6 L652.6 955.5 L654.1 956.4 L655.6 957.3 L657.1 958.2 L658.6 959.1 L660.1 960.0 L661.6 960.9 L663.1 961.8 L664.6 962.6 L666.1 963.5 L667.6 964.3 L669.1 965.1 L670.6 966.0 L672.1 966.8 L673.6 967.5 L675.1 968.3 L676.6 969.0 L678.1 969.8 L679.6 970.5 L681.1 971.2 L682.6 971.8 L684.1 972.5 L685.6 973.1 L687.1 973.7 L688.6 974.3 L690.1 974.8 L691.6 975.3 L693.1 975.8 L694.6 976.2 L696.1 976.7 L697.6 977.0 L699.1 977.4 L700.6 977.8 L702.1 978.1 L703.6 978.4 L705.1 978.7 L706.6 978.9 L708.1 979.1 L709.6 979.4 L711.1 979.6 L712.6 979.7 L714.1 979.9 L715.6 980.1 L717.1 980.2 L718.6 980.3 L720.1 980.5 L721.6 980.6 L723.1 980.7 L724.6 980.8 L726.1 980.9 L727.6 981.0 L729.1 981.0 L730.6 981.1 L732.1 981.2 L733.6 981.3 L735.1 981.4 L736.6 981.5 L738.1 981.6 L739.6 981.6 L741.1 981.7 L742.6 981.8 L744.1 981.9 L745.6 982.1 L747.1 982.2 L748.6 982.3 L750.1 982.4 L751.6 982.5 L753.1 982.6 L754.6 982.8 L756.1 982.9 L757.6 983.0 L759.1 983.1 L760.6 983.3 L762.1 983.4 L763.6 983.5 L765.1 983.7 L766.6 983.8 L768.1 984.0 L769.6 984.1 L771.1 984.2 L772.6 984.4 L774.1 984.5 L775.6 984.6 L777.1 984.8 L778.6 984.9 L780.1 985.0 L781.6 985.2 L783.1 985.3 L784.6 985.4 L786.1 985.6 L787.6 985.7 L789.1 985.8 L790.6 985.9 L792.1 986.1 L793.6 986.2 L795.1 986.3 L796.6 986.4 L798.1 986.5 L799.6 986.6 L801.1 986.7 L802.6 986.8 L804.1 986.9 L805.6 987.0 L807.1 987.1 L808.6 987.1 L810.1 987.2 L811.6 987.3 L813.1 987.4 L814.6 987.4 L816.1 987.5 L817.6 987.5 L819.1 987.6 L820.6 987.6 L822.1 987.6 L823.6 987.7 L825.1 987.7 L826.6 987.7 L828.1 987.7 L829.6 987.7 L831.1 987.7" stroke="#23963f" stroke-dasharray="9.6 4.2"/>
</g>
<g stroke="#303030" stroke-width="1.5" fill="none">
<rect x="115.60" y="634.92" width="716.40" height="390.65"/>
<path d="M115.60 1025.57H110.80"/>
<path d="M115.60 969.35H110.80"/>
<path d="M115.60 913.13H110.80"/>
<path d="M115.60 856.90H110.80"/>
<path d="M115.60 800.68H110.80"/>
<path d="M115.60 744.46H110.80"/>
<path d="M115.60 688.24H110.80"/>
<path d="M832.00 634.92H836.80"/>
<path d="M832.00 694.25H836.80"/>
<path d="M832.00 753.58H836.80"/>
<path d="M832.00 812.91H836.80"/>
<path d="M832.00 872.24H836.80"/>
<path d="M832.00 931.57H836.80"/>
<path d="M832.00 990.90H836.80"/>
<path d="M253.70 1025.57V1030.37"/>
<path d="M404.60 1025.57V1030.37"/>
<path d="M555.20 1025.57V1030.37"/>
<path d="M706.00 1025.57V1030.37"/>
</g>
<text x="106.7" y="1033.5" font-size="23.15" text-anchor="end" font-weight="normal" >0</text>
<text x="106.7" y="977.2" font-size="23.15" text-anchor="end" font-weight="normal" >2000</text>
<text x="106.7" y="921.0" font-size="23.15" text-anchor="end" font-weight="normal" >4000</text>
<text x="106.7" y="864.8" font-size="23.15" text-anchor="end" font-weight="normal" >6000</text>
<text x="106.7" y="808.6" font-size="23.15" text-anchor="end" font-weight="normal" >8000</text>
<text x="106.7" y="752.4" font-size="23.15" text-anchor="end" font-weight="normal" >10<tspan dx="3.6">000</tspan></text>
<text x="106.7" y="696.1" font-size="23.15" text-anchor="end" font-weight="normal" >12<tspan dx="3.6">000</tspan></text>
<text x="840.7" y="643.2" font-size="23.15" text-anchor="start" font-weight="normal" >0</text>
<text x="840.7" y="702.5" font-size="23.15" text-anchor="start" font-weight="normal" >20</text>
<text x="840.7" y="761.9" font-size="23.15" text-anchor="start" font-weight="normal" >40</text>
<text x="840.7" y="821.2" font-size="23.15" text-anchor="start" font-weight="normal" >60</text>
<text x="840.7" y="880.5" font-size="23.15" text-anchor="start" font-weight="normal" >80</text>
<text x="840.7" y="939.9" font-size="23.15" text-anchor="start" font-weight="normal" >100</text>
<text x="840.7" y="999.2" font-size="23.15" text-anchor="start" font-weight="normal" >120</text>
<text transform="translate(250.7 1048.0) rotate(-31)" font-size="23.15" text-anchor="end">2020-07-17</text>
<text transform="translate(401.6 1048.0) rotate(-31)" font-size="23.15" text-anchor="end">2020-07-18</text>
<text transform="translate(552.2 1048.0) rotate(-31)" font-size="23.15" text-anchor="end">2020-07-19</text>
<text transform="translate(703.0 1048.0) rotate(-31)" font-size="23.15" text-anchor="end">2020-07-20</text>
<text transform="translate(38.0 830.0) rotate(-90)" font-size="23.15" text-anchor="middle">Flow discharge (m³/s)</text>
<text transform="translate(897.0 830.0) rotate(-90)" font-size="23.15" text-anchor="middle">Rainfall (mm)</text>
<text x="473.8" y="1129.0" font-size="23.15" text-anchor="middle" font-weight="normal" >Date</text>
<text x="457.3" y="1199.1" font-size="44.50" text-anchor="middle" font-weight="bold" fill="#000">(c) 20200717</text>
<path d="M568.5 664.0H615.2" stroke="#000000" stroke-width="2.60" fill="none" stroke-linecap="square"/>
<text x="633.9" y="672.5" font-size="23.15" text-anchor="start" font-weight="normal" >Observation</text>
<path d="M568.5 697.0H615.2" stroke="#d71a26" stroke-width="2.60" fill="none" stroke-dasharray="9.6 4.2"/>
<text x="633.9" y="705.5" font-size="23.15" text-anchor="start" font-weight="normal" >EDL model</text>
<path d="M568.5 729.9H615.2" stroke="#9684d2" stroke-width="2.60" fill="none" stroke-dasharray="9.6 4.2"/>
<text x="633.9" y="738.4" font-size="23.15" text-anchor="start" font-weight="normal" >XAJ model</text>
<path d="M568.5 763.0H615.2" stroke="#efa93c" stroke-width="2.60" fill="none" stroke-dasharray="9.6 4.2"/>
<text x="633.9" y="771.5" font-size="23.15" text-anchor="start" font-weight="normal" >LSTM model</text>
<path d="M568.5 796.0H615.2" stroke="#23963f" stroke-width="2.60" fill="none" stroke-dasharray="9.6 4.2"/>
<text x="633.9" y="804.5" font-size="23.15" text-anchor="start" font-weight="normal" >XAJ-LSTM model</text>
<rect x="568.5" y="821.1" width="46.7" height="16.0" fill="#6cc0e6"/>
<text x="633.9" y="837.4" font-size="23.15" text-anchor="start" font-weight="normal" >Rainfall</text>
<clipPath id="cpd"><rect x="1072.8" y="634.9" width="728.2" height="390.7"/></clipPath>
<g clip-path="url(#cpd)" fill="#6cc0e6">
<rect x="1137.65" y="634.88" width="32.20" height="37.87"/>
<rect x="1218.50" y="634.88" width="32.20" height="88.37"/>
<rect x="1299.30" y="634.88" width="32.20" height="129.87"/>
<rect x="1380.30" y="634.88" width="32.20" height="38.87"/>
<rect x="1461.30" y="634.88" width="32.20" height="0.82"/>
<rect x="1623.10" y="634.88" width="32.20" height="0.82"/>
</g>
<g clip-path="url(#cpd)" fill="none" stroke-width="2.60" stroke-linejoin="round">
<path d="M1072.8 1004.9 L1074.3 1005.2 L1075.8 1005.5 L1077.3 1005.8 L1078.8 1006.1 L1080.3 1006.3 L1081.8 1006.5 L1083.3 1006.7 L1084.8 1006.8 L1086.3 1007.0 L1087.8 1007.1 L1089.3 1007.1 L1090.8 1007.2 L1092.3 1007.2 L1093.8 1007.2 L1095.3 1007.1 L1096.8 1007.1 L1098.3 1007.0 L1099.8 1006.8 L1101.3 1006.7 L1102.8 1006.5 L1104.3 1006.3 L1105.8 1006.1 L1107.3 1005.8 L1108.8 1005.5 L1110.3 1005.2 L1111.8 1004.9 L1113.3 1004.6 L1114.8 1004.2 L1116.3 1003.8 L1117.8 1003.3 L1119.3 1002.9 L1120.8 1002.4 L1122.3 1001.9 L1123.8 1001.4 L1125.3 1000.8 L1126.8 1000.3 L1128.3 999.7 L1129.8 999.0 L1131.3 998.4 L1132.8 997.7 L1134.3 997.0 L1135.8 996.3 L1137.3 995.6 L1138.8 994.8 L1140.3 994.1 L1141.8 993.3 L1143.3 992.4 L1144.8 991.6 L1146.3 990.7 L1147.8 989.9 L1149.3 988.9 L1150.8 988.0 L1152.3 987.1 L1153.8 986.1 L1155.3 985.1 L1156.8 984.1 L1158.3 983.1 L1159.8 982.0 L1161.3 980.9 L1162.8 979.8 L1164.3 978.7 L1165.8 977.5 L1167.3 976.3 L1168.8 975.1 L1170.3 973.9 L1171.8 972.6 L1173.3 971.3 L1174.8 970.0 L1176.3 968.6 L1177.8 967.3 L1179.3 965.8 L1180.8 964.4 L1182.3 962.9 L1183.8 961.4 L1185.3 959.8 L1186.8 958.2 L1188.3 956.6 L1189.8 955.0 L1191.3 953.3 L1192.8 951.5 L1194.3 949.8 L1195.8 948.0 L1197.3 946.1 L1198.8 944.2 L1200.3 942.3 L1201.8 940.4 L1203.3 938.4 L1204.8 936.4 L1206.3 934.3 L1207.8 932.3 L1209.3 930.2 L1210.8 928.0 L1212.3 925.8 L1213.8 923.7 L1215.3 921.4 L1216.8 919.2 L1218.3 916.9 L1219.8 914.6 L1221.3 912.3 L1222.8 909.9 L1224.3 907.5 L1225.8 905.1 L1227.3 902.7 L1228.8 900.2 L1230.3 897.8 L1231.8 895.3 L1233.3 892.8 L1234.8 890.2 L1236.3 887.7 L1237.8 885.1 L1239.3 882.5 L1240.8 879.9 L1242.3 877.3 L1243.8 874.7 L1245.3 872.1 L1246.8 869.5 L1248.3 866.8 L1249.8 864.2 L1251.3 861.6 L1252.8 859.0 L1254.3 856.4 L1255.8 853.8 L1257.3 851.2 L1258.8 848.6 L1260.3 846.0 L1261.8 843.5 L1263.3 841.0 L1264.8 838.5 L1266.3 836.0 L1267.8 833.6 L1269.3 831.2 L1270.8 828.8 L1272.3 826.4 L1273.8 824.1 L1275.3 821.9 L1276.8 819.6 L1278.3 817.5 L1279.8 815.3 L1281.3 813.2 L1282.8 811.2 L1284.3 809.2 L1285.8 807.3 L1287.3 805.4 L1288.8 803.6 L1290.3 801.8 L1291.8 800.2 L1293.3 798.5 L1294.8 797.0 L1296.3 795.5 L1297.8 794.1 L1299.3 792.8 L1300.8 791.5 L1302.3 790.3 L1303.8 789.2 L1305.3 788.2 L1306.8 787.3 L1308.3 786.5 L1309.8 785.7 L1311.3 785.1 L1312.8 784.5 L1314.3 784.1 L1315.8 783.7 L1317.3 783.5 L1318.8 783.3 L1320.3 783.3 L1321.8 783.4 L1323.3 783.5 L1324.8 783.8 L1326.3 784.2 L1327.8 784.7 L1329.3 785.2 L1330.8 785.9 L1332.3 786.6 L1333.8 787.5 L1335.3 788.4 L1336.8 789.4 L1338.3 790.4 L1339.8 791.5 L1341.3 792.8 L1342.8 794.0 L1344.3 795.4 L1345.8 796.7 L1347.3 798.2 L1348.8 799.7 L1350.3 801.3 L1351.8 802.9 L1353.3 804.5 L1354.8 806.2 L1356.3 807.9 L1357.8 809.7 L1359.3 811.5 L1360.8 813.3 L1362.3 815.2 L1363.8 817.1 L1365.3 819.0 L1366.8 820.9 L1368.3 822.9 L1369.8 824.8 L1371.3 826.8 L1372.8 828.7 L1374.3 830.7 L1375.8 832.7 L1377.3 834.7 L1378.8 836.6 L1380.3 838.6 L1381.8 840.5 L1383.3 842.5 L1384.8 844.4 L1386.3 846.3 L1387.8 848.1 L1389.3 850.0 L1390.8 851.8 L1392.3 853.6 L1393.8 855.3 L1395.3 857.0 L1396.8 858.7 L1398.3 860.3 L1399.8 861.9 L1401.3 863.4 L1402.8 864.9 L1404.3 866.3 L1405.8 867.7 L1407.3 869.0 L1408.8 870.3 L1410.3 871.6 L1411.8 872.8 L1413.3 874.0 L1414.8 875.1 L1416.3 876.2 L1417.8 877.3 L1419.3 878.4 L1420.8 879.4 L1422.3 880.4 L1423.8 881.3 L1425.3 882.3 L1426.8 883.2 L1428.3 884.1 L1429.8 885.0 L1431.3 885.9 L1432.8 886.7 L1434.3 887.6 L1435.8 888.4 L1437.3 889.2 L1438.8 890.1 L1440.3 890.9 L1441.8 891.7 L1443.3 892.5 L1444.8 893.3 L1446.3 894.1 L1447.8 894.9 L1449.3 895.7 L1450.8 896.5 L1452.3 897.4 L1453.8 898.2 L1455.3 899.0 L1456.8 899.8 L1458.3 900.7 L1459.8 901.5 L1461.3 902.3 L1462.8 903.2 L1464.3 904.1 L1465.8 904.9 L1467.3 905.8 L1468.8 906.7 L1470.3 907.6 L1471.8 908.5 L1473.3 909.5 L1474.8 910.4 L1476.3 911.4 L1477.8 912.4 L1479.3 913.3 L1480.8 914.4 L1482.3 915.4 L1483.8 916.4 L1485.3 917.5 L1486.8 918.6 L1488.3 919.7 L1489.8 920.8 L1491.3 921.9 L1492.8 923.1 L1494.3 924.2 L1495.8 925.3 L1497.3 926.5 L1498.8 927.6 L1500.3 928.8 L1501.8 929.9 L1503.3 931.1 L1504.8 932.2 L1506.3 933.4 L1507.8 934.5 L1509.3 935.6 L1510.8 936.8 L1512.3 937.9 L1513.8 938.9 L1515.3 940.0 L1516.8 941.1 L1518.3 942.1 L1519.8 943.1 L1521.3 944.1 L1522.8 945.1 L1524.3 946.1 L1525.8 947.0 L1527.3 947.9 L1528.8 948.8 L1530.3 949.6 L1531.8 950.4 L1533.3 951.2 L1534.8 952.0 L1536.3 952.8 L1537.8 953.5 L1539.3 954.2 L1540.8 954.8 L1542.3 955.5 L1543.8 956.1 L1545.3 956.7 L1546.8 957.3 L1548.3 957.8 L1549.8 958.3 L1551.3 958.8 L1552.8 959.3 L1554.3 959.7 L1555.8 960.1 L1557.3 960.5 L1558.8 960.9 L1560.3 961.2 L1561.8 961.5 L1563.3 961.8 L1564.8 962.1 L1566.3 962.3 L1567.8 962.5 L1569.3 962.7 L1570.8 962.8 L1572.3 963.0 L1573.8 963.1 L1575.3 963.2 L1576.8 963.2 L1578.3 963.2 L1579.8 963.2 L1581.3 963.2 L1582.8 963.2 L1584.3 963.1 L1585.8 963.0 L1587.3 962.9 L1588.8 962.7 L1590.3 962.6 L1591.8 962.4 L1593.3 962.2 L1594.8 961.9 L1596.3 961.7 L1597.8 961.4 L1599.3 961.2 L1600.8 960.9 L1602.3 960.6 L1603.8 960.3 L1605.3 960.0 L1606.8 959.7 L1608.3 959.4 L1609.8 959.1 L1611.3 958.7 L1612.8 958.4 L1614.3 958.1 L1615.8 957.8 L1617.3 957.5 L1618.8 957.2 L1620.3 956.9 L1621.8 956.6 L1623.3 956.3 L1624.8 956.1 L1626.3 955.8 L1627.8 955.6 L1629.3 955.4 L1630.8 955.2 L1632.3 955.0 L1633.8 954.8 L1635.3 954.7 L1636.8 954.6 L1638.3 954.5 L1639.8 954.4 L1641.3 954.4 L1642.8 954.4 L1644.3 954.4 L1645.8 954.4 L1647.3 954.5 L1648.8 954.6 L1650.3 954.7 L1651.8 954.8 L1653.3 954.9 L1654.8 955.1 L1656.3 955.3 L1657.8 955.5 L1659.3 955.8 L1660.8 956.0 L1662.3 956.3 L1663.8 956.6 L1665.3 956.9 L1666.8 957.2 L1668.3 957.5 L1669.8 957.8 L1671.3 958.2 L1672.8 958.6 L1674.3 959.0 L1675.8 959.4 L1677.3 959.8 L1678.8 960.2 L1680.3 960.6 L1681.8 961.1 L1683.3 961.5 L1684.8 962.0 L1686.3 962.4 L1687.8 962.9 L1689.3 963.4 L1690.8 963.9 L1692.3 964.4 L1693.8 964.8 L1695.3 965.3 L1696.8 965.8 L1698.3 966.3 L1699.8 966.9 L1701.3 967.4 L1702.8 967.9 L1704.3 968.4 L1705.8 968.9 L1707.3 969.4 L1708.8 969.9 L1710.3 970.4 L1711.8 970.9 L1713.3 971.4 L1714.8 972.0 L1716.3 972.5 L1717.8 973.0 L1719.3 973.5 L1720.8 973.9 L1722.3 974.4 L1723.8 974.9 L1725.3 975.4 L1726.8 975.9 L1728.3 976.3 L1729.8 976.8 L1731.3 977.3 L1732.8 977.7 L1734.3 978.1 L1735.8 978.6 L1737.3 979.0 L1738.8 979.4 L1740.3 979.8 L1741.8 980.2 L1743.3 980.6 L1744.8 980.9 L1746.3 981.3 L1747.8 981.6 L1749.3 982.0 L1750.8 982.3 L1752.3 982.6 L1753.8 982.9 L1755.3 983.2 L1756.8 983.4 L1758.3 983.7 L1759.8 983.9 L1761.3 984.1 L1762.8 984.3 L1764.3 984.5 L1765.8 984.7 L1767.3 984.8 L1768.8 985.0 L1770.3 985.1 L1771.8 985.2 L1773.3 985.2 L1774.8 985.3 L1776.3 985.3 L1777.8 985.3 L1779.3 985.3 L1780.8 985.3 L1782.3 985.2 L1783.8 985.1 L1785.3 985.0 L1786.8 984.9 L1788.3 984.8 L1789.8 984.6 L1791.3 984.4 L1792.8 984.1 L1794.3 983.9 L1795.8 983.6 L1797.3 983.3 L1798.8 983.0 L1800.3 982.6" stroke="#000000"/>
<path d="M1072.8 1000.0 L1074.3 999.9 L1075.8 999.8 L1077.3 999.7 L1078.8 999.5 L1080.3 999.4 L1081.8 999.3 L1083.3 999.2 L1084.8 999.1 L1086.3 999.0 L1087.8 998.9 L1089.3 998.8 L1090.8 998.7 L1092.3 998.6 L1093.8 998.5 L1095.3 998.4 L1096.8 998.3 L1098.3 998.3 L1099.8 998.2 L1101.3 998.1 L1102.8 998.0 L1104.3 997.9 L1105.8 997.9 L1107.3 997.8 L1108.8 997.7 L1110.3 997.6 L1111.8 997.5 L1113.3 997.5 L1114.8 997.4 L1116.3 997.3 L1117.8 997.2 L1119.3 997.1 L1120.8 997.0 L1122.3 996.9 L1123.8 996.8 L1125.3 996.7 L1126.8 996.6 L1128.3 996.5 L1129.8 996.4 L1131.3 996.3 L1132.8 996.1 L1134.3 996.0 L1135.8 995.9 L1137.3 995.7 L1138.8 995.6 L1140.3 995.4 L1141.8 995.3 L1143.3 995.1 L1144.8 994.9 L1146.3 994.7 L1147.8 994.5 L1149.3 994.3 L1150.8 994.1 L1152.3 993.9 L1153.8 993.7 L1155.3 993.4 L1156.8 993.2 L1158.3 992.9 L1159.8 992.7 L1161.3 992.4 L1162.8 992.1 L1164.3 991.8 L1165.8 991.5 L1167.3 991.2 L1168.8 990.8 L1170.3 990.5 L1171.8 990.1 L1173.3 989.7 L1174.8 989.4 L1176.3 989.0 L1177.8 988.5 L1179.3 988.1 L1180.8 987.7 L1182.3 987.2 L1183.8 986.7 L1185.3 986.2 L1186.8 985.7 L1188.3 985.2 L1189.8 984.7 L1191.3 984.1 L1192.8 983.6 L1194.3 983.0 L1195.8 982.4 L1197.3 981.8 L1198.8 981.1 L1200.3 980.5 L1201.8 979.8 L1203.3 979.1 L1204.8 978.4 L1206.3 977.6 L1207.8 976.9 L1209.3 976.1 L1210.8 975.3 L1212.3 974.5 L1213.8 973.7 L1215.3 972.8 L1216.8 971.9 L1218.3 971.0 L1219.8 970.1 L1221.3 969.2 L1222.8 968.2 L1224.3 967.2 L1225.8 966.2 L1227.3 965.2 L1228.8 964.1 L1230.3 963.0 L1231.8 961.9 L1233.3 960.8 L1234.8 959.6 L1236.3 958.5 L1237.8 957.3 L1239.3 956.0 L1240.8 954.8 L1242.3 953.5 L1243.8 952.2 L1245.3 950.8 L1246.8 949.4 L1248.3 948.0 L1249.8 946.6 L1251.3 945.1 L1252.8 943.6 L1254.3 942.1 L1255.8 940.6 L1257.3 939.0 L1258.8 937.3 L1260.3 935.7 L1261.8 934.0 L1263.3 932.3 L1264.8 930.5 L1266.3 928.7 L1267.8 926.9 L1269.3 925.1 L1270.8 923.2 L1272.3 921.2 L1273.8 919.3 L1275.3 917.2 L1276.8 915.2 L1278.3 913.2 L1279.8 911.1 L1281.3 909.0 L1282.8 906.9 L1284.3 904.7 L1285.8 902.6 L1287.3 900.5 L1288.8 898.3 L1290.3 896.2 L1291.8 894.0 L1293.3 891.9 L1294.8 889.8 L1296.3 887.7 L1297.8 885.6 L1299.3 883.5 L1300.8 881.4 L1302.3 879.3 L1303.8 877.2 L1305.3 875.2 L1306.8 873.1 L1308.3 871.1 L1309.8 869.1 L1311.3 867.1 L1312.8 865.1 L1314.3 863.1 L1315.8 861.1 L1317.3 859.2 L1318.8 857.3 L1320.3 855.4 L1321.8 853.5 L1323.3 851.6 L1324.8 849.8 L1326.3 848.0 L1327.8 846.2 L1329.3 844.4 L1330.8 842.7 L1332.3 841.0 L1333.8 839.3 L1335.3 837.6 L1336.8 836.0 L1338.3 834.4 L1339.8 832.8 L1341.3 831.3 L1342.8 829.8 L1344.3 828.3 L1345.8 826.8 L1347.3 825.4 L1348.8 824.1 L1350.3 822.7 L1351.8 821.4 L1353.3 820.2 L1354.8 818.9 L1356.3 817.8 L1357.8 816.6 L1359.3 815.5 L1360.8 814.5 L1362.3 813.4 L1363.8 812.5 L1365.3 811.6 L1366.8 810.7 L1368.3 809.8 L1369.8 809.1 L1371.3 808.3 L1372.8 807.6 L1374.3 807.0 L1375.8 806.4 L1377.3 805.9 L1378.8 805.4 L1380.3 805.0 L1381.8 804.6 L1383.3 804.3 L1384.8 804.0 L1386.3 803.8 L1387.8 803.6 L1389.3 803.6 L1390.8 803.5 L1392.3 803.5 L1393.8 803.6 L1395.3 803.8 L1396.8 804.0 L1398.3 804.2 L1399.8 804.5 L1401.3 804.9 L1402.8 805.3 L1404.3 805.8 L1405.8 806.3 L1407.3 806.9 L1408.8 807.5 L1410.3 808.1 L1411.8 808.8 L1413.3 809.6 L1414.8 810.4 L1416.3 811.2 L1417.8 812.1 L1419.3 813.0 L1420.8 814.0 L1422.3 815.0 L1423.8 816.0 L1425.3 817.1 L1426.8 818.2 L1428.3 819.3 L1429.8 820.5 L1431.3 821.7 L1432.8 822.9 L1434.3 824.2 L1435.8 825.5 L1437.3 826.8 L1438.8 828.1 L1440.3 829.5 L1441.8 830.9 L1443.3 832.3 L1444.8 833.8 L1446.3 835.2 L1447.8 836.7 L1449.3 838.2 L1450.8 839.7 L1452.3 841.3 L1453.8 842.8 L1455.3 844.4 L1456.8 846.0 L1458.3 847.6 L1459.8 849.2 L1461.3 850.8 L1462.8 852.4 L1464.3 854.1 L1465.8 855.7 L1467.3 857.4 L1468.8 859.0 L1470.3 860.7 L1471.8 862.3 L1473.3 864.0 L1474.8 865.7 L1476.3 867.3 L1477.8 869.0 L1479.3 870.7 L1480.8 872.3 L1482.3 874.0 L1483.8 875.6 L1485.3 877.3 L1486.8 879.0 L1488.3 880.6 L1489.8 882.3 L1491.3 883.9 L1492.8 885.5 L1494.3 887.2 L1495.8 888.8 L1497.3 890.4 L1498.8 892.0 L1500.3 893.6 L1501.8 895.2 L1503.3 896.8 L1504.8 898.3 L1506.3 899.9 L1507.8 901.4 L1509.3 903.0 L1510.8 904.5 L1512.3 906.0 L1513.8 907.5 L1515.3 909.0 L1516.8 910.5 L1518.3 911.9 L1519.8 913.4 L1521.3 914.8 L1522.8 916.2 L1524.3 917.6 L1525.8 919.0 L1527.3 920.3 L1528.8 921.7 L1530.3 923.0 L1531.8 924.3 L1533.3 925.6 L1534.8 926.8 L1536.3 928.1 L1537.8 929.3 L1539.3 930.5 L1540.8 931.7 L1542.3 932.8 L1543.8 933.9 L1545.3 935.1 L1546.8 936.1 L1548.3 937.2 L1549.8 938.2 L1551.3 939.3 L1552.8 940.3 L1554.3 941.2 L1555.8 942.2 L1557.3 943.1 L1558.8 944.1 L1560.3 945.0 L1561.8 945.8 L1563.3 946.7 L1564.8 947.5 L1566.3 948.4 L1567.8 949.2 L1569.3 950.0 L1570.8 950.7 L1572.3 951.5 L1573.8 952.2 L1575.3 952.9 L1576.8 953.6 L1578.3 954.3 L1579.8 955.0 L1581.3 955.6 L1582.8 956.2 L1584.3 956.9 L1585.8 957.5 L1587.3 958.0 L1588.8 958.6 L1590.3 959.2 L1591.8 959.7 L1593.3 960.2 L1594.8 960.7 L1596.3 961.2 L1597.8 961.7 L1599.3 962.2 L1600.8 962.6 L1602.3 963.1 L1603.8 963.5 L1605.3 963.9 L1606.8 964.3 L1608.3 964.7 L1609.8 965.1 L1611.3 965.4 L1612.8 965.8 L1614.3 966.1 L1615.8 966.4 L1617.3 966.8 L1618.8 967.1 L1620.3 967.4 L1621.8 967.6 L1623.3 967.9 L1624.8 968.2 L1626.3 968.4 L1627.8 968.7 L1629.3 968.9 L1630.8 969.2 L1632.3 969.4 L1633.8 969.6 L1635.3 969.8 L1636.8 970.0 L1638.3 970.2 L1639.8 970.3 L1641.3 970.5 L1642.8 970.7 L1644.3 970.8 L1645.8 971.0 L1647.3 971.1 L1648.8 971.2 L1650.3 971.4 L1651.8 971.5 L1653.3 971.6 L1654.8 971.7 L1656.3 971.8 L1657.8 971.9 L1659.3 972.0 L1660.8 972.1 L1662.3 972.2 L1663.8 972.3 L1665.3 972.4 L1666.8 972.4 L1668.3 972.5 L1669.8 972.6 L1671.3 972.6 L1672.8 972.7 L1674.3 972.8 L1675.8 972.8 L1677.3 972.9 L1678.8 972.9 L1680.3 973.0 L1681.8 973.0 L1683.3 973.1 L1684.8 973.1 L1686.3 973.2 L1687.8 973.2 L1689.3 973.3 L1690.8 973.3 L1692.3 973.3 L1693.8 973.4 L1695.3 973.4 L1696.8 973.4 L1698.3 973.5 L1699.8 973.5 L1701.3 973.5 L1702.8 973.6 L1704.3 973.6 L1705.8 973.6 L1707.3 973.6 L1708.8 973.7 L1710.3 973.7 L1711.8 973.7 L1713.3 973.7 L1714.8 973.8 L1716.3 973.8 L1717.8 973.8 L1719.3 973.8 L1720.8 973.9 L1722.3 973.9 L1723.8 973.9 L1725.3 973.9 L1726.8 974.0 L1728.3 974.0 L1729.8 974.0 L1731.3 974.0 L1732.8 974.0 L1734.3 974.1 L1735.8 974.1 L1737.3 974.1 L1738.8 974.2 L1740.3 974.2 L1741.8 974.2 L1743.3 974.2 L1744.8 974.3 L1746.3 974.3 L1747.8 974.3 L1749.3 974.4 L1750.8 974.4 L1752.3 974.4 L1753.8 974.5 L1755.3 974.5 L1756.8 974.6 L1758.3 974.6 L1759.8 974.6 L1761.3 974.7 L1762.8 974.7 L1764.3 974.8 L1765.8 974.8 L1767.3 974.9 L1768.8 974.9 L1770.3 975.0 L1771.8 975.1 L1773.3 975.1 L1774.8 975.2 L1776.3 975.3 L1777.8 975.3 L1779.3 975.4 L1780.8 975.5 L1782.3 975.6 L1783.8 975.6 L1785.3 975.7 L1786.8 975.8 L1788.3 975.9 L1789.8 976.0 L1791.3 976.1 L1792.8 976.2 L1794.3 976.3 L1795.8 976.4 L1797.3 976.5 L1798.8 976.6 L1800.3 976.7" stroke="#d71a26" stroke-dasharray="9.6 4.2"/>
<path d="M1072.8 979.6 L1074.3 979.2 L1075.8 978.8 L1077.3 978.5 L1078.8 978.2 L1080.3 977.9 L1081.8 977.6 L1083.3 977.3 L1084.8 977.1 L1086.3 976.9 L1087.8 976.7 L1089.3 976.6 L1090.8 976.4 L1092.3 976.3 L1093.8 976.2 L1095.3 976.1 L1096.8 976.0 L1098.3 976.0 L1099.8 975.9 L1101.3 975.9 L1102.8 975.9 L1104.3 975.9 L1105.8 975.9 L1107.3 975.9 L1108.8 975.9 L1110.3 976.0 L1111.8 976.0 L1113.3 976.1 L1114.8 976.2 L1116.3 976.2 L1117.8 976.3 L1119.3 976.4 L1120.8 976.5 L1122.3 976.6 L1123.8 976.7 L1125.3 976.7 L1126.8 976.8 L1128.3 976.9 L1129.8 977.0 L1131.3 977.1 L1132.8 977.2 L1134.3 977.3 L1135.8 977.4 L1137.3 977.5 L1138.8 977.5 L1140.3 977.6 L1141.8 977.7 L1143.3 977.7 L1144.8 977.8 L1146.3 977.8 L1147.8 977.8 L1149.3 977.8 L1150.8 977.8 L1152.3 977.8 L1153.8 977.8 L1155.3 977.7 L1156.8 977.7 L1158.3 977.6 L1159.8 977.5 L1161.3 977.4 L1162.8 977.3 L1164.3 977.2 L1165.8 977.0 L1167.3 976.8 L1168.8 976.6 L1170.3 976.4 L1171.8 976.2 L1173.3 975.9 L1174.8 975.6 L1176.3 975.3 L1177.8 975.0 L1179.3 974.7 L1180.8 974.3 L1182.3 973.9 L1183.8 973.5 L1185.3 973.1 L1186.8 972.6 L1188.3 972.1 L1189.8 971.6 L1191.3 971.1 L1192.8 970.5 L1194.3 969.9 L1195.8 969.3 L1197.3 968.7 L1198.8 968.1 L1200.3 967.4 L1201.8 966.7 L1203.3 965.9 L1204.8 965.2 L1206.3 964.4 L1207.8 963.6 L1209.3 962.7 L1210.8 961.9 L1212.3 961.0 L1213.8 960.0 L1215.3 959.1 L1216.8 958.1 L1218.3 957.1 L1219.8 956.0 L1221.3 955.0 L1222.8 953.9 L1224.3 952.7 L1225.8 951.6 L1227.3 950.4 L1228.8 949.1 L1230.3 947.9 L1231.8 946.6 L1233.3 945.2 L1234.8 943.9 L1236.3 942.5 L1237.8 941.1 L1239.3 939.6 L1240.8 938.1 L1242.3 936.6 L1243.8 935.0 L1245.3 933.4 L1246.8 931.8 L1248.3 930.1 L1249.8 928.4 L1251.3 926.7 L1252.8 925.0 L1254.3 923.2 L1255.8 921.4 L1257.3 919.6 L1258.8 917.8 L1260.3 915.9 L1261.8 914.1 L1263.3 912.2 L1264.8 910.3 L1266.3 908.4 L1267.8 906.5 L1269.3 904.5 L1270.8 902.6 L1272.3 900.6 L1273.8 898.7 L1275.3 896.7 L1276.8 894.8 L1278.3 892.8 L1279.8 890.8 L1281.3 888.9 L1282.8 886.9 L1284.3 885.0 L1285.8 883.0 L1287.3 881.1 L1288.8 879.1 L1290.3 877.2 L1291.8 875.3 L1293.3 873.4 L1294.8 871.5 L1296.3 869.6 L1297.8 867.8 L1299.3 865.9 L1300.8 864.1 L1302.3 862.3 L1303.8 860.5 L1305.3 858.8 L1306.8 857.1 L1308.3 855.4 L1309.8 853.7 L1311.3 852.1 L1312.8 850.4 L1314.3 848.9 L1315.8 847.3 L1317.3 845.8 L1318.8 844.3 L1320.3 842.9 L1321.8 841.5 L1323.3 840.2 L1324.8 838.8 L1326.3 837.6 L1327.8 836.3 L1329.3 835.1 L1330.8 833.9 L1332.3 832.8 L1333.8 831.7 L1335.3 830.6 L1336.8 829.6 L1338.3 828.6 L1339.8 827.7 L1341.3 826.7 L1342.8 825.8 L1344.3 825.0 L1345.8 824.2 L1347.3 823.4 L1348.8 822.6 L1350.3 821.9 L1351.8 821.2 L1353.3 820.5 L1354.8 819.8 L1356.3 819.2 L1357.8 818.6 L1359.3 818.1 L1360.8 817.6 L1362.3 817.1 L1363.8 816.6 L1365.3 816.1 L1366.8 815.7 L1368.3 815.3 L1369.8 815.0 L1371.3 814.6 L1372.8 814.3 L1374.3 814.0 L1375.8 813.8 L1377.3 813.5 L1378.8 813.3 L1380.3 813.1 L1381.8 812.9 L1383.3 812.8 L1384.8 812.6 L1386.3 812.5 L1387.8 812.4 L1389.3 812.4 L1390.8 812.3 L1392.3 812.3 L1393.8 812.3 L1395.3 812.3 L1396.8 812.3 L1398.3 812.3 L1399.8 812.4 L1401.3 812.5 L1402.8 812.6 L1404.3 812.7 L1405.8 812.8 L1407.3 812.9 L1408.8 813.1 L1410.3 813.3 L1411.8 813.5 L1413.3 813.7 L1414.8 813.9 L1416.3 814.1 L1417.8 814.4 L1419.3 814.6 L1420.8 814.9 L1422.3 815.2 L1423.8 815.5 L1425.3 815.8 L1426.8 816.1 L1428.3 816.5 L1429.8 816.8 L1431.3 817.2 L1432.8 817.6 L1434.3 818.0 L1435.8 818.4 L1437.3 818.8 L1438.8 819.2 L1440.3 819.7 L1441.8 820.1 L1443.3 820.6 L1444.8 821.1 L1446.3 821.6 L1447.8 822.1 L1449.3 822.6 L1450.8 823.1 L1452.3 823.6 L1453.8 824.2 L1455.3 824.7 L1456.8 825.3 L1458.3 825.9 L1459.8 826.4 L1461.3 827.0 L1462.8 827.6 L1464.3 828.2 L1465.8 828.8 L1467.3 829.4 L1468.8 830.1 L1470.3 830.7 L1471.8 831.3 L1473.3 832.0 L1474.8 832.7 L1476.3 833.3 L1477.8 834.0 L1479.3 834.7 L1480.8 835.3 L1482.3 836.0 L1483.8 836.7 L1485.3 837.4 L1486.8 838.1 L1488.3 838.8 L1489.8 839.6 L1491.3 840.3 L1492.8 841.0 L1494.3 841.7 L1495.8 842.5 L1497.3 843.2 L1498.8 844.0 L1500.3 844.7 L1501.8 845.5 L1503.3 846.2 L1504.8 847.0 L1506.3 847.7 L1507.8 848.5 L1509.3 849.3 L1510.8 850.0 L1512.3 850.8 L1513.8 851.6 L1515.3 852.3 L1516.8 853.1 L1518.3 853.9 L1519.8 854.7 L1521.3 855.4 L1522.8 856.2 L1524.3 857.0 L1525.8 857.8 L1527.3 858.6 L1528.8 859.3 L1530.3 860.1 L1531.8 860.9 L1533.3 861.7 L1534.8 862.5 L1536.3 863.2 L1537.8 864.0 L1539.3 864.8 L1540.8 865.6 L1542.3 866.3 L1543.8 867.1 L1545.3 867.9 L1546.8 868.6 L1548.3 869.4 L1549.8 870.1 L1551.3 870.9 L1552.8 871.7 L1554.3 872.4 L1555.8 873.2 L1557.3 873.9 L1558.8 874.6 L1560.3 875.4 L1561.8 876.1 L1563.3 876.9 L1564.8 877.6 L1566.3 878.3 L1567.8 879.0 L1569.3 879.8 L1570.8 880.5 L1572.3 881.2 L1573.8 881.9 L1575.3 882.6 L1576.8 883.3 L1578.3 884.0 L1579.8 884.7 L1581.3 885.4 L1582.8 886.1 L1584.3 886.8 L1585.8 887.5 L1587.3 888.2 L1588.8 888.9 L1590.3 889.6 L1591.8 890.3 L1593.3 890.9 L1594.8 891.6 L1596.3 892.3 L1597.8 892.9 L1599.3 893.6 L1600.8 894.3 L1602.3 894.9 L1603.8 895.6 L1605.3 896.2 L1606.8 896.9 L1608.3 897.5 L1609.8 898.2 L1611.3 898.8 L1612.8 899.4 L1614.3 900.1 L1615.8 900.7 L1617.3 901.3 L1618.8 901.9 L1620.3 902.6 L1621.8 903.2 L1623.3 903.8 L1624.8 904.4 L1626.3 905.0 L1627.8 905.6 L1629.3 906.2 L1630.8 906.8 L1632.3 907.4 L1633.8 908.0 L1635.3 908.6 L1636.8 909.2 L1638.3 909.7 L1639.8 910.3 L1641.3 910.9 L1642.8 911.5 L1644.3 912.0 L1645.8 912.6 L1647.3 913.2 L1648.8 913.7 L1650.3 914.3 L1651.8 914.8 L1653.3 915.4 L1654.8 915.9 L1656.3 916.4 L1657.8 917.0 L1659.3 917.5 L1660.8 918.0 L1662.3 918.6 L1663.8 919.1 L1665.3 919.6 L1666.8 920.1 L1668.3 920.6 L1669.8 921.1 L1671.3 921.6 L1672.8 922.1 L1674.3 922.6 L1675.8 923.1 L1677.3 923.6 L1678.8 924.1 L1680.3 924.6 L1681.8 925.1 L1683.3 925.5 L1684.8 926.0 L1686.3 926.5 L1687.8 926.9 L1689.3 927.4 L1690.8 927.9 L1692.3 928.3 L1693.8 928.8 L1695.3 929.2 L1696.8 929.6 L1698.3 930.1 L1699.8 930.5 L1701.3 930.9 L1702.8 931.4 L1704.3 931.8 L1705.8 932.2 L1707.3 932.6 L1708.8 933.0 L1710.3 933.4 L1711.8 933.8 L1713.3 934.2 L1714.8 934.6 L1716.3 935.0 L1717.8 935.4 L1719.3 935.8 L1720.8 936.2 L1722.3 936.6 L1723.8 936.9 L1725.3 937.3 L1726.8 937.7 L1728.3 938.0 L1729.8 938.4 L1731.3 938.7 L1732.8 939.1 L1734.3 939.4 L1735.8 939.7 L1737.3 940.1 L1738.8 940.4 L1740.3 940.7 L1741.8 941.1 L1743.3 941.4 L1744.8 941.7 L1746.3 942.0 L1747.8 942.3 L1749.3 942.6 L1750.8 942.9 L1752.3 943.2 L1753.8 943.5 L1755.3 943.8 L1756.8 944.0 L1758.3 944.3 L1759.8 944.6 L1761.3 944.9 L1762.8 945.1 L1764.3 945.4 L1765.8 945.6 L1767.3 945.9 L1768.8 946.1 L1770.3 946.4 L1771.8 946.6 L1773.3 946.8 L1774.8 947.1 L1776.3 947.3 L1777.8 947.5 L1779.3 947.7 L1780.8 947.9 L1782.3 948.1 L1783.8 948.4 L1785.3 948.5 L1786.8 948.7 L1788.3 948.9 L1789.8 949.1 L1791.3 949.3 L1792.8 949.5 L1794.3 949.6 L1795.8 949.8 L1797.3 950.0 L1798.8 950.1 L1800.3 950.3" stroke="#9684d2" stroke-dasharray="9.6 4.2"/>
<path d="M1072.8 1001.3 L1074.3 1001.3 L1075.8 1001.4 L1077.3 1001.5 L1078.8 1001.5 L1080.3 1001.6 L1081.8 1001.7 L1083.3 1001.7 L1084.8 1001.8 L1086.3 1001.8 L1087.8 1001.8 L1089.3 1001.9 L1090.8 1001.9 L1092.3 1001.9 L1093.8 1001.9 L1095.3 1002.0 L1096.8 1002.0 L1098.3 1002.0 L1099.8 1002.0 L1101.3 1001.9 L1102.8 1001.9 L1104.3 1001.9 L1105.8 1001.9 L1107.3 1001.8 L1108.8 1001.8 L1110.3 1001.7 L1111.8 1001.6 L1113.3 1001.6 L1114.8 1001.5 L1116.3 1001.4 L1117.8 1001.3 L1119.3 1001.2 L1120.8 1001.1 L1122.3 1001.0 L1123.8 1000.8 L1125.3 1000.7 L1126.8 1000.5 L1128.3 1000.3 L1129.8 1000.2 L1131.3 1000.0 L1132.8 999.8 L1134.3 999.6 L1135.8 999.3 L1137.3 999.1 L1138.8 998.8 L1140.3 998.6 L1141.8 998.3 L1143.3 998.0 L1144.8 997.7 L1146.3 997.4 L1147.8 997.1 L1149.3 996.7 L1150.8 996.4 L1152.3 996.0 L1153.8 995.6 L1155.3 995.2 L1156.8 994.8 L1158.3 994.4 L1159.8 994.0 L1161.3 993.5 L1162.8 993.0 L1164.3 992.6 L1165.8 992.1 L1167.3 991.5 L1168.8 991.0 L1170.3 990.4 L1171.8 989.9 L1173.3 989.3 L1174.8 988.7 L1176.3 988.1 L1177.8 987.4 L1179.3 986.8 L1180.8 986.1 L1182.3 985.4 L1183.8 984.7 L1185.3 983.9 L1186.8 983.2 L1188.3 982.4 L1189.8 981.6 L1191.3 980.8 L1192.8 980.0 L1194.3 979.1 L1195.8 978.3 L1197.3 977.4 L1198.8 976.5 L1200.3 975.5 L1201.8 974.6 L1203.3 973.6 L1204.8 972.6 L1206.3 971.6 L1207.8 970.6 L1209.3 969.5 L1210.8 968.4 L1212.3 967.3 L1213.8 966.2 L1215.3 965.0 L1216.8 963.8 L1218.3 962.6 L1219.8 961.4 L1221.3 960.1 L1222.8 958.9 L1224.3 957.6 L1225.8 956.2 L1227.3 954.9 L1228.8 953.5 L1230.3 952.1 L1231.8 950.7 L1233.3 949.2 L1234.8 947.8 L1236.3 946.3 L1237.8 944.7 L1239.3 943.2 L1240.8 941.6 L1242.3 940.0 L1243.8 938.3 L1245.3 936.7 L1246.8 935.0 L1248.3 933.3 L1249.8 931.5 L1251.3 929.8 L1252.8 928.0 L1254.3 926.2 L1255.8 924.4 L1257.3 922.5 L1258.8 920.7 L1260.3 918.8 L1261.8 917.0 L1263.3 915.1 L1264.8 913.2 L1266.3 911.3 L1267.8 909.4 L1269.3 907.4 L1270.8 905.5 L1272.3 903.6 L1273.8 901.6 L1275.3 899.7 L1276.8 897.7 L1278.3 895.8 L1279.8 893.9 L1281.3 891.9 L1282.8 890.0 L1284.3 888.1 L1285.8 886.1 L1287.3 884.2 L1288.8 882.3 L1290.3 880.4 L1291.8 878.5 L1293.3 876.6 L1294.8 874.7 L1296.3 872.9 L1297.8 871.1 L1299.3 869.2 L1300.8 867.4 L1302.3 865.6 L1303.8 863.9 L1305.3 862.1 L1306.8 860.4 L1308.3 858.7 L1309.8 857.0 L1311.3 855.4 L1312.8 853.7 L1314.3 852.1 L1315.8 850.5 L1317.3 849.0 L1318.8 847.5 L1320.3 846.0 L1321.8 844.5 L1323.3 843.1 L1324.8 841.7 L1326.3 840.3 L1327.8 838.9 L1329.3 837.6 L1330.8 836.3 L1332.3 835.1 L1333.8 833.8 L1335.3 832.6 L1336.8 831.5 L1338.3 830.3 L1339.8 829.2 L1341.3 828.2 L1342.8 827.2 L1344.3 826.2 L1345.8 825.2 L1347.3 824.3 L1348.8 823.4 L1350.3 822.6 L1351.8 821.8 L1353.3 821.0 L1354.8 820.3 L1356.3 819.6 L1357.8 818.9 L1359.3 818.3 L1360.8 817.7 L1362.3 817.1 L1363.8 816.6 L1365.3 816.1 L1366.8 815.7 L1368.3 815.3 L1369.8 814.9 L1371.3 814.6 L1372.8 814.3 L1374.3 814.0 L1375.8 813.8 L1377.3 813.5 L1378.8 813.4 L1380.3 813.2 L1381.8 813.1 L1383.3 813.1 L1384.8 813.0 L1386.3 813.0 L1387.8 813.0 L1389.3 813.1 L1390.8 813.2 L1392.3 813.3 L1393.8 813.4 L1395.3 813.6 L1396.8 813.8 L1398.3 814.1 L1399.8 814.3 L1401.3 814.6 L1402.8 815.0 L1404.3 815.3 L1405.8 815.7 L1407.3 816.1 L1408.8 816.5 L1410.3 817.0 L1411.8 817.4 L1413.3 817.9 L1414.8 818.5 L1416.3 819.0 L1417.8 819.6 L1419.3 820.2 L1420.8 820.8 L1422.3 821.4 L1423.8 822.1 L1425.3 822.8 L1426.8 823.5 L1428.3 824.2 L1429.8 824.9 L1431.3 825.7 L1432.8 826.5 L1434.3 827.2 L1435.8 828.0 L1437.3 828.9 L1438.8 829.7 L1440.3 830.6 L1441.8 831.4 L1443.3 832.3 L1444.8 833.2 L1446.3 834.1 L1447.8 835.0 L1449.3 836.0 L1450.8 836.9 L1452.3 837.9 L1453.8 838.9 L1455.3 839.9 L1456.8 840.9 L1458.3 841.9 L1459.8 842.9 L1461.3 843.9 L1462.8 845.0 L1464.3 846.1 L1465.8 847.2 L1467.3 848.2 L1468.8 849.3 L1470.3 850.5 L1471.8 851.6 L1473.3 852.7 L1474.8 853.9 L1476.3 855.0 L1477.8 856.2 L1479.3 857.4 L1480.8 858.6 L1482.3 859.8 L1483.8 861.0 L1485.3 862.2 L1486.8 863.4 L1488.3 864.7 L1489.8 865.9 L1491.3 867.2 L1492.8 868.4 L1494.3 869.7 L1495.8 871.0 L1497.3 872.2 L1498.8 873.5 L1500.3 874.8 L1501.8 876.1 L1503.3 877.4 L1504.8 878.7 L1506.3 879.9 L1507.8 881.2 L1509.3 882.5 L1510.8 883.8 L1512.3 885.1 L1513.8 886.4 L1515.3 887.7 L1516.8 889.0 L1518.3 890.2 L1519.8 891.5 L1521.3 892.8 L1522.8 894.0 L1524.3 895.3 L1525.8 896.6 L1527.3 897.8 L1528.8 899.0 L1530.3 900.3 L1531.8 901.5 L1533.3 902.7 L1534.8 903.9 L1536.3 905.1 L1537.8 906.3 L1539.3 907.4 L1540.8 908.6 L1542.3 909.7 L1543.8 910.8 L1545.3 912.0 L1546.8 913.1 L1548.3 914.1 L1549.8 915.2 L1551.3 916.3 L1552.8 917.3 L1554.3 918.3 L1555.8 919.3 L1557.3 920.3 L1558.8 921.3 L1560.3 922.3 L1561.8 923.2 L1563.3 924.1 L1564.8 925.1 L1566.3 926.0 L1567.8 926.9 L1569.3 927.7 L1570.8 928.6 L1572.3 929.4 L1573.8 930.3 L1575.3 931.1 L1576.8 931.9 L1578.3 932.7 L1579.8 933.5 L1581.3 934.3 L1582.8 935.0 L1584.3 935.8 L1585.8 936.5 L1587.3 937.2 L1588.8 937.9 L1590.3 938.6 L1591.8 939.3 L1593.3 940.0 L1594.8 940.7 L1596.3 941.3 L1597.8 942.0 L1599.3 942.6 L1600.8 943.2 L1602.3 943.8 L1603.8 944.4 L1605.3 945.0 L1606.8 945.6 L1608.3 946.1 L1609.8 946.7 L1611.3 947.2 L1612.8 947.8 L1614.3 948.3 L1615.8 948.8 L1617.3 949.3 L1618.8 949.8 L1620.3 950.3 L1621.8 950.7 L1623.3 951.2 L1624.8 951.7 L1626.3 952.1 L1627.8 952.5 L1629.3 953.0 L1630.8 953.4 L1632.3 953.8 L1633.8 954.2 L1635.3 954.6 L1636.8 955.0 L1638.3 955.4 L1639.8 955.8 L1641.3 956.1 L1642.8 956.5 L1644.3 956.8 L1645.8 957.2 L1647.3 957.5 L1648.8 957.8 L1650.3 958.1 L1651.8 958.5 L1653.3 958.8 L1654.8 959.1 L1656.3 959.4 L1657.8 959.6 L1659.3 959.9 L1660.8 960.2 L1662.3 960.5 L1663.8 960.7 L1665.3 961.0 L1666.8 961.2 L1668.3 961.5 L1669.8 961.7 L1671.3 962.0 L1672.8 962.2 L1674.3 962.4 L1675.8 962.7 L1677.3 962.9 L1678.8 963.1 L1680.3 963.3 L1681.8 963.5 L1683.3 963.7 L1684.8 963.9 L1686.3 964.1 L1687.8 964.3 L1689.3 964.5 L1690.8 964.6 L1692.3 964.8 L1693.8 965.0 L1695.3 965.2 L1696.8 965.3 L1698.3 965.5 L1699.8 965.7 L1701.3 965.8 L1702.8 966.0 L1704.3 966.1 L1705.8 966.3 L1707.3 966.4 L1708.8 966.6 L1710.3 966.7 L1711.8 966.9 L1713.3 967.0 L1714.8 967.2 L1716.3 967.3 L1717.8 967.4 L1719.3 967.6 L1720.8 967.7 L1722.3 967.8 L1723.8 968.0 L1725.3 968.1 L1726.8 968.3 L1728.3 968.4 L1729.8 968.5 L1731.3 968.7 L1732.8 968.8 L1734.3 968.9 L1735.8 969.1 L1737.3 969.2 L1738.8 969.3 L1740.3 969.5 L1741.8 969.6 L1743.3 969.7 L1744.8 969.9 L1746.3 970.0 L1747.8 970.2 L1749.3 970.3 L1750.8 970.4 L1752.3 970.6 L1753.8 970.7 L1755.3 970.9 L1756.8 971.0 L1758.3 971.2 L1759.8 971.3 L1761.3 971.5 L1762.8 971.7 L1764.3 971.8 L1765.8 972.0 L1767.3 972.2 L1768.8 972.3 L1770.3 972.5 L1771.8 972.7 L1773.3 972.9 L1774.8 973.1 L1776.3 973.3 L1777.8 973.4 L1779.3 973.6 L1780.8 973.8 L1782.3 974.1 L1783.8 974.3 L1785.3 974.5 L1786.8 974.7 L1788.3 974.9 L1789.8 975.2 L1791.3 975.4 L1792.8 975.6 L1794.3 975.9 L1795.8 976.1 L1797.3 976.4 L1798.8 976.6 L1800.3 976.9" stroke="#efa93c" stroke-dasharray="9.6 4.2"/>
<path d="M1072.8 986.1 L1074.3 985.7 L1075.8 985.4 L1077.3 985.1 L1078.8 984.8 L1080.3 984.5 L1081.8 984.2 L1083.3 984.0 L1084.8 983.7 L1086.3 983.5 L1087.8 983.3 L1089.3 983.2 L1090.8 983.0 L1092.3 982.9 L1093.8 982.8 L1095.3 982.7 L1096.8 982.6 L1098.3 982.5 L1099.8 982.4 L1101.3 982.4 L1102.8 982.4 L1104.3 982.3 L1105.8 982.3 L1107.3 982.3 L1108.8 982.3 L1110.3 982.4 L1111.8 982.4 L1113.3 982.4 L1114.8 982.5 L1116.3 982.5 L1117.8 982.6 L1119.3 982.6 L1120.8 982.7 L1122.3 982.8 L1123.8 982.9 L1125.3 983.0 L1126.8 983.0 L1128.3 983.1 L1129.8 983.2 L1131.3 983.3 L1132.8 983.4 L1134.3 983.5 L1135.8 983.6 L1137.3 983.7 L1138.8 983.8 L1140.3 983.9 L1141.8 984.0 L1143.3 984.1 L1144.8 984.2 L1146.3 984.2 L1147.8 984.3 L1149.3 984.4 L1150.8 984.5 L1152.3 984.5 L1153.8 984.6 L1155.3 984.6 L1156.8 984.7 L1158.3 984.7 L1159.8 984.7 L1161.3 984.7 L1162.8 984.7 L1164.3 984.7 L1165.8 984.7 L1167.3 984.6 L1168.8 984.6 L1170.3 984.5 L1171.8 984.5 L1173.3 984.4 L1174.8 984.3 L1176.3 984.2 L1177.8 984.0 L1179.3 983.9 L1180.8 983.7 L1182.3 983.5 L1183.8 983.3 L1185.3 983.1 L1186.8 982.8 L1188.3 982.6 L1189.8 982.3 L1191.3 982.0 L1192.8 981.7 L1194.3 981.3 L1195.8 980.9 L1197.3 980.6 L1198.8 980.1 L1200.3 979.7 L1201.8 979.2 L1203.3 978.7 L1204.8 978.2 L1206.3 977.7 L1207.8 977.1 L1209.3 976.5 L1210.8 975.8 L1212.3 975.2 L1213.8 974.5 L1215.3 973.8 L1216.8 973.0 L1218.3 972.2 L1219.8 971.4 L1221.3 970.6 L1222.8 969.7 L1224.3 968.8 L1225.8 967.8 L1227.3 966.8 L1228.8 965.8 L1230.3 964.8 L1231.8 963.7 L1233.3 962.6 L1234.8 961.4 L1236.3 960.2 L1237.8 958.9 L1239.3 957.6 L1240.8 956.3 L1242.3 955.0 L1243.8 953.6 L1245.3 952.1 L1246.8 950.6 L1248.3 949.1 L1249.8 947.6 L1251.3 946.0 L1252.8 944.3 L1254.3 942.7 L1255.8 941.0 L1257.3 939.3 L1258.8 937.5 L1260.3 935.8 L1261.8 933.9 L1263.3 932.1 L1264.8 930.3 L1266.3 928.4 L1267.8 926.5 L1269.3 924.6 L1270.8 922.7 L1272.3 920.7 L1273.8 918.7 L1275.3 916.8 L1276.8 914.8 L1278.3 912.8 L1279.8 910.7 L1281.3 908.7 L1282.8 906.7 L1284.3 904.6 L1285.8 902.6 L1287.3 900.5 L1288.8 898.4 L1290.3 896.4 L1291.8 894.3 L1293.3 892.2 L1294.8 890.2 L1296.3 888.1 L1297.8 886.1 L1299.3 884.0 L1300.8 882.0 L1302.3 880.0 L1303.8 878.0 L1305.3 876.0 L1306.8 874.0 L1308.3 872.0 L1309.8 870.1 L1311.3 868.1 L1312.8 866.2 L1314.3 864.4 L1315.8 862.5 L1317.3 860.7 L1318.8 858.9 L1320.3 857.1 L1321.8 855.4 L1323.3 853.7 L1324.8 852.0 L1326.3 850.4 L1327.8 848.8 L1329.3 847.2 L1330.8 845.7 L1332.3 844.2 L1333.8 842.7 L1335.3 841.3 L1336.8 839.9 L1338.3 838.5 L1339.8 837.2 L1341.3 835.9 L1342.8 834.6 L1344.3 833.4 L1345.8 832.2 L1347.3 831.0 L1348.8 829.9 L1350.3 828.8 L1351.8 827.7 L1353.3 826.7 L1354.8 825.7 L1356.3 824.7 L1357.8 823.8 L1359.3 822.9 L1360.8 822.0 L1362.3 821.2 L1363.8 820.4 L1365.3 819.6 L1366.8 818.9 L1368.3 818.2 L1369.8 817.6 L1371.3 817.0 L1372.8 816.4 L1374.3 815.8 L1375.8 815.3 L1377.3 814.9 L1378.8 814.4 L1380.3 814.0 L1381.8 813.6 L1383.3 813.3 L1384.8 813.0 L1386.3 812.8 L1387.8 812.5 L1389.3 812.4 L1390.8 812.2 L1392.3 812.1 L1393.8 812.0 L1395.3 812.0 L1396.8 812.0 L1398.3 812.0 L1399.8 812.1 L1401.3 812.2 L1402.8 812.3 L1404.3 812.5 L1405.8 812.7 L1407.3 813.0 L1408.8 813.2 L1410.3 813.6 L1411.8 813.9 L1413.3 814.3 L1414.8 814.7 L1416.3 815.1 L1417.8 815.6 L1419.3 816.1 L1420.8 816.6 L1422.3 817.1 L1423.8 817.7 L1425.3 818.3 L1426.8 818.9 L1428.3 819.5 L1429.8 820.2 L1431.3 820.8 L1432.8 821.5 L1434.3 822.2 L1435.8 823.0 L1437.3 823.7 L1438.8 824.5 L1440.3 825.3 L1441.8 826.0 L1443.3 826.8 L1444.8 827.7 L1446.3 828.5 L1447.8 829.3 L1449.3 830.2 L1450.8 831.1 L1452.3 831.9 L1453.8 832.8 L1455.3 833.8 L1456.8 834.7 L1458.3 835.6 L1459.8 836.6 L1461.3 837.5 L1462.8 838.5 L1464.3 839.5 L1465.8 840.5 L1467.3 841.5 L1468.8 842.5 L1470.3 843.6 L1471.8 844.6 L1473.3 845.7 L1474.8 846.7 L1476.3 847.8 L1477.8 848.9 L1479.3 850.0 L1480.8 851.2 L1482.3 852.3 L1483.8 853.4 L1485.3 854.6 L1486.8 855.8 L1488.3 856.9 L1489.8 858.1 L1491.3 859.3 L1492.8 860.5 L1494.3 861.7 L1495.8 862.9 L1497.3 864.1 L1498.8 865.3 L1500.3 866.6 L1501.8 867.8 L1503.3 869.0 L1504.8 870.3 L1506.3 871.5 L1507.8 872.7 L1509.3 874.0 L1510.8 875.2 L1512.3 876.4 L1513.8 877.6 L1515.3 878.9 L1516.8 880.1 L1518.3 881.3 L1519.8 882.5 L1521.3 883.7 L1522.8 884.9 L1524.3 886.1 L1525.8 887.3 L1527.3 888.4 L1528.8 889.6 L1530.3 890.7 L1531.8 891.9 L1533.3 893.0 L1534.8 894.1 L1536.3 895.2 L1537.8 896.3 L1539.3 897.4 L1540.8 898.4 L1542.3 899.5 L1543.8 900.5 L1545.3 901.5 L1546.8 902.5 L1548.3 903.5 L1549.8 904.4 L1551.3 905.3 L1552.8 906.3 L1554.3 907.1 L1555.8 908.0 L1557.3 908.9 L1558.8 909.7 L1560.3 910.6 L1561.8 911.4 L1563.3 912.2 L1564.8 912.9 L1566.3 913.7 L1567.8 914.4 L1569.3 915.2 L1570.8 915.9 L1572.3 916.6 L1573.8 917.3 L1575.3 917.9 L1576.8 918.6 L1578.3 919.3 L1579.8 919.9 L1581.3 920.5 L1582.8 921.1 L1584.3 921.7 L1585.8 922.3 L1587.3 922.9 L1588.8 923.4 L1590.3 924.0 L1591.8 924.5 L1593.3 925.0 L1594.8 925.6 L1596.3 926.1 L1597.8 926.6 L1599.3 927.0 L1600.8 927.5 L1602.3 928.0 L1603.8 928.5 L1605.3 928.9 L1606.8 929.4 L1608.3 929.8 L1609.8 930.2 L1611.3 930.7 L1612.8 931.1 L1614.3 931.5 L1615.8 931.9 L1617.3 932.3 L1618.8 932.7 L1620.3 933.1 L1621.8 933.4 L1623.3 933.8 L1624.8 934.2 L1626.3 934.6 L1627.8 934.9 L1629.3 935.3 L1630.8 935.6 L1632.3 936.0 L1633.8 936.3 L1635.3 936.7 L1636.8 937.0 L1638.3 937.4 L1639.8 937.7 L1641.3 938.1 L1642.8 938.4 L1644.3 938.8 L1645.8 939.1 L1647.3 939.4 L1648.8 939.8 L1650.3 940.1 L1651.8 940.5 L1653.3 940.8 L1654.8 941.1 L1656.3 941.5 L1657.8 941.8 L1659.3 942.2 L1660.8 942.5 L1662.3 942.9 L1663.8 943.2 L1665.3 943.6 L1666.8 944.0 L1668.3 944.3 L1669.8 944.7 L1671.3 945.1 L1672.8 945.4 L1674.3 945.8 L1675.8 946.2 L1677.3 946.5 L1678.8 946.9 L1680.3 947.3 L1681.8 947.7 L1683.3 948.0 L1684.8 948.4 L1686.3 948.8 L1687.8 949.2 L1689.3 949.5 L1690.8 949.9 L1692.3 950.3 L1693.8 950.7 L1695.3 951.0 L1696.8 951.4 L1698.3 951.8 L1699.8 952.2 L1701.3 952.6 L1702.8 952.9 L1704.3 953.3 L1705.8 953.7 L1707.3 954.1 L1708.8 954.4 L1710.3 954.8 L1711.8 955.2 L1713.3 955.6 L1714.8 955.9 L1716.3 956.3 L1717.8 956.7 L1719.3 957.0 L1720.8 957.4 L1722.3 957.7 L1723.8 958.1 L1725.3 958.5 L1726.8 958.8 L1728.3 959.2 L1729.8 959.5 L1731.3 959.9 L1732.8 960.2 L1734.3 960.6 L1735.8 960.9 L1737.3 961.2 L1738.8 961.6 L1740.3 961.9 L1741.8 962.2 L1743.3 962.6 L1744.8 962.9 L1746.3 963.2 L1747.8 963.5 L1749.3 963.8 L1750.8 964.2 L1752.3 964.5 L1753.8 964.8 L1755.3 965.1 L1756.8 965.3 L1758.3 965.6 L1759.8 965.9 L1761.3 966.2 L1762.8 966.5 L1764.3 966.8 L1765.8 967.0 L1767.3 967.3 L1768.8 967.5 L1770.3 967.8 L1771.8 968.0 L1773.3 968.3 L1774.8 968.5 L1776.3 968.7 L1777.8 969.0 L1779.3 969.2 L1780.8 969.4 L1782.3 969.6 L1783.8 969.8 L1785.3 970.0 L1786.8 970.2 L1788.3 970.4 L1789.8 970.6 L1791.3 970.7 L1792.8 970.9 L1794.3 971.0 L1795.8 971.2 L1797.3 971.3 L1798.8 971.5 L1800.3 971.6" stroke="#23963f" stroke-dasharray="9.6 4.2"/>
</g>
<g stroke="#303030" stroke-width="1.5" fill="none">
<rect x="1072.85" y="634.88" width="728.15" height="390.69"/>
<path d="M1072.85 1025.57H1068.05"/>
<path d="M1072.85 940.06H1068.05"/>
<path d="M1072.85 854.55H1068.05"/>
<path d="M1072.85 769.04H1068.05"/>
<path d="M1072.85 683.53H1068.05"/>
<path d="M1801.00 634.88H1805.80"/>
<path d="M1801.00 694.21H1805.80"/>
<path d="M1801.00 753.54H1805.80"/>
<path d="M1801.00 812.87H1805.80"/>
<path d="M1801.00 872.20H1805.80"/>
<path d="M1801.00 931.53H1805.80"/>
<path d="M1801.00 990.86H1805.80"/>
<path d="M1126.70 1025.57V1030.37"/>
<path d="M1450.60 1025.57V1030.37"/>
<path d="M1774.20 1025.57V1030.37"/>
</g>
<text x="1063.9" y="1033.5" font-size="23.15" text-anchor="end" font-weight="normal" >0</text>
<text x="1063.9" y="948.0" font-size="23.15" text-anchor="end" font-weight="normal" >2000</text>
<text x="1063.9" y="862.4" font-size="23.15" text-anchor="end" font-weight="normal" >4000</text>
<text x="1063.9" y="776.9" font-size="23.15" text-anchor="end" font-weight="normal" >6000</text>
<text x="1063.9" y="691.4" font-size="23.15" text-anchor="end" font-weight="normal" >8000</text>
<text x="1809.7" y="643.2" font-size="23.15" text-anchor="start" font-weight="normal" >0</text>
<text x="1809.7" y="702.5" font-size="23.15" text-anchor="start" font-weight="normal" >20</text>
<text x="1809.7" y="761.8" font-size="23.15" text-anchor="start" font-weight="normal" >40</text>
<text x="1809.7" y="821.2" font-size="23.15" text-anchor="start" font-weight="normal" >60</text>
<text x="1809.7" y="880.5" font-size="23.15" text-anchor="start" font-weight="normal" >80</text>
<text x="1809.7" y="939.8" font-size="23.15" text-anchor="start" font-weight="normal" >100</text>
<text x="1809.7" y="999.2" font-size="23.15" text-anchor="start" font-weight="normal" >120</text>
<text transform="translate(1123.7 1048.0) rotate(-31)" font-size="23.15" text-anchor="end">2020-07-26</text>
<text transform="translate(1447.6 1048.0) rotate(-31)" font-size="23.15" text-anchor="end">2020-07-27</text>
<text transform="translate(1771.2 1048.0) rotate(-31)" font-size="23.15" text-anchor="end">2020-07-28</text>
<text transform="translate(1006.3 830.0) rotate(-90)" font-size="23.15" text-anchor="middle">Flow discharge (m³/s)</text>
<text transform="translate(1865.5 830.0) rotate(-90)" font-size="23.15" text-anchor="middle">Rainfall (mm)</text>
<text x="1437.0" y="1129.0" font-size="23.15" text-anchor="middle" font-weight="normal" >Date</text>
<text x="1428.6" y="1199.1" font-size="44.50" text-anchor="middle" font-weight="bold" fill="#000">(d) 20200726</text>
<path d="M1537.5 664.0H1584.2" stroke="#000000" stroke-width="2.60" fill="none" stroke-linecap="square"/>
<text x="1602.9" y="672.5" font-size="23.15" text-anchor="start" font-weight="normal" >Observation</text>
<path d="M1537.5 697.0H1584.2" stroke="#d71a26" stroke-width="2.60" fill="none" stroke-dasharray="9.6 4.2"/>
<text x="1602.9" y="705.5" font-size="23.15" text-anchor="start" font-weight="normal" >EDL model</text>
<path d="M1537.5 729.9H1584.2" stroke="#9684d2" stroke-width="2.60" fill="none" stroke-dasharray="9.6 4.2"/>
<text x="1602.9" y="738.4" font-size="23.15" text-anchor="start" font-weight="normal" >XAJ model</text>
<path d="M1537.5 763.0H1584.2" stroke="#efa93c" stroke-width="2.60" fill="none" stroke-dasharray="9.6 4.2"/>
<text x="1602.9" y="771.5" font-size="23.15" text-anchor="start" font-weight="normal" >LSTM model</text>
<path d="M1537.5 796.0H1584.2" stroke="#23963f" stroke-width="2.60" fill="none" stroke-dasharray="9.6 4.2"/>
<text x="1602.9" y="804.5" font-size="23.15" text-anchor="start" font-weight="normal" >XAJ-LSTM model</text>
<rect x="1537.5" y="821.1" width="46.7" height="16.0" fill="#6cc0e6"/>
<text x="1602.9" y="837.4" font-size="23.15" text-anchor="start" font-weight="normal" >Rainfall</text>
</svg>
</body></html>
